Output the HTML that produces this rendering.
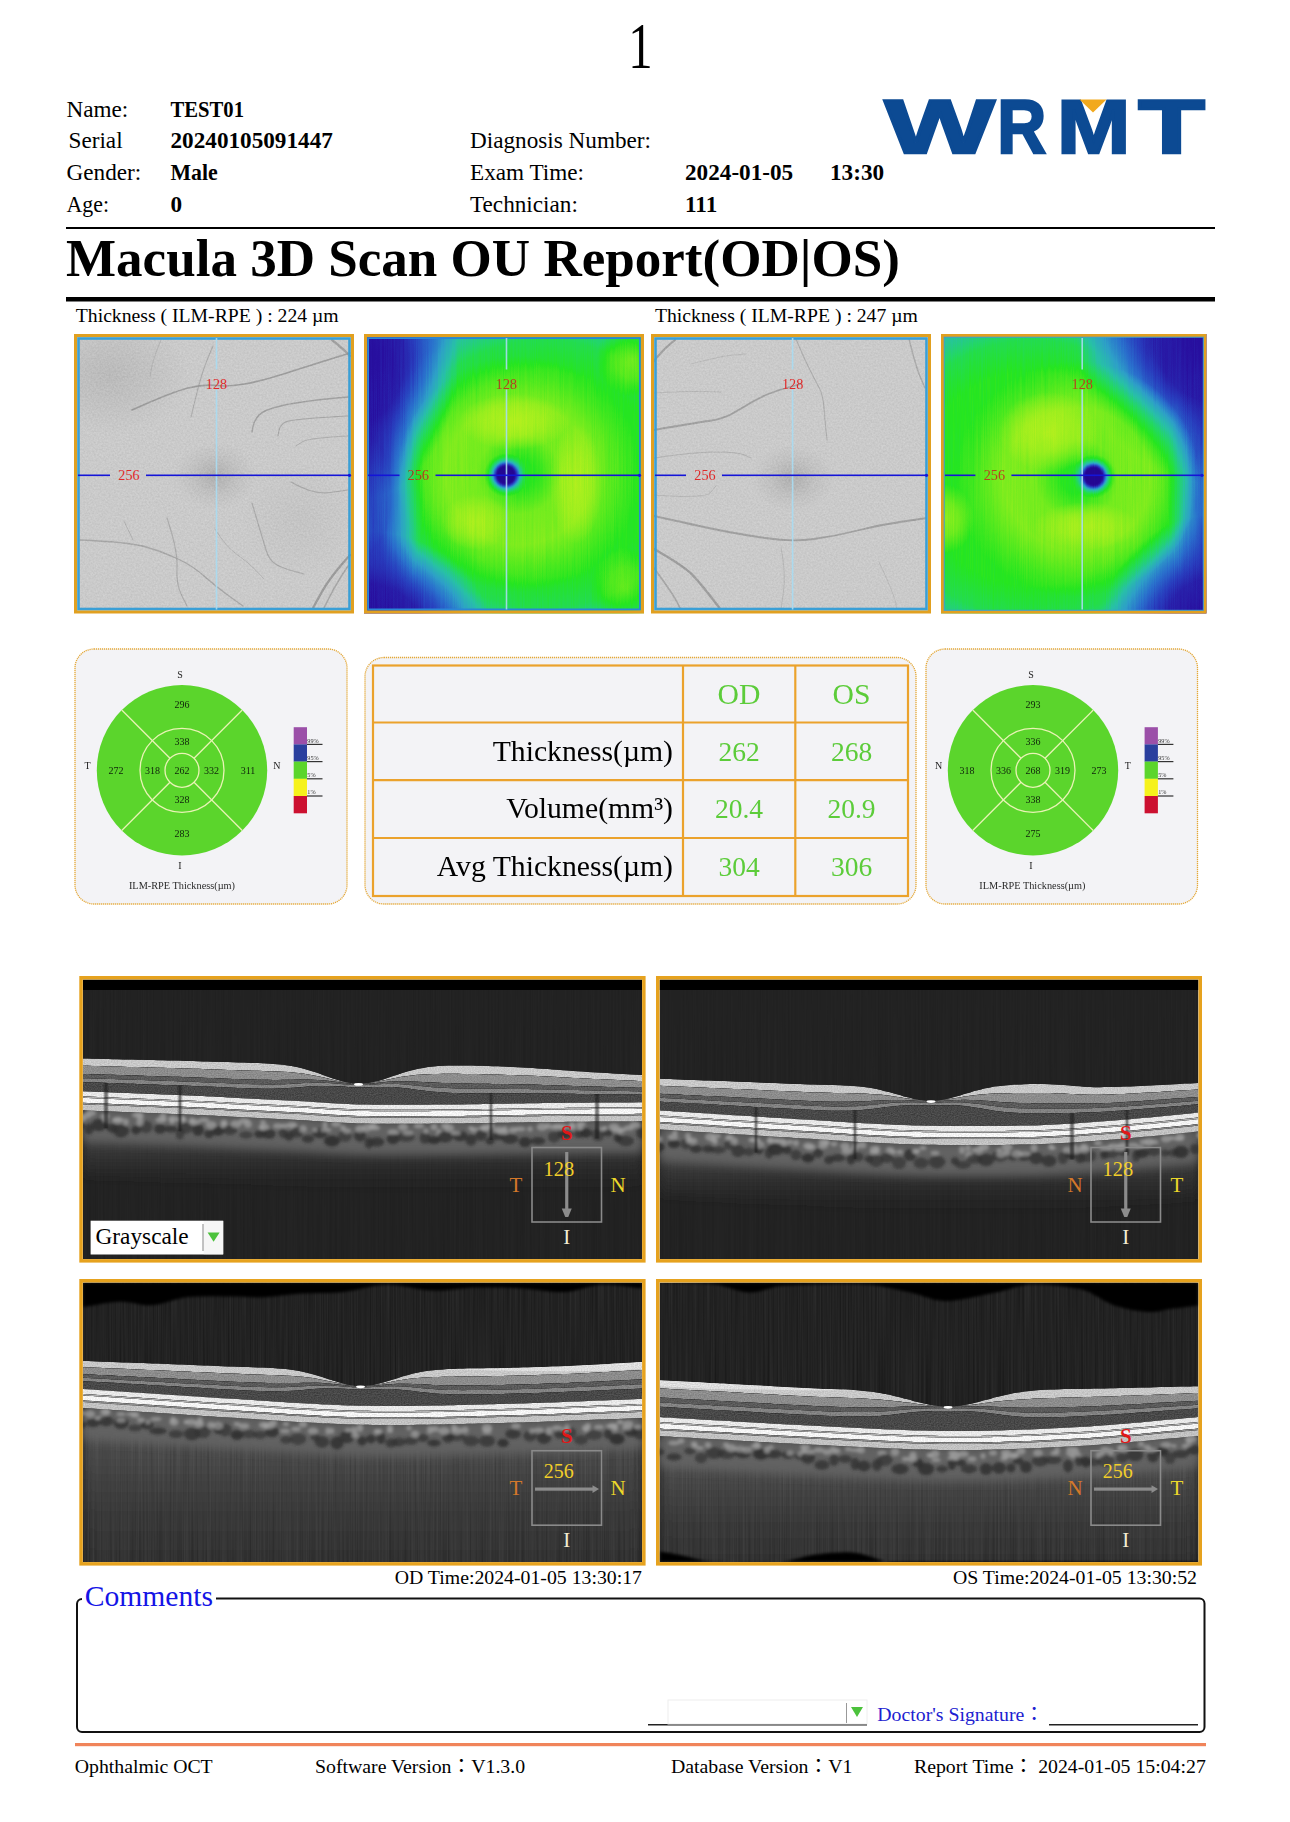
<!DOCTYPE html><html><head><meta charset="utf-8"><title>Macula 3D Scan OU Report</title><style>html,body{margin:0;padding:0;background:#fff;}body{width:1290px;height:1822px;overflow:hidden;}svg{display:block;}</style></head><body><svg width="1290" height="1822" viewBox="0 0 1290 1822" font-family="'Liberation Serif','Noto Sans CJK TC',serif">
<rect width="1290" height="1822" fill="#fff"/>
<text x="640.5" y="68.3" font-size="65" text-anchor="middle" font-weight="normal" fill="#000" transform="translate(640.5 0) scale(0.75 1) translate(-640.5 0)">1</text>
<text x="66.5" y="117.1" font-size="23.2" text-anchor="start" font-weight="normal" fill="#000" >Name:</text>
<text x="68.5" y="148.4" font-size="23.2" text-anchor="start" font-weight="normal" fill="#000" >Serial</text>
<text x="66.5" y="179.8" font-size="23.2" text-anchor="start" font-weight="normal" fill="#000" >Gender:</text>
<text x="66.5" y="211.5" font-size="23.2" text-anchor="start" font-weight="normal" fill="#000" textLength="42.5" lengthAdjust="spacingAndGlyphs">Age:</text>
<text x="170.5" y="117.1" font-size="23.2" text-anchor="start" font-weight="bold" fill="#000" textLength="73.5" lengthAdjust="spacingAndGlyphs">TEST01</text>
<text x="170.5" y="148.4" font-size="23.2" text-anchor="start" font-weight="bold" fill="#000" >20240105091447</text>
<text x="170.5" y="179.8" font-size="23.2" text-anchor="start" font-weight="bold" fill="#000" textLength="47.3" lengthAdjust="spacingAndGlyphs">Male</text>
<text x="170.5" y="211.5" font-size="23.2" text-anchor="start" font-weight="bold" fill="#000" >0</text>
<text x="470" y="148.4" font-size="23.2" text-anchor="start" font-weight="normal" fill="#000" >Diagnosis Number:</text>
<text x="470" y="179.8" font-size="23.2" text-anchor="start" font-weight="normal" fill="#000" >Exam Time:</text>
<text x="470" y="211.5" font-size="23.2" text-anchor="start" font-weight="normal" fill="#000" >Technician:</text>
<text x="685" y="179.8" font-size="23.2" text-anchor="start" font-weight="bold" fill="#000" >2024-01-05</text>
<text x="830" y="179.8" font-size="23.2" text-anchor="start" font-weight="bold" fill="#000" >13:30</text>
<text x="685" y="211.5" font-size="23.2" text-anchor="start" font-weight="bold" fill="#000" >111</text>
<g>
<text x="884.6" y="153.0" font-size="75.3" font-family="'Liberation Sans',sans-serif" font-weight="bold" fill="#0c4a93" stroke="#0c4a93" stroke-width="2.4" stroke-linejoin="miter" textLength="110.2" lengthAdjust="spacingAndGlyphs">W</text>
<text x="997.2" y="153.0" font-size="75.3" font-family="'Liberation Sans',sans-serif" font-weight="bold" fill="#0c4a93" stroke="#0c4a93" stroke-width="2.4" stroke-linejoin="miter" textLength="49.0" lengthAdjust="spacingAndGlyphs">R</text>
<text x="1056.9" y="153.0" font-size="75.3" font-family="'Liberation Sans',sans-serif" font-weight="bold" fill="#0c4a93" stroke="#0c4a93" stroke-width="2.4" stroke-linejoin="miter" textLength="73.4" lengthAdjust="spacingAndGlyphs">M</text>
<text x="1138.3" y="153.0" font-size="75.3" font-family="'Liberation Sans',sans-serif" font-weight="bold" fill="#0c4a93" stroke="#0c4a93" stroke-width="2.4" stroke-linejoin="miter" textLength="66.60000000000001" lengthAdjust="spacingAndGlyphs">T</text>
<polygon points="1079.5,99.6 1106.5,99.6 1093,112.5" fill="#f2a91d"/>
</g>
<rect x="66" y="227" width="1149" height="2" fill="#000"/>
<text x="66" y="275.5" font-size="53.05" text-anchor="start" font-weight="bold" fill="#000" >Macula 3D Scan OU Report(OD|OS)</text>
<rect x="66" y="297" width="1149" height="4.5" fill="#000"/>
<text x="75.8" y="321.5" font-size="19.7" text-anchor="start" font-weight="normal" fill="#000" >Thickness ( ILM-RPE ) : 224 µm</text>
<text x="655" y="321.5" font-size="19.7" text-anchor="start" font-weight="normal" fill="#000" >Thickness ( ILM-RPE ) : 247 µm</text>
<defs>
<filter id="cmap" x="0" y="0" width="1" height="1" color-interpolation-filters="sRGB"><feTurbulence type="fractalNoise" baseFrequency="0.9 0.012" numOctaves="2" seed="3" result="n"/><feColorMatrix in="n" type="matrix" values="0 0 0 0 0  0 0 0 0 0  0 0 0 0 0  0.33 0.33 0.33 0 0" result="ng"/><feColorMatrix in="n" type="matrix" values="1 0 0 0 0  1 0 0 0 0  1 0 0 0 0  0 0 0 0 1" result="nr"/><feComposite in="SourceGraphic" in2="nr" operator="arithmetic" k1="0" k2="1" k3="0.06" k4="-0.03" result="s"/><feComponentTransfer in="s"><feFuncR type="table" tableValues="0.141 0.157 0.157 0.165 0.180 0.157 0.137 0.149 0.439 0.698 0.839"/><feFuncG type="table" tableValues="0.024 0.063 0.243 0.439 0.627 0.753 0.847 0.902 0.925 0.941 0.941"/><feFuncB type="table" tableValues="0.573 0.627 0.745 0.804 0.784 0.659 0.392 0.125 0.118 0.118 0.165"/><feFuncA type="identity"/></feComponentTransfer></filter>
<filter id="fnoise" x="0" y="0" width="1" height="1" color-interpolation-filters="sRGB"><feTurbulence type="fractalNoise" baseFrequency="0.55" numOctaves="2" seed="7" result="n"/><feColorMatrix in="n" type="matrix" values="1 0 0 0 0  1 0 0 0 0  1 0 0 0 0  0 0 0 0 1" result="nr"/><feComposite in="SourceGraphic" in2="nr" operator="arithmetic" k1="0" k2="1" k3="0.10" k4="-0.05"/></filter>
<filter id="blur1" x="-20%" y="-20%" width="140%" height="140%"><feGaussianBlur stdDeviation="0.6"/></filter>
<radialGradient id="odBase" cx="0.5" cy="0.5" r="0.5"><stop offset="0" stop-color="rgb(184,184,184)"/><stop offset="0.5" stop-color="rgb(178,178,178)"/><stop offset="0.68" stop-color="rgb(158,158,158)"/><stop offset="0.8" stop-color="rgb(115,115,115)"/><stop offset="0.9" stop-color="rgb(64,64,64)"/><stop offset="1" stop-color="rgb(31,31,31)"/></radialGradient>
<radialGradient id="odBase2" cx="0.5" cy="0.5" r="0.5"><stop offset="0" stop-color="rgb(178,178,178)" stop-opacity="1"/><stop offset="0.6" stop-color="rgb(178,178,178)" stop-opacity="1"/><stop offset="0.78" stop-color="rgb(161,161,161)" stop-opacity="1"/><stop offset="0.9" stop-color="rgb(140,140,140)" stop-opacity="0.7"/><stop offset="1" stop-color="rgb(117,117,117)" stop-opacity="0"/></radialGradient>
<radialGradient id="dk" cx="0.5" cy="0.5" r="0.5"><stop offset="0" stop-color="rgb(20,20,20)" stop-opacity="1"/><stop offset="0.45" stop-color="rgb(20,20,20)" stop-opacity="0.85"/><stop offset="0.75" stop-color="rgb(20,20,20)" stop-opacity="0.4"/><stop offset="1" stop-color="rgb(20,20,20)" stop-opacity="0"/></radialGradient>
<radialGradient id="ring" cx="0.5" cy="0.5" r="0.5"><stop offset="0" stop-color="rgb(224,224,224)" stop-opacity="0"/><stop offset="0.12" stop-color="rgb(224,224,224)" stop-opacity="0"/><stop offset="0.34" stop-color="rgb(224,224,224)" stop-opacity="0.6"/><stop offset="0.6" stop-color="rgb(224,224,224)" stop-opacity="0.7"/><stop offset="0.84" stop-color="rgb(224,224,224)" stop-opacity="0.25"/><stop offset="1" stop-color="rgb(224,224,224)" stop-opacity="0"/></radialGradient>
<radialGradient id="fov" cx="0.5" cy="0.5" r="0.5"><stop offset="0" stop-color="#000" stop-opacity="1"/><stop offset="0.36" stop-color="#000" stop-opacity="1"/><stop offset="0.5" stop-color="#000" stop-opacity="0.7"/><stop offset="0.65" stop-color="#000" stop-opacity="0.3"/><stop offset="0.82" stop-color="#000" stop-opacity="0.08"/><stop offset="1" stop-color="#000" stop-opacity="0"/></radialGradient>
<radialGradient id="fdark" cx="0.5" cy="0.5" r="0.5"><stop offset="0" stop-color="#000" stop-opacity="0.16"/><stop offset="0.4" stop-color="#000" stop-opacity="0.1"/><stop offset="1" stop-color="#000" stop-opacity="0"/></radialGradient>
<clipPath id="cb0"><rect x="74" y="334" width="280" height="279.5"/></clipPath>
<clipPath id="cb1"><rect x="364" y="334" width="280" height="279.5"/></clipPath>
<clipPath id="cb2"><rect x="651" y="334" width="280" height="279.5"/></clipPath>
<clipPath id="cb3"><rect x="941" y="334" width="265.5" height="279.5"/></clipPath>
<radialGradient id="blob" cx="0.5" cy="0.5" r="0.5"><stop offset="0" stop-color="rgb(235,235,235)" stop-opacity="0.9"/><stop offset="0.5" stop-color="rgb(235,235,235)" stop-opacity="0.6"/><stop offset="1" stop-color="rgb(235,235,235)" stop-opacity="0"/></radialGradient>
</defs>
<g clip-path="url(#cb0)"><g filter="url(#fnoise)">
<rect x="78" y="338" width="272" height="271.5" fill="#cacaca"/>
<ellipse cx="110" cy="375" rx="80" ry="60" fill="url(#fdark)" opacity="0.5"/>
<ellipse cx="300" cy="520" rx="60" ry="60" fill="url(#fdark)" opacity="0.2"/>
<ellipse cx="215" cy="475.5" rx="42" ry="34" fill="url(#fdark)" opacity="0.6"/>
<ellipse cx="215" cy="475.5" rx="22" ry="20" fill="url(#fdark)" opacity="0.25"/>
<path d="M132.0,410.0 Q172.0,392.0 188.0,388.0 Q204.0,384.0 217.0,385.5 Q230.0,387.0 247.5,383.5 Q265.0,380.0 283.5,374.0 Q302.0,368.0 326.0,360.5 L350.0,353.0" fill="none" stroke="#8e8e8e" stroke-width="1.65" stroke-opacity="0.75" stroke-linecap="round"/>
<path d="M213.0,346.0 Q205.0,364.0 201.5,376.0 Q198.0,388.0 194.5,402.5 L191.0,417.0" fill="none" stroke="#8e8e8e" stroke-width="1.05" stroke-opacity="0.55" stroke-linecap="round"/>
<path d="M161.0,340.0 Q153.0,359.0 151.5,368.0 L150.0,377.0" fill="none" stroke="#8e8e8e" stroke-width="0.90" stroke-opacity="0.4" stroke-linecap="round"/>
<path d="M348.0,397.0 Q302.0,401.0 282.5,405.5 Q263.0,410.0 258.5,415.5 Q254.0,421.0 253.0,426.5 L252.0,432.0" fill="none" stroke="#8e8e8e" stroke-width="1.35" stroke-opacity="0.7" stroke-linecap="round"/>
<path d="M348.0,416.0 Q291.0,419.0 285.5,422.0 Q280.0,425.0 279.0,430.5 L278.0,436.0" fill="none" stroke="#8e8e8e" stroke-width="1.12" stroke-opacity="0.6" stroke-linecap="round"/>
<path d="M348.0,436.0 Q308.0,438.0 302.0,442.0 L296.0,446.0" fill="none" stroke="#8e8e8e" stroke-width="0.98" stroke-opacity="0.5" stroke-linecap="round"/>
<path d="M291.0,482.0 Q313.0,495.0 330.5,492.5 L348.0,490.0" fill="none" stroke="#8e8e8e" stroke-width="1.12" stroke-opacity="0.55" stroke-linecap="round"/>
<path d="M350.0,555.0 Q330.0,577.0 321.5,592.5 L313.0,608.0" fill="none" stroke="#8e8e8e" stroke-width="2.25" stroke-opacity="0.8" stroke-linecap="round"/>
<path d="M348.0,566.0 Q336.0,584.0 330.0,596.0 L324.0,608.0" fill="none" stroke="#8e8e8e" stroke-width="1.50" stroke-opacity="0.6" stroke-linecap="round"/>
<path d="M332.0,340.0 Q342.0,348.0 346.0,352.0 L350.0,356.0" fill="none" stroke="#8e8e8e" stroke-width="2.25" stroke-opacity="0.7" stroke-linecap="round"/>
<path d="M80.0,540.0 Q128.0,542.0 144.5,546.5 Q161.0,551.0 177.0,558.5 Q193.0,566.0 204.0,576.0 Q215.0,586.0 229.0,596.0 L243.0,606.0" fill="none" stroke="#8e8e8e" stroke-width="1.35" stroke-opacity="0.6" stroke-linecap="round"/>
<path d="M124.0,521.0 L133.0,540.0" fill="none" stroke="#8e8e8e" stroke-width="0.90" stroke-opacity="0.5" stroke-linecap="round"/>
<path d="M167.0,518.0 Q178.0,551.0 177.0,567.5 Q176.0,584.0 181.5,595.0 L187.0,606.0" fill="none" stroke="#8e8e8e" stroke-width="1.12" stroke-opacity="0.55" stroke-linecap="round"/>
<path d="M252.0,503.0 Q263.0,540.0 266.0,550.0 Q269.0,560.0 275.5,564.0 Q282.0,568.0 293.0,571.0 L304.0,574.0" fill="none" stroke="#8e8e8e" stroke-width="1.12" stroke-opacity="0.55" stroke-linecap="round"/>
<path d="M215.0,529.0 Q226.0,547.0 237.0,554.5 Q248.0,562.0 256.0,570.5 L264.0,579.0" fill="none" stroke="#8e8e8e" stroke-width="0.90" stroke-opacity="0.45" stroke-linecap="round"/>
</g></g>
<rect x="75.6" y="335.6" width="276.8" height="276.3" fill="none" stroke="#e1a020" stroke-width="3.2"/>
<rect x="78.5" y="338.5" width="271.0" height="270.5" fill="none" stroke="#3a9fd6" stroke-width="2.6"/>
<rect x="215.7" y="338" width="1.6" height="31.5" fill="#a8dcf2" opacity="0.9"/>
<rect x="215.7" y="389.5" width="1.6" height="220.0" fill="#a8dcf2" opacity="0.9"/>
<rect x="78" y="474.5" width="32" height="1.6" fill="#1414d8"/>
<rect x="146" y="474.5" width="204" height="1.6" fill="#1414d8"/>
<circle cx="349.5" cy="475.3" r="1.6" fill="#1414d8"/>
<text x="216.5" y="388.5" font-size="14.2" text-anchor="middle" font-weight="normal" fill="#e02828" >128</text>
<text x="129" y="480.3" font-size="14.2" text-anchor="middle" font-weight="normal" fill="#e02828" >256</text>
<g clip-path="url(#cb1)"><g filter="url(#cmap)">
<rect x="367" y="337" width="274" height="273.5" fill="rgb(117,117,117)"/>
<ellipse cx="544" cy="474" rx="188" ry="172" fill="url(#odBase2)"/>
<ellipse cx="359" cy="359" rx="100" ry="140" fill="url(#dk)"/>
<ellipse cx="364" cy="626" rx="125" ry="95" fill="url(#dk)"/>
<ellipse cx="364" cy="494" rx="60" ry="130" fill="url(#dk)" opacity="0.7"/>
<ellipse cx="519" cy="474" rx="122" ry="118" fill="url(#ring)"/>
<ellipse cx="514" cy="422" rx="55" ry="28" fill="url(#blob)" opacity="0.9"/>
<ellipse cx="576" cy="484" rx="26" ry="60" fill="url(#blob)" opacity="0.85"/>
<ellipse cx="476" cy="522" rx="34" ry="28" fill="url(#blob)" opacity="0.75"/>
<ellipse cx="632" cy="359" rx="36" ry="38" fill="url(#blob)" opacity="0.7"/>
<ellipse cx="626" cy="589" rx="36" ry="42" fill="url(#blob)" opacity="0.6"/>
<circle cx="506" cy="475" r="22" fill="url(#fov)"/>
</g></g>
<rect x="365.6" y="335.6" width="276.8" height="276.3" fill="none" stroke="#e1a020" stroke-width="3.2"/>
<rect x="368.09999999999997" y="338.09999999999997" width="271.8" height="271.3" fill="none" stroke="#2a86d6" stroke-width="1.8"/>
<rect x="505.7" y="338" width="1.6" height="31.5" fill="#a8dcf2" opacity="0.9"/>
<rect x="505.7" y="389.5" width="1.6" height="220.0" fill="#a8dcf2" opacity="0.9"/>
<rect x="368" y="474.5" width="31.5" height="1.6" fill="#1414d8"/>
<rect x="435.5" y="474.5" width="204.5" height="1.6" fill="#1414d8"/>
<circle cx="639.5" cy="475.3" r="1.6" fill="#1414d8"/>
<text x="506.5" y="388.5" font-size="14.2" text-anchor="middle" font-weight="normal" fill="#b84020" >128</text>
<text x="418.5" y="480.3" font-size="14.2" text-anchor="middle" font-weight="normal" fill="#b84020" >256</text>
<g clip-path="url(#cb2)"><g filter="url(#fnoise)">
<rect x="655" y="338" width="272" height="271.5" fill="#cacaca"/>
<ellipse cx="160" cy="380" rx="60" ry="50" fill="url(#fdark)" opacity="0.4"/>
<ellipse cx="792.5" cy="478" rx="42" ry="34" fill="url(#fdark)" opacity="0.6"/>
<ellipse cx="792.5" cy="478" rx="22" ry="20" fill="url(#fdark)" opacity="0.25"/>
<path d="M653.0,362.0 Q663.0,350.0 669.0,345.0 L675.0,340.0" fill="none" stroke="#8e8e8e" stroke-width="2.25" stroke-opacity="0.7" stroke-linecap="round"/>
<path d="M654.0,430.0 Q694.0,423.0 708.5,421.0 Q723.0,419.0 732.5,413.5 Q742.0,408.0 753.0,401.5 Q764.0,395.0 775.0,391.5 Q786.0,388.0 793.5,386.0 L801.0,384.0" fill="none" stroke="#8e8e8e" stroke-width="1.80" stroke-opacity="0.7" stroke-linecap="round"/>
<path d="M654.0,393.0 Q691.0,391.0 706.0,391.5 L721.0,392.0" fill="none" stroke="#8e8e8e" stroke-width="0.98" stroke-opacity="0.35" stroke-linecap="round"/>
<path d="M691.0,364.0 Q721.0,356.0 733.5,355.0 L746.0,354.0" fill="none" stroke="#8e8e8e" stroke-width="0.90" stroke-opacity="0.3" stroke-linecap="round"/>
<path d="M796.0,339.0 Q803.0,356.0 809.5,369.0 Q816.0,382.0 819.5,388.5 Q823.0,395.0 824.0,408.0 Q825.0,421.0 826.0,430.5 L827.0,440.0" fill="none" stroke="#8e8e8e" stroke-width="1.05" stroke-opacity="0.5" stroke-linecap="round"/>
<path d="M909.0,339.0 Q916.0,367.0 920.5,377.5 L925.0,388.0" fill="none" stroke="#8e8e8e" stroke-width="1.35" stroke-opacity="0.55" stroke-linecap="round"/>
<path d="M654.0,458.0 Q694.0,452.0 716.0,452.0 Q738.0,452.0 744.5,455.0 L751.0,458.0" fill="none" stroke="#8e8e8e" stroke-width="0.98" stroke-opacity="0.45" stroke-linecap="round"/>
<path d="M654.0,495.0 Q705.0,499.0 710.5,492.5 L716.0,486.0" fill="none" stroke="#8e8e8e" stroke-width="0.90" stroke-opacity="0.4" stroke-linecap="round"/>
<path d="M654.0,516.0 Q694.0,525.0 716.0,529.5 Q738.0,534.0 765.0,538.0 Q792.0,542.0 814.0,539.0 Q836.0,536.0 857.5,530.5 Q879.0,525.0 903.0,521.5 L927.0,518.0" fill="none" stroke="#8e8e8e" stroke-width="1.80" stroke-opacity="0.7" stroke-linecap="round"/>
<path d="M654.0,549.0 Q684.0,566.0 692.5,575.0 Q701.0,584.0 711.0,597.0 L721.0,610.0" fill="none" stroke="#8e8e8e" stroke-width="2.40" stroke-opacity="0.75" stroke-linecap="round"/>
<path d="M654.0,568.0 Q673.0,594.0 677.0,602.0 L681.0,610.0" fill="none" stroke="#8e8e8e" stroke-width="1.65" stroke-opacity="0.6" stroke-linecap="round"/>
<path d="M781.0,547.0 Q786.0,573.0 783.5,591.5 L781.0,610.0" fill="none" stroke="#8e8e8e" stroke-width="0.90" stroke-opacity="0.4" stroke-linecap="round"/>
<path d="M879.0,562.0 Q894.0,594.0 895.5,602.0 L897.0,610.0" fill="none" stroke="#8e8e8e" stroke-width="0.90" stroke-opacity="0.35" stroke-linecap="round"/>
</g></g>
<rect x="652.6" y="335.6" width="276.8" height="276.3" fill="none" stroke="#e1a020" stroke-width="3.2"/>
<rect x="655.5" y="338.5" width="271.0" height="270.5" fill="none" stroke="#3a9fd6" stroke-width="2.6"/>
<rect x="791.8000000000001" y="338" width="1.6" height="31.5" fill="#a8dcf2" opacity="0.9"/>
<rect x="791.8000000000001" y="389.5" width="1.6" height="220.0" fill="#a8dcf2" opacity="0.9"/>
<rect x="655" y="474.5" width="31" height="1.6" fill="#1414d8"/>
<rect x="722" y="474.5" width="205" height="1.6" fill="#1414d8"/>
<circle cx="926.5" cy="475.3" r="1.6" fill="#1414d8"/>
<text x="792.6" y="388.5" font-size="14.2" text-anchor="middle" font-weight="normal" fill="#e02828" >128</text>
<text x="705" y="480.3" font-size="14.2" text-anchor="middle" font-weight="normal" fill="#e02828" >256</text>
<g clip-path="url(#cb3)"><g filter="url(#cmap)">
<rect x="944" y="337" width="259.5" height="273.5" fill="rgb(117,117,117)"/>
<ellipse cx="1033" cy="479" rx="190" ry="178" fill="url(#odBase2)"/>
<ellipse cx="1216" cy="334" rx="140" ry="150" fill="url(#dk)"/>
<ellipse cx="1216" cy="629" rx="115" ry="115" fill="url(#dk)"/>
<ellipse cx="1216" cy="484" rx="50" ry="120" fill="url(#dk)" opacity="0.6"/>
<ellipse cx="1077" cy="479" rx="122" ry="118" fill="url(#ring)"/>
<ellipse cx="1049" cy="432" rx="50" ry="40" fill="url(#blob)" opacity="0.85"/>
<ellipse cx="1086" cy="526" rx="52" ry="24" fill="url(#blob)" opacity="0.8"/>
<ellipse cx="944" cy="519" rx="30" ry="35" fill="url(#blob)" opacity="0.75"/>
<circle cx="1093.6" cy="476.3" r="22" fill="url(#fov)"/>
</g></g>
<rect x="942.6" y="335.6" width="262.3" height="276.3" fill="none" stroke="#e1a020" stroke-width="3.2"/>
<rect x="944.2" y="337.2" width="259.1" height="273.1" fill="none" stroke="#3a9fd6" stroke-width="1"/>
<rect x="1081.4" y="338" width="1.6" height="31.5" fill="#a8dcf2" opacity="0.9"/>
<rect x="1081.4" y="389.5" width="1.6" height="220.0" fill="#a8dcf2" opacity="0.9"/>
<rect x="945" y="474.5" width="30.399999999999977" height="1.6" fill="#1414d8"/>
<rect x="1011.4" y="474.5" width="191.10000000000002" height="1.6" fill="#1414d8"/>
<circle cx="1202.0" cy="475.3" r="1.6" fill="#1414d8"/>
<text x="1082.2" y="388.5" font-size="14.2" text-anchor="middle" font-weight="normal" fill="#b84020" >128</text>
<text x="994.4" y="480.3" font-size="14.2" text-anchor="middle" font-weight="normal" fill="#b84020" >256</text>
<rect x="75" y="649" width="272" height="255" rx="19" fill="#f3f3f6" stroke="#e4a838" stroke-width="1.3" stroke-dasharray="1.2 0.8"/>
<rect x="365" y="657.5" width="551" height="246.5" rx="19" fill="#f3f3f6" stroke="#e4a838" stroke-width="1.3" stroke-dasharray="1.2 0.8"/>
<rect x="926" y="649" width="271.5" height="255" rx="19" fill="#f3f3f6" stroke="#e4a838" stroke-width="1.3" stroke-dasharray="1.2 0.8"/>
<rect x="373" y="665.5" width="535" height="230.5" fill="none" stroke="#eba22c" stroke-width="2.2"/>
<line x1="373" y1="722.5" x2="908" y2="722.5" stroke="#eba22c" stroke-width="2.2"/>
<line x1="373" y1="780.2" x2="908" y2="780.2" stroke="#eba22c" stroke-width="2.2"/>
<line x1="373" y1="838" x2="908" y2="838" stroke="#eba22c" stroke-width="2.2"/>
<line x1="683" y1="665.5" x2="683" y2="896" stroke="#eba22c" stroke-width="2.2"/>
<line x1="795.3" y1="665.5" x2="795.3" y2="896" stroke="#eba22c" stroke-width="2.2"/>
<text x="739" y="704" font-size="29.7" text-anchor="middle" font-weight="normal" fill="#5ccc3a" >OD</text>
<text x="851.5" y="704" font-size="29.7" text-anchor="middle" font-weight="normal" fill="#5ccc3a" >OS</text>
<text x="673" y="760.5" font-size="29.7" text-anchor="end" font-weight="normal" fill="#000" >Thickness(µm)</text>
<text x="739" y="760.5" font-size="27.5" text-anchor="middle" font-weight="normal" fill="#5ccc3a" >262</text>
<text x="851.5" y="760.5" font-size="27.5" text-anchor="middle" font-weight="normal" fill="#5ccc3a" >268</text>
<text x="673" y="818.2" font-size="29.7" text-anchor="end" font-weight="normal" fill="#000" >Volume(mm³)</text>
<text x="739" y="818.2" font-size="27.5" text-anchor="middle" font-weight="normal" fill="#5ccc3a" >20.4</text>
<text x="851.5" y="818.2" font-size="27.5" text-anchor="middle" font-weight="normal" fill="#5ccc3a" >20.9</text>
<text x="673" y="876" font-size="29.7" text-anchor="end" font-weight="normal" fill="#000" >Avg Thickness(µm)</text>
<text x="739" y="876" font-size="27.5" text-anchor="middle" font-weight="normal" fill="#5ccc3a" >304</text>
<text x="851.5" y="876" font-size="27.5" text-anchor="middle" font-weight="normal" fill="#5ccc3a" >306</text>
<circle cx="182" cy="770.3" r="85.2" fill="#5bd52c"/>
<circle cx="182" cy="770.3" r="42" fill="none" stroke="#e9f3b5" stroke-width="1.3"/>
<circle cx="182" cy="770.3" r="17" fill="none" stroke="#e9f3b5" stroke-width="1.3"/>
<line x1="194.02" y1="782.32" x2="242.25" y2="830.55" stroke="#e9f3b5" stroke-width="1.3"/>
<line x1="169.98" y1="782.32" x2="121.75" y2="830.55" stroke="#e9f3b5" stroke-width="1.3"/>
<line x1="169.98" y1="758.28" x2="121.75" y2="710.05" stroke="#e9f3b5" stroke-width="1.3"/>
<line x1="194.02" y1="758.28" x2="242.25" y2="710.05" stroke="#e9f3b5" stroke-width="1.3"/>
<text x="182" y="708.0999999999999" font-size="10" text-anchor="middle" font-weight="normal" fill="#0f230c" >296</text>
<text x="182" y="745.1999999999999" font-size="10" text-anchor="middle" font-weight="normal" fill="#0f230c" >338</text>
<text x="116" y="773.9" font-size="10" text-anchor="middle" font-weight="normal" fill="#0f230c" >272</text>
<text x="152.4" y="773.9" font-size="10" text-anchor="middle" font-weight="normal" fill="#0f230c" >318</text>
<text x="182" y="773.9" font-size="10" text-anchor="middle" font-weight="normal" fill="#0f230c" >262</text>
<text x="211.6" y="773.9" font-size="10" text-anchor="middle" font-weight="normal" fill="#0f230c" >332</text>
<text x="248" y="773.9" font-size="10" text-anchor="middle" font-weight="normal" fill="#0f230c" >311</text>
<text x="182" y="803.3" font-size="10" text-anchor="middle" font-weight="normal" fill="#0f230c" >328</text>
<text x="182" y="836.9999999999999" font-size="10" text-anchor="middle" font-weight="normal" fill="#0f230c" >283</text>
<text x="180" y="678.3" font-size="10" text-anchor="middle" font-weight="normal" fill="#222" >S</text>
<text x="180" y="869.3" font-size="10" text-anchor="middle" font-weight="normal" fill="#222" >I</text>
<text x="87.5" y="769.3" font-size="10" text-anchor="middle" font-weight="normal" fill="#222" >T</text>
<text x="276.8" y="769.3" font-size="10" text-anchor="middle" font-weight="normal" fill="#222" >N</text>
<text x="182" y="888.8" font-size="10.3" text-anchor="middle" font-weight="normal" fill="#2a2a2a" >ILM-RPE Thickness(µm)</text>
<rect x="293.7" y="727.20" width="13.3" height="17.30" fill="#9b4fa8"/>
<rect x="293.7" y="744.40" width="13.3" height="17.30" fill="#2a3f9e"/>
<rect x="293.7" y="761.60" width="13.3" height="17.30" fill="#5bd52c"/>
<rect x="293.7" y="778.80" width="13.3" height="17.30" fill="#f6f21c"/>
<rect x="293.7" y="796.00" width="13.3" height="17.30" fill="#cc1030"/>
<rect x="307.0" y="743.80" width="15.5" height="1.2" fill="#333"/>
<text x="307.3" y="742.8000000000001" font-size="6.2" text-anchor="start" font-weight="normal" fill="#333" >99%</text>
<rect x="307.0" y="761.00" width="15.5" height="1.2" fill="#333"/>
<text x="307.3" y="760.0" font-size="6.2" text-anchor="start" font-weight="normal" fill="#333" >95%</text>
<rect x="307.0" y="778.20" width="15.5" height="1.2" fill="#333"/>
<text x="307.3" y="777.2" font-size="6.2" text-anchor="start" font-weight="normal" fill="#333" >5%</text>
<rect x="307.0" y="795.40" width="15.5" height="1.2" fill="#333"/>
<text x="307.3" y="794.4" font-size="6.2" text-anchor="start" font-weight="normal" fill="#333" >1%</text>
<circle cx="1033" cy="770.3" r="85.2" fill="#5bd52c"/>
<circle cx="1033" cy="770.3" r="42" fill="none" stroke="#e9f3b5" stroke-width="1.3"/>
<circle cx="1033" cy="770.3" r="17" fill="none" stroke="#e9f3b5" stroke-width="1.3"/>
<line x1="1045.02" y1="782.32" x2="1093.25" y2="830.55" stroke="#e9f3b5" stroke-width="1.3"/>
<line x1="1020.98" y1="782.32" x2="972.75" y2="830.55" stroke="#e9f3b5" stroke-width="1.3"/>
<line x1="1020.98" y1="758.28" x2="972.75" y2="710.05" stroke="#e9f3b5" stroke-width="1.3"/>
<line x1="1045.02" y1="758.28" x2="1093.25" y2="710.05" stroke="#e9f3b5" stroke-width="1.3"/>
<text x="1033" y="708.0999999999999" font-size="10" text-anchor="middle" font-weight="normal" fill="#0f230c" >293</text>
<text x="1033" y="745.1999999999999" font-size="10" text-anchor="middle" font-weight="normal" fill="#0f230c" >336</text>
<text x="967" y="773.9" font-size="10" text-anchor="middle" font-weight="normal" fill="#0f230c" >318</text>
<text x="1003.4" y="773.9" font-size="10" text-anchor="middle" font-weight="normal" fill="#0f230c" >336</text>
<text x="1033" y="773.9" font-size="10" text-anchor="middle" font-weight="normal" fill="#0f230c" >268</text>
<text x="1062.6" y="773.9" font-size="10" text-anchor="middle" font-weight="normal" fill="#0f230c" >319</text>
<text x="1099" y="773.9" font-size="10" text-anchor="middle" font-weight="normal" fill="#0f230c" >273</text>
<text x="1033" y="803.3" font-size="10" text-anchor="middle" font-weight="normal" fill="#0f230c" >338</text>
<text x="1033" y="836.9999999999999" font-size="10" text-anchor="middle" font-weight="normal" fill="#0f230c" >275</text>
<text x="1031" y="678.3" font-size="10" text-anchor="middle" font-weight="normal" fill="#222" >S</text>
<text x="1031" y="869.3" font-size="10" text-anchor="middle" font-weight="normal" fill="#222" >I</text>
<text x="938.5" y="769.3" font-size="10" text-anchor="middle" font-weight="normal" fill="#222" >N</text>
<text x="1127.8" y="769.3" font-size="10" text-anchor="middle" font-weight="normal" fill="#222" >T</text>
<text x="1032.4" y="888.8" font-size="10.3" text-anchor="middle" font-weight="normal" fill="#2a2a2a" >ILM-RPE Thickness(µm)</text>
<rect x="1144.6" y="727.20" width="13.3" height="17.30" fill="#9b4fa8"/>
<rect x="1144.6" y="744.40" width="13.3" height="17.30" fill="#2a3f9e"/>
<rect x="1144.6" y="761.60" width="13.3" height="17.30" fill="#5bd52c"/>
<rect x="1144.6" y="778.80" width="13.3" height="17.30" fill="#f6f21c"/>
<rect x="1144.6" y="796.00" width="13.3" height="17.30" fill="#cc1030"/>
<rect x="1157.8999999999999" y="743.80" width="15.5" height="1.2" fill="#333"/>
<text x="1158.1999999999998" y="742.8000000000001" font-size="6.2" text-anchor="start" font-weight="normal" fill="#333" >99%</text>
<rect x="1157.8999999999999" y="761.00" width="15.5" height="1.2" fill="#333"/>
<text x="1158.1999999999998" y="760.0" font-size="6.2" text-anchor="start" font-weight="normal" fill="#333" >95%</text>
<rect x="1157.8999999999999" y="778.20" width="15.5" height="1.2" fill="#333"/>
<text x="1158.1999999999998" y="777.2" font-size="6.2" text-anchor="start" font-weight="normal" fill="#333" >5%</text>
<rect x="1157.8999999999999" y="795.40" width="15.5" height="1.2" fill="#333"/>
<text x="1158.1999999999998" y="794.4" font-size="6.2" text-anchor="start" font-weight="normal" fill="#333" >1%</text>
<defs>
<filter id="ob" x="-5%" y="-5%" width="110%" height="110%"><feGaussianBlur stdDeviation="0.6"/></filter>
<filter id="ob15" x="-5%" y="-20%" width="110%" height="140%"><feGaussianBlur stdDeviation="1.4"/></filter>
<filter id="ob2" x="-5%" y="-20%" width="110%" height="140%"><feGaussianBlur stdDeviation="2.4"/></filter>
<filter id="ob4" x="-5%" y="-30%" width="110%" height="160%"><feGaussianBlur stdDeviation="5"/></filter>
<filter id="vstreak" x="0" y="0" width="1" height="1" color-interpolation-filters="sRGB"><feTurbulence type="fractalNoise" baseFrequency="0.6 0.006" numOctaves="2" seed="11" result="n"/><feColorMatrix in="n" type="matrix" values="1 0 0 0 0  1 0 0 0 0  1 0 0 0 0  0 0 0 0 1" result="nr"/><feComposite in="SourceGraphic" in2="nr" operator="arithmetic" k1="0" k2="1" k3="0.10" k4="-0.05"/></filter>
<filter id="vstreak2" x="0" y="0" width="1" height="1" color-interpolation-filters="sRGB"><feTurbulence type="fractalNoise" baseFrequency="0.6 0.006" numOctaves="2" seed="5" result="n"/><feColorMatrix in="n" type="matrix" values="1 0 0 0 0  1 0 0 0 0  1 0 0 0 0  0 0 0 0 1" result="nr"/><feComposite in="SourceGraphic" in2="nr" operator="arithmetic" k1="0" k2="1" k3="0.03" k4="-0.015"/></filter>
<filter id="speck" x="-2%" y="-5%" width="104%" height="110%" color-interpolation-filters="sRGB"><feGaussianBlur in="SourceGraphic" stdDeviation="0.6" result="b"/><feTurbulence type="fractalNoise" baseFrequency="0.7 0.9" numOctaves="1" seed="2" result="n"/><feColorMatrix in="n" type="matrix" values="1 0 0 0 0  1 0 0 0 0  1 0 0 0 0  0 0 0 0 1" result="nr"/><feComposite in="b" in2="nr" operator="arithmetic" k1="0" k2="1" k3="0.22" k4="-0.11" result="c"/><feComposite in="c" in2="b" operator="in"/></filter>
<clipPath id="co0"><rect x="82.8" y="979.5" width="559.3000000000001" height="279.5999999999999"/></clipPath>
<clipPath id="co1"><rect x="659.5" y="979.5" width="539" height="279.5999999999999"/></clipPath>
<clipPath id="co2"><rect x="82.8" y="1282.5" width="559.3000000000001" height="279.5999999999999"/></clipPath>
<clipPath id="co3"><rect x="659.5" y="1282.5" width="539" height="279.5999999999999"/></clipPath>
<linearGradient id="chfade" x1="0" y1="0" x2="0" y2="1"><stop offset="0" stop-color="#5c5c5c"/><stop offset="0.3" stop-color="#484848"/><stop offset="1" stop-color="#2a2a2a" stop-opacity="0"/></linearGradient>
<linearGradient id="chfade2" x1="0" y1="0" x2="0" y2="1"><stop offset="0" stop-color="#666"/><stop offset="0.25" stop-color="#4a4a4a"/><stop offset="0.6" stop-color="#3a3a3a"/><stop offset="1" stop-color="#303030"/></linearGradient>
</defs>
<g clip-path="url(#co0)">
<g filter="url(#vstreak2)">
<rect x="82.8" y="979.5" width="559.3000000000001" height="279.5999999999999" fill="#222"/>
<polygon points="83,1111.3 88,1111.5 93,1111.7 98,1111.9 103,1112.1 108,1112.3 113,1112.5 118,1112.7 123,1112.9 128,1113.1 133,1113.3 138,1113.5 143,1113.7 148,1113.9 153,1114.1 158,1114.3 163,1114.5 168,1114.7 173,1114.9 178,1115.1 183,1115.3 188,1115.5 193,1115.7 198,1115.9 203,1116.1 208,1116.4 213,1116.6 218,1116.9 223,1117.1 228,1117.4 233,1117.7 238,1117.9 243,1118.2 248,1118.5 253,1118.7 258,1119.0 263,1119.2 268,1119.5 273,1119.7 278,1120.0 283,1120.2 288,1120.5 293,1120.7 298,1120.9 303,1121.2 308,1121.6 313,1121.9 318,1122.3 323,1122.6 328,1122.9 333,1123.2 338,1123.5 343,1123.8 348,1124.0 353,1124.3 358,1124.4 363,1124.6 368,1124.6 373,1124.7 378,1124.7 383,1124.8 388,1124.8 393,1124.8 398,1124.8 403,1124.8 408,1124.8 413,1124.8 418,1124.8 423,1124.7 428,1124.7 433,1124.6 438,1124.6 443,1124.6 448,1124.5 453,1124.5 458,1124.4 463,1124.4 468,1124.3 473,1124.2 478,1124.2 483,1124.1 488,1124.0 493,1123.9 498,1123.8 503,1123.7 508,1123.7 513,1123.6 518,1123.5 523,1123.4 528,1123.3 533,1123.2 538,1123.2 543,1123.1 548,1123.0 553,1123.0 558,1122.9 563,1122.9 568,1122.8 573,1122.8 578,1122.7 583,1122.7 588,1122.7 593,1122.6 598,1122.6 603,1122.6 608,1122.5 613,1122.5 618,1122.5 623,1122.4 628,1122.4 633,1122.4 638,1122.3 642,1122.3 642,1187.3 638,1187.3 633,1187.4 628,1187.4 623,1187.4 618,1187.5 613,1187.5 608,1187.5 603,1187.6 598,1187.6 593,1187.6 588,1187.7 583,1187.7 578,1187.7 573,1187.8 568,1187.8 563,1187.9 558,1187.9 553,1188.0 548,1188.0 543,1188.1 538,1188.2 533,1188.2 528,1188.3 523,1188.4 518,1188.5 513,1188.6 508,1188.7 503,1188.7 498,1188.8 493,1188.9 488,1189.0 483,1189.1 478,1189.2 473,1189.2 468,1189.3 463,1189.4 458,1189.4 453,1189.5 448,1189.5 443,1189.6 438,1189.6 433,1189.6 428,1189.7 423,1189.7 418,1189.8 413,1189.8 408,1189.8 403,1189.8 398,1189.8 393,1189.8 388,1189.8 383,1189.8 378,1189.7 373,1189.7 368,1189.6 363,1189.6 358,1189.4 353,1189.3 348,1189.0 343,1188.8 338,1188.5 333,1188.2 328,1187.9 323,1187.6 318,1187.3 313,1186.9 308,1186.6 303,1186.2 298,1185.9 293,1185.7 288,1185.5 283,1185.2 278,1185.0 273,1184.7 268,1184.5 263,1184.2 258,1184.0 253,1183.7 248,1183.5 243,1183.2 238,1182.9 233,1182.7 228,1182.4 223,1182.1 218,1181.9 213,1181.6 208,1181.4 203,1181.1 198,1180.9 193,1180.7 188,1180.5 183,1180.3 178,1180.1 173,1179.9 168,1179.7 163,1179.5 158,1179.3 153,1179.1 148,1178.9 143,1178.7 138,1178.5 133,1178.3 128,1178.1 123,1177.9 118,1177.7 113,1177.5 108,1177.3 103,1177.1 98,1176.9 93,1176.7 88,1176.5 83,1176.3" fill="url(#chfade)" filter="url(#ob4)"/>
</g>
<g filter="url(#ob4)">
<polygon points="83,1107.3 88,1107.5 93,1107.7 98,1107.9 103,1108.1 108,1108.3 113,1108.5 118,1108.7 123,1108.9 128,1109.1 133,1109.3 138,1109.5 143,1109.7 148,1109.9 153,1110.1 158,1110.3 163,1110.5 168,1110.7 173,1110.9 178,1111.1 183,1111.3 188,1111.5 193,1111.7 198,1111.9 203,1112.1 208,1112.4 213,1112.6 218,1112.9 223,1113.1 228,1113.4 233,1113.7 238,1113.9 243,1114.2 248,1114.5 253,1114.7 258,1115.0 263,1115.2 268,1115.5 273,1115.7 278,1116.0 283,1116.2 288,1116.5 293,1116.7 298,1116.9 303,1117.2 308,1117.6 313,1117.9 318,1118.3 323,1118.6 328,1118.9 333,1119.2 338,1119.5 343,1119.8 348,1120.0 353,1120.3 358,1120.4 363,1120.6 368,1120.6 373,1120.7 378,1120.7 383,1120.8 388,1120.8 393,1120.8 398,1120.8 403,1120.8 408,1120.8 413,1120.8 418,1120.8 423,1120.7 428,1120.7 433,1120.6 438,1120.6 443,1120.6 448,1120.5 453,1120.5 458,1120.4 463,1120.4 468,1120.3 473,1120.2 478,1120.2 483,1120.1 488,1120.0 493,1119.9 498,1119.8 503,1119.7 508,1119.7 513,1119.6 518,1119.5 523,1119.4 528,1119.3 533,1119.2 538,1119.2 543,1119.1 548,1119.0 553,1119.0 558,1118.9 563,1118.9 568,1118.8 573,1118.8 578,1118.7 583,1118.7 588,1118.7 593,1118.6 598,1118.6 603,1118.6 608,1118.5 613,1118.5 618,1118.5 623,1118.4 628,1118.4 633,1118.4 638,1118.3 642,1118.3 642,1152.3 638,1152.3 633,1152.4 628,1152.4 623,1152.4 618,1152.5 613,1152.5 608,1152.5 603,1152.6 598,1152.6 593,1152.6 588,1152.7 583,1152.7 578,1152.7 573,1152.8 568,1152.8 563,1152.9 558,1152.9 553,1153.0 548,1153.0 543,1153.1 538,1153.2 533,1153.2 528,1153.3 523,1153.4 518,1153.5 513,1153.6 508,1153.7 503,1153.7 498,1153.8 493,1153.9 488,1154.0 483,1154.1 478,1154.2 473,1154.2 468,1154.3 463,1154.4 458,1154.4 453,1154.5 448,1154.5 443,1154.6 438,1154.6 433,1154.6 428,1154.7 423,1154.7 418,1154.8 413,1154.8 408,1154.8 403,1154.8 398,1154.8 393,1154.8 388,1154.8 383,1154.8 378,1154.7 373,1154.7 368,1154.6 363,1154.6 358,1154.4 353,1154.3 348,1154.0 343,1153.8 338,1153.5 333,1153.2 328,1152.9 323,1152.6 318,1152.3 313,1151.9 308,1151.6 303,1151.2 298,1150.9 293,1150.7 288,1150.5 283,1150.2 278,1150.0 273,1149.7 268,1149.5 263,1149.2 258,1149.0 253,1148.7 248,1148.5 243,1148.2 238,1147.9 233,1147.7 228,1147.4 223,1147.1 218,1146.9 213,1146.6 208,1146.4 203,1146.1 198,1145.9 193,1145.7 188,1145.5 183,1145.3 178,1145.1 173,1144.9 168,1144.7 163,1144.5 158,1144.3 153,1144.1 148,1143.9 143,1143.7 138,1143.5 133,1143.3 128,1143.1 123,1142.9 118,1142.7 113,1142.5 108,1142.3 103,1142.1 98,1141.9 93,1141.7 88,1141.5 83,1141.3" fill="#626262" />
</g>
<g filter="url(#ob15)">
<ellipse cx="79" cy="1125" rx="5.2" ry="5.1" fill="#2e2e2e" opacity="0.78"/>
<ellipse cx="73" cy="1112" rx="5.4" ry="2.5" fill="#a0a0a0" opacity="0.7"/>
<ellipse cx="86" cy="1116" rx="5.4" ry="3.0" fill="#a0a0a0" opacity="0.7"/>
<ellipse cx="89" cy="1129" rx="4.8" ry="5.4" fill="#2e2e2e" opacity="0.76"/>
<ellipse cx="91" cy="1113" rx="5.2" ry="3.2" fill="#a0a0a0" opacity="0.7"/>
<ellipse cx="82" cy="1119" rx="4.2" ry="3.4" fill="#a0a0a0" opacity="0.7"/>
<ellipse cx="99" cy="1125" rx="7.6" ry="6.3" fill="#2e2e2e" opacity="0.84"/>
<ellipse cx="105" cy="1120" rx="2.8" ry="2.3" fill="#a0a0a0" opacity="0.7"/>
<ellipse cx="105" cy="1116" rx="4.7" ry="2.6" fill="#a0a0a0" opacity="0.7"/>
<ellipse cx="112" cy="1128" rx="5.9" ry="4.6" fill="#2e2e2e" opacity="0.78"/>
<ellipse cx="118" cy="1120" rx="6.0" ry="3.3" fill="#a0a0a0" opacity="0.7"/>
<ellipse cx="121" cy="1131" rx="8.3" ry="6.4" fill="#2e2e2e" opacity="0.77"/>
<ellipse cx="117" cy="1120" rx="4.5" ry="2.6" fill="#a0a0a0" opacity="0.7"/>
<ellipse cx="126" cy="1122" rx="2.8" ry="3.6" fill="#a0a0a0" opacity="0.7"/>
<ellipse cx="136" cy="1130" rx="4.8" ry="4.4" fill="#2e2e2e" opacity="0.86"/>
<ellipse cx="137" cy="1115" rx="5.0" ry="2.7" fill="#a0a0a0" opacity="0.7"/>
<ellipse cx="146" cy="1127" rx="6.5" ry="6.5" fill="#2e2e2e" opacity="0.62"/>
<ellipse cx="140" cy="1116" rx="3.9" ry="3.2" fill="#a0a0a0" opacity="0.7"/>
<ellipse cx="140" cy="1122" rx="3.6" ry="3.9" fill="#a0a0a0" opacity="0.7"/>
<ellipse cx="160" cy="1129" rx="5.9" ry="4.9" fill="#2e2e2e" opacity="0.79"/>
<ellipse cx="161" cy="1120" rx="5.8" ry="3.0" fill="#a0a0a0" opacity="0.7"/>
<ellipse cx="163" cy="1117" rx="3.6" ry="4.0" fill="#a0a0a0" opacity="0.7"/>
<ellipse cx="171" cy="1129" rx="6.7" ry="3.5" fill="#2e2e2e" opacity="0.77"/>
<ellipse cx="172" cy="1121" rx="2.7" ry="3.3" fill="#a0a0a0" opacity="0.7"/>
<ellipse cx="173" cy="1119" rx="5.0" ry="3.5" fill="#a0a0a0" opacity="0.7"/>
<ellipse cx="180" cy="1134" rx="4.3" ry="5.5" fill="#2e2e2e" opacity="0.68"/>
<ellipse cx="182" cy="1119" rx="3.8" ry="2.6" fill="#a0a0a0" opacity="0.7"/>
<ellipse cx="182" cy="1119" rx="3.8" ry="3.5" fill="#a0a0a0" opacity="0.7"/>
<ellipse cx="186" cy="1128" rx="6.8" ry="5.7" fill="#2e2e2e" opacity="0.67"/>
<ellipse cx="182" cy="1120" rx="4.9" ry="2.2" fill="#a0a0a0" opacity="0.7"/>
<ellipse cx="198" cy="1130" rx="5.7" ry="6.0" fill="#2e2e2e" opacity="0.86"/>
<ellipse cx="195" cy="1122" rx="5.6" ry="2.9" fill="#a0a0a0" opacity="0.7"/>
<ellipse cx="192" cy="1121" rx="3.2" ry="3.6" fill="#a0a0a0" opacity="0.7"/>
<ellipse cx="209" cy="1134" rx="4.9" ry="4.3" fill="#2e2e2e" opacity="0.79"/>
<ellipse cx="204" cy="1120" rx="5.3" ry="2.5" fill="#a0a0a0" opacity="0.7"/>
<ellipse cx="218" cy="1131" rx="6.1" ry="4.8" fill="#2e2e2e" opacity="0.88"/>
<ellipse cx="211" cy="1125" rx="5.6" ry="4.0" fill="#a0a0a0" opacity="0.7"/>
<ellipse cx="224" cy="1125" rx="3.3" ry="3.5" fill="#a0a0a0" opacity="0.7"/>
<ellipse cx="230" cy="1130" rx="7.3" ry="5.1" fill="#2e2e2e" opacity="0.70"/>
<ellipse cx="224" cy="1123" rx="3.5" ry="3.6" fill="#a0a0a0" opacity="0.7"/>
<ellipse cx="236" cy="1124" rx="5.7" ry="3.8" fill="#a0a0a0" opacity="0.7"/>
<ellipse cx="246" cy="1135" rx="6.9" ry="3.5" fill="#2e2e2e" opacity="0.65"/>
<ellipse cx="248" cy="1124" rx="3.9" ry="3.9" fill="#a0a0a0" opacity="0.7"/>
<ellipse cx="244" cy="1121" rx="5.5" ry="3.0" fill="#a0a0a0" opacity="0.7"/>
<ellipse cx="260" cy="1134" rx="5.8" ry="4.1" fill="#2e2e2e" opacity="0.85"/>
<ellipse cx="264" cy="1127" rx="5.3" ry="3.6" fill="#a0a0a0" opacity="0.7"/>
<ellipse cx="262" cy="1127" rx="2.7" ry="2.5" fill="#a0a0a0" opacity="0.7"/>
<ellipse cx="269" cy="1134" rx="6.6" ry="4.8" fill="#2e2e2e" opacity="0.83"/>
<ellipse cx="263" cy="1122" rx="2.9" ry="2.1" fill="#a0a0a0" opacity="0.7"/>
<ellipse cx="283" cy="1133" rx="4.4" ry="5.0" fill="#2e2e2e" opacity="0.69"/>
<ellipse cx="285" cy="1126" rx="3.8" ry="2.4" fill="#a0a0a0" opacity="0.7"/>
<ellipse cx="278" cy="1126" rx="5.0" ry="2.8" fill="#a0a0a0" opacity="0.7"/>
<ellipse cx="289" cy="1136" rx="4.9" ry="4.6" fill="#2e2e2e" opacity="0.83"/>
<ellipse cx="294" cy="1127" rx="4.0" ry="2.7" fill="#a0a0a0" opacity="0.7"/>
<ellipse cx="292" cy="1125" rx="4.9" ry="2.9" fill="#a0a0a0" opacity="0.7"/>
<ellipse cx="297" cy="1132" rx="6.7" ry="5.6" fill="#2e2e2e" opacity="0.73"/>
<ellipse cx="303" cy="1129" rx="3.8" ry="3.8" fill="#a0a0a0" opacity="0.7"/>
<ellipse cx="308" cy="1139" rx="6.3" ry="3.9" fill="#2e2e2e" opacity="0.80"/>
<ellipse cx="320" cy="1133" rx="7.7" ry="5.2" fill="#2e2e2e" opacity="0.78"/>
<ellipse cx="315" cy="1130" rx="2.7" ry="2.2" fill="#a0a0a0" opacity="0.7"/>
<ellipse cx="325" cy="1125" rx="2.6" ry="3.7" fill="#a0a0a0" opacity="0.7"/>
<ellipse cx="332" cy="1141" rx="8.2" ry="5.5" fill="#2e2e2e" opacity="0.89"/>
<ellipse cx="336" cy="1124" rx="5.2" ry="3.0" fill="#a0a0a0" opacity="0.7"/>
<ellipse cx="326" cy="1130" rx="5.8" ry="2.1" fill="#a0a0a0" opacity="0.7"/>
<ellipse cx="345" cy="1136" rx="6.8" ry="6.0" fill="#2e2e2e" opacity="0.65"/>
<ellipse cx="347" cy="1131" rx="3.9" ry="2.7" fill="#a0a0a0" opacity="0.7"/>
<ellipse cx="343" cy="1128" rx="2.8" ry="3.0" fill="#a0a0a0" opacity="0.7"/>
<ellipse cx="360" cy="1136" rx="6.1" ry="5.7" fill="#2e2e2e" opacity="0.81"/>
<ellipse cx="360" cy="1129" rx="4.8" ry="3.8" fill="#a0a0a0" opacity="0.7"/>
<ellipse cx="369" cy="1143" rx="4.5" ry="5.7" fill="#2e2e2e" opacity="0.76"/>
<ellipse cx="372" cy="1127" rx="3.4" ry="2.4" fill="#a0a0a0" opacity="0.7"/>
<ellipse cx="367" cy="1128" rx="4.9" ry="3.9" fill="#a0a0a0" opacity="0.7"/>
<ellipse cx="377" cy="1142" rx="7.5" ry="4.7" fill="#2e2e2e" opacity="0.78"/>
<ellipse cx="373" cy="1126" rx="4.2" ry="2.8" fill="#a0a0a0" opacity="0.7"/>
<ellipse cx="375" cy="1128" rx="5.2" ry="2.3" fill="#a0a0a0" opacity="0.7"/>
<ellipse cx="393" cy="1139" rx="6.4" ry="5.3" fill="#2e2e2e" opacity="0.85"/>
<ellipse cx="393" cy="1132" rx="5.5" ry="2.8" fill="#a0a0a0" opacity="0.7"/>
<ellipse cx="406" cy="1137" rx="8.8" ry="4.9" fill="#2e2e2e" opacity="0.67"/>
<ellipse cx="408" cy="1133" rx="5.5" ry="2.5" fill="#a0a0a0" opacity="0.7"/>
<ellipse cx="403" cy="1127" rx="5.0" ry="3.7" fill="#a0a0a0" opacity="0.7"/>
<ellipse cx="425" cy="1138" rx="5.3" ry="6.1" fill="#2e2e2e" opacity="0.73"/>
<ellipse cx="419" cy="1126" rx="5.4" ry="2.6" fill="#a0a0a0" opacity="0.7"/>
<ellipse cx="426" cy="1131" rx="2.5" ry="2.7" fill="#a0a0a0" opacity="0.7"/>
<ellipse cx="434" cy="1140" rx="6.4" ry="4.1" fill="#2e2e2e" opacity="0.89"/>
<ellipse cx="434" cy="1127" rx="3.5" ry="3.3" fill="#a0a0a0" opacity="0.7"/>
<ellipse cx="439" cy="1133" rx="2.8" ry="3.9" fill="#a0a0a0" opacity="0.7"/>
<ellipse cx="445" cy="1137" rx="7.9" ry="5.8" fill="#2e2e2e" opacity="0.80"/>
<ellipse cx="449" cy="1128" rx="5.1" ry="3.9" fill="#a0a0a0" opacity="0.7"/>
<ellipse cx="445" cy="1126" rx="4.2" ry="2.7" fill="#a0a0a0" opacity="0.7"/>
<ellipse cx="460" cy="1136" rx="7.4" ry="5.2" fill="#2e2e2e" opacity="0.79"/>
<ellipse cx="456" cy="1133" rx="4.8" ry="2.2" fill="#a0a0a0" opacity="0.7"/>
<ellipse cx="471" cy="1140" rx="5.7" ry="5.7" fill="#2e2e2e" opacity="0.77"/>
<ellipse cx="471" cy="1128" rx="3.1" ry="2.1" fill="#a0a0a0" opacity="0.7"/>
<ellipse cx="475" cy="1130" rx="5.1" ry="2.7" fill="#a0a0a0" opacity="0.7"/>
<ellipse cx="481" cy="1135" rx="5.9" ry="6.1" fill="#2e2e2e" opacity="0.75"/>
<ellipse cx="484" cy="1128" rx="3.7" ry="2.8" fill="#a0a0a0" opacity="0.7"/>
<ellipse cx="484" cy="1128" rx="5.5" ry="2.2" fill="#a0a0a0" opacity="0.7"/>
<ellipse cx="490" cy="1141" rx="4.5" ry="3.8" fill="#2e2e2e" opacity="0.82"/>
<ellipse cx="486" cy="1128" rx="5.1" ry="3.6" fill="#a0a0a0" opacity="0.7"/>
<ellipse cx="491" cy="1126" rx="3.9" ry="2.4" fill="#a0a0a0" opacity="0.7"/>
<ellipse cx="498" cy="1136" rx="6.8" ry="4.1" fill="#2e2e2e" opacity="0.83"/>
<ellipse cx="503" cy="1132" rx="5.8" ry="2.8" fill="#a0a0a0" opacity="0.7"/>
<ellipse cx="499" cy="1130" rx="5.9" ry="3.4" fill="#a0a0a0" opacity="0.7"/>
<ellipse cx="510" cy="1139" rx="8.3" ry="5.0" fill="#2e2e2e" opacity="0.82"/>
<ellipse cx="513" cy="1130" rx="4.2" ry="3.0" fill="#a0a0a0" opacity="0.7"/>
<ellipse cx="505" cy="1129" rx="2.6" ry="3.0" fill="#a0a0a0" opacity="0.7"/>
<ellipse cx="525" cy="1142" rx="6.2" ry="5.2" fill="#2e2e2e" opacity="0.87"/>
<ellipse cx="530" cy="1129" rx="2.7" ry="2.7" fill="#a0a0a0" opacity="0.7"/>
<ellipse cx="520" cy="1129" rx="5.8" ry="2.6" fill="#a0a0a0" opacity="0.7"/>
<ellipse cx="538" cy="1141" rx="7.5" ry="3.9" fill="#2e2e2e" opacity="0.78"/>
<ellipse cx="542" cy="1127" rx="5.3" ry="3.9" fill="#a0a0a0" opacity="0.7"/>
<ellipse cx="554" cy="1137" rx="6.2" ry="5.8" fill="#2e2e2e" opacity="0.63"/>
<ellipse cx="548" cy="1126" rx="3.1" ry="3.0" fill="#a0a0a0" opacity="0.7"/>
<ellipse cx="555" cy="1127" rx="4.8" ry="2.6" fill="#a0a0a0" opacity="0.7"/>
<ellipse cx="565" cy="1134" rx="7.8" ry="4.7" fill="#2e2e2e" opacity="0.87"/>
<ellipse cx="563" cy="1127" rx="4.4" ry="3.2" fill="#a0a0a0" opacity="0.7"/>
<ellipse cx="558" cy="1126" rx="5.2" ry="2.3" fill="#a0a0a0" opacity="0.7"/>
<ellipse cx="579" cy="1134" rx="5.0" ry="4.1" fill="#2e2e2e" opacity="0.72"/>
<ellipse cx="572" cy="1125" rx="3.1" ry="3.0" fill="#a0a0a0" opacity="0.7"/>
<ellipse cx="572" cy="1127" rx="3.9" ry="3.4" fill="#a0a0a0" opacity="0.7"/>
<ellipse cx="586" cy="1133" rx="6.0" ry="4.7" fill="#2e2e2e" opacity="0.89"/>
<ellipse cx="580" cy="1127" rx="3.1" ry="3.2" fill="#a0a0a0" opacity="0.7"/>
<ellipse cx="581" cy="1124" rx="5.0" ry="2.6" fill="#a0a0a0" opacity="0.7"/>
<ellipse cx="598" cy="1135" rx="6.3" ry="6.3" fill="#2e2e2e" opacity="0.67"/>
<ellipse cx="603" cy="1129" rx="3.7" ry="2.2" fill="#a0a0a0" opacity="0.7"/>
<ellipse cx="605" cy="1128" rx="2.5" ry="2.1" fill="#a0a0a0" opacity="0.7"/>
<ellipse cx="608" cy="1133" rx="4.9" ry="3.6" fill="#2e2e2e" opacity="0.80"/>
<ellipse cx="614" cy="1127" rx="5.3" ry="3.8" fill="#a0a0a0" opacity="0.7"/>
<ellipse cx="618" cy="1138" rx="4.2" ry="4.4" fill="#2e2e2e" opacity="0.88"/>
<ellipse cx="615" cy="1130" rx="2.9" ry="2.8" fill="#a0a0a0" opacity="0.7"/>
<ellipse cx="620" cy="1131" rx="3.1" ry="3.5" fill="#a0a0a0" opacity="0.7"/>
<ellipse cx="626" cy="1141" rx="8.2" ry="5.2" fill="#2e2e2e" opacity="0.71"/>
<ellipse cx="622" cy="1130" rx="4.2" ry="2.5" fill="#a0a0a0" opacity="0.7"/>
<ellipse cx="629" cy="1128" rx="5.0" ry="2.8" fill="#a0a0a0" opacity="0.7"/>
<ellipse cx="641" cy="1133" rx="4.8" ry="5.6" fill="#2e2e2e" opacity="0.74"/>
<ellipse cx="635" cy="1125" rx="5.5" ry="3.3" fill="#a0a0a0" opacity="0.7"/>
</g>
<g filter="url(#speck)">
<polygon points="83,1058.5 88,1058.6 93,1058.7 98,1058.8 103,1058.9 108,1059.0 113,1059.2 118,1059.3 123,1059.4 128,1059.5 133,1059.6 138,1059.7 143,1059.8 148,1060.0 153,1060.1 158,1060.2 163,1060.3 168,1060.4 173,1060.5 178,1060.6 183,1060.8 188,1060.9 193,1061.1 198,1061.2 203,1061.4 208,1061.5 213,1061.7 218,1061.8 223,1062.0 228,1062.1 233,1062.3 238,1062.4 243,1062.6 248,1062.7 253,1062.9 258,1063.1 263,1063.3 268,1063.5 273,1063.9 278,1064.3 283,1064.8 288,1065.5 293,1066.3 298,1067.3 303,1068.5 308,1069.9 313,1071.5 318,1073.1 323,1074.9 328,1076.7 333,1078.5 338,1080.1 343,1081.5 348,1082.5 353,1083.3 358,1083.6 363,1083.5 368,1083.0 373,1082.1 378,1080.9 383,1079.4 388,1077.8 393,1076.1 398,1074.4 403,1072.8 408,1071.3 413,1070.0 418,1068.8 423,1067.9 428,1067.1 433,1066.5 438,1066.1 443,1065.8 448,1065.5 453,1065.4 458,1065.4 463,1065.4 468,1065.5 473,1065.6 478,1065.7 483,1065.8 488,1066.0 493,1066.2 498,1066.3 503,1066.5 508,1066.7 513,1067.0 518,1067.2 523,1067.5 528,1067.7 533,1068.1 538,1068.4 543,1068.7 548,1069.1 553,1069.5 558,1069.8 563,1070.2 568,1070.5 573,1070.9 578,1071.2 583,1071.5 588,1071.9 593,1072.2 598,1072.5 603,1072.8 608,1073.1 613,1073.4 618,1073.7 623,1073.9 628,1074.2 633,1074.5 638,1074.8 642,1075.0 642,1081.0 638,1080.9 633,1080.6 628,1080.4 623,1080.2 618,1080.0 613,1079.8 608,1079.6 603,1079.3 598,1079.1 593,1078.9 588,1078.6 583,1078.4 578,1078.1 573,1077.9 568,1077.6 563,1077.4 558,1077.1 553,1076.8 548,1076.6 543,1076.3 538,1076.0 533,1075.8 528,1075.6 523,1075.4 518,1075.2 513,1075.0 508,1074.9 503,1074.7 498,1074.6 493,1074.5 488,1074.3 483,1074.2 478,1074.1 473,1074.1 468,1074.0 463,1073.9 458,1073.8 453,1073.8 448,1073.8 443,1073.8 438,1073.9 433,1074.0 428,1074.2 423,1074.4 418,1074.8 413,1075.3 408,1075.9 403,1076.6 398,1077.5 393,1078.5 388,1079.5 383,1080.6 378,1081.6 373,1082.5 368,1083.1 363,1083.5 358,1083.6 353,1083.3 348,1082.8 343,1081.9 338,1080.9 333,1079.7 328,1078.5 323,1077.3 318,1076.2 313,1075.2 308,1074.4 303,1073.6 298,1073.0 293,1072.5 288,1072.1 283,1071.8 278,1071.6 273,1071.3 268,1071.2 263,1071.0 258,1070.8 253,1070.7 248,1070.5 243,1070.4 238,1070.2 233,1070.0 228,1069.9 223,1069.7 218,1069.5 213,1069.4 208,1069.2 203,1069.0 198,1068.8 193,1068.7 188,1068.5 183,1068.4 178,1068.2 173,1068.1 168,1067.9 163,1067.8 158,1067.7 153,1067.5 148,1067.4 143,1067.3 138,1067.1 133,1067.0 128,1066.9 123,1066.7 118,1066.6 113,1066.5 108,1066.3 103,1066.2 98,1066.1 93,1066.0 88,1065.8 83,1065.7" fill="#c8c8c8" />
<polygon points="83,1065.7 88,1065.8 93,1066.0 98,1066.1 103,1066.2 108,1066.3 113,1066.5 118,1066.6 123,1066.7 128,1066.9 133,1067.0 138,1067.1 143,1067.3 148,1067.4 153,1067.5 158,1067.7 163,1067.8 168,1067.9 173,1068.1 178,1068.2 183,1068.4 188,1068.5 193,1068.7 198,1068.8 203,1069.0 208,1069.2 213,1069.4 218,1069.5 223,1069.7 228,1069.9 233,1070.0 238,1070.2 243,1070.4 248,1070.5 253,1070.7 258,1070.8 263,1071.0 268,1071.2 273,1071.3 278,1071.6 283,1071.8 288,1072.1 293,1072.5 298,1073.0 303,1073.6 308,1074.4 313,1075.2 318,1076.2 323,1077.3 328,1078.5 333,1079.7 338,1080.9 343,1081.9 348,1082.8 353,1083.3 358,1083.6 363,1083.5 368,1083.1 373,1082.5 378,1081.6 383,1080.6 388,1079.5 393,1078.5 398,1077.5 403,1076.6 408,1075.9 413,1075.3 418,1074.8 423,1074.4 428,1074.2 433,1074.0 438,1073.9 443,1073.8 448,1073.8 453,1073.8 458,1073.8 463,1073.9 468,1074.0 473,1074.1 478,1074.1 483,1074.2 488,1074.3 493,1074.5 498,1074.6 503,1074.7 508,1074.9 513,1075.0 518,1075.2 523,1075.4 528,1075.6 533,1075.8 538,1076.0 543,1076.3 548,1076.6 553,1076.8 558,1077.1 563,1077.4 568,1077.6 573,1077.9 578,1078.1 583,1078.4 588,1078.6 593,1078.9 598,1079.1 603,1079.3 608,1079.6 613,1079.8 618,1080.0 623,1080.2 628,1080.4 633,1080.6 638,1080.9 642,1081.0 642,1087.8 638,1087.7 633,1087.6 628,1087.5 623,1087.3 618,1087.2 613,1087.1 608,1086.9 603,1086.8 598,1086.6 593,1086.5 588,1086.3 583,1086.2 578,1086.0 573,1085.9 568,1085.7 563,1085.5 558,1085.4 553,1085.2 548,1085.0 543,1084.9 538,1084.7 533,1084.6 528,1084.5 523,1084.3 518,1084.2 513,1084.2 508,1084.1 503,1084.0 498,1083.9 493,1083.9 488,1083.8 483,1083.8 478,1083.7 473,1083.7 468,1083.6 463,1083.5 458,1083.4 453,1083.3 448,1083.1 443,1083.0 438,1082.8 433,1082.5 428,1082.3 423,1082.0 418,1081.7 413,1081.4 408,1081.3 403,1081.2 398,1081.2 393,1081.4 388,1081.8 383,1082.2 378,1082.7 373,1083.2 368,1083.6 363,1083.9 358,1083.9 353,1083.7 348,1083.3 343,1082.7 338,1082.1 333,1081.4 328,1080.8 323,1080.3 318,1080.0 313,1079.7 308,1079.6 303,1079.6 298,1079.6 293,1079.7 288,1079.8 283,1079.8 278,1079.9 273,1079.9 268,1079.8 263,1079.8 258,1079.7 253,1079.6 248,1079.4 243,1079.2 238,1079.1 233,1078.9 228,1078.7 223,1078.5 218,1078.3 213,1078.1 208,1077.9 203,1077.7 198,1077.5 193,1077.3 188,1077.2 183,1077.0 178,1076.8 173,1076.7 168,1076.5 163,1076.4 158,1076.2 153,1076.0 148,1075.9 143,1075.7 138,1075.6 133,1075.4 128,1075.3 123,1075.1 118,1075.0 113,1074.8 108,1074.7 103,1074.5 98,1074.3 93,1074.2 88,1074.0 83,1073.9" fill="#8c8c8c" />
<polygon points="83,1073.9 88,1074.0 93,1074.2 98,1074.3 103,1074.5 108,1074.7 113,1074.8 118,1075.0 123,1075.1 128,1075.3 133,1075.4 138,1075.6 143,1075.7 148,1075.9 153,1076.0 158,1076.2 163,1076.4 168,1076.5 173,1076.7 178,1076.8 183,1077.0 188,1077.2 193,1077.3 198,1077.5 203,1077.7 208,1077.9 213,1078.1 218,1078.3 223,1078.5 228,1078.7 233,1078.9 238,1079.1 243,1079.2 248,1079.4 253,1079.6 258,1079.7 263,1079.8 268,1079.8 273,1079.9 278,1079.9 283,1079.8 288,1079.8 293,1079.7 298,1079.6 303,1079.6 308,1079.6 313,1079.7 318,1080.0 323,1080.3 328,1080.8 333,1081.4 338,1082.1 343,1082.7 348,1083.3 353,1083.7 358,1083.9 363,1083.9 368,1083.6 373,1083.2 378,1082.7 383,1082.2 388,1081.8 393,1081.4 398,1081.2 403,1081.2 408,1081.3 413,1081.4 418,1081.7 423,1082.0 428,1082.3 433,1082.5 438,1082.8 443,1083.0 448,1083.1 453,1083.3 458,1083.4 463,1083.5 468,1083.6 473,1083.7 478,1083.7 483,1083.8 488,1083.8 493,1083.9 498,1083.9 503,1084.0 508,1084.1 513,1084.2 518,1084.2 523,1084.3 528,1084.5 533,1084.6 538,1084.7 543,1084.9 548,1085.0 553,1085.2 558,1085.4 563,1085.5 568,1085.7 573,1085.9 578,1086.0 583,1086.2 588,1086.3 593,1086.5 598,1086.6 603,1086.8 608,1086.9 613,1087.1 618,1087.2 623,1087.3 628,1087.5 633,1087.6 638,1087.7 642,1087.8 642,1091.4 638,1091.3 633,1091.2 628,1091.1 623,1091.0 618,1090.9 613,1090.8 608,1090.7 603,1090.6 598,1090.5 593,1090.4 588,1090.3 583,1090.2 578,1090.1 573,1090.0 568,1089.9 563,1089.8 558,1089.7 553,1089.6 548,1089.5 543,1089.3 538,1089.2 533,1089.2 528,1089.1 523,1089.0 518,1089.0 513,1088.9 508,1088.9 503,1088.8 498,1088.8 493,1088.8 488,1088.8 483,1088.7 478,1088.7 473,1088.7 468,1088.6 463,1088.5 458,1088.4 453,1088.3 448,1088.1 443,1087.8 438,1087.5 433,1087.2 428,1086.7 423,1086.3 418,1085.7 413,1085.2 408,1084.7 403,1084.3 398,1084.0 393,1083.9 388,1083.9 383,1084.1 378,1084.3 373,1084.7 368,1084.9 363,1085.1 358,1085.1 353,1084.9 348,1084.6 343,1084.2 338,1083.7 333,1083.3 328,1082.9 323,1082.7 318,1082.7 313,1082.8 308,1082.9 303,1083.1 298,1083.4 293,1083.7 288,1084.0 283,1084.2 278,1084.3 273,1084.4 268,1084.4 263,1084.4 258,1084.3 253,1084.2 248,1084.0 243,1083.9 238,1083.7 233,1083.5 228,1083.3 223,1083.1 218,1082.9 213,1082.6 208,1082.4 203,1082.2 198,1082.0 193,1081.8 188,1081.7 183,1081.5 178,1081.3 173,1081.1 168,1081.0 163,1080.8 158,1080.6 153,1080.5 148,1080.3 143,1080.1 138,1080.0 133,1079.8 128,1079.6 123,1079.5 118,1079.3 113,1079.1 108,1079.0 103,1078.8 98,1078.6 93,1078.5 88,1078.3 83,1078.2" fill="#5a5a5a" />
<polygon points="83,1078.2 88,1078.3 93,1078.5 98,1078.6 103,1078.8 108,1079.0 113,1079.1 118,1079.3 123,1079.5 128,1079.6 133,1079.8 138,1080.0 143,1080.1 148,1080.3 153,1080.5 158,1080.6 163,1080.8 168,1081.0 173,1081.1 178,1081.3 183,1081.5 188,1081.7 193,1081.8 198,1082.0 203,1082.2 208,1082.4 213,1082.6 218,1082.9 223,1083.1 228,1083.3 233,1083.5 238,1083.7 243,1083.9 248,1084.0 253,1084.2 258,1084.3 263,1084.4 268,1084.4 273,1084.4 278,1084.3 283,1084.2 288,1084.0 293,1083.7 298,1083.4 303,1083.1 308,1082.9 313,1082.8 318,1082.7 323,1082.7 328,1082.9 333,1083.3 338,1083.7 343,1084.2 348,1084.6 353,1084.9 358,1085.1 363,1085.1 368,1084.9 373,1084.7 378,1084.3 383,1084.1 388,1083.9 393,1083.9 398,1084.0 403,1084.3 408,1084.7 413,1085.2 418,1085.7 423,1086.3 428,1086.7 433,1087.2 438,1087.5 443,1087.8 448,1088.1 453,1088.3 458,1088.4 463,1088.5 468,1088.6 473,1088.7 478,1088.7 483,1088.7 488,1088.8 493,1088.8 498,1088.8 503,1088.8 508,1088.9 513,1088.9 518,1089.0 523,1089.0 528,1089.1 533,1089.2 538,1089.2 543,1089.3 548,1089.5 553,1089.6 558,1089.7 563,1089.8 568,1089.9 573,1090.0 578,1090.1 583,1090.2 588,1090.3 593,1090.4 598,1090.5 603,1090.6 608,1090.7 613,1090.8 618,1090.9 623,1091.0 628,1091.1 633,1091.2 638,1091.3 642,1091.4 642,1094.7 638,1094.6 633,1094.6 628,1094.5 623,1094.5 618,1094.4 613,1094.3 608,1094.3 603,1094.2 598,1094.2 593,1094.1 588,1094.0 583,1094.0 578,1093.9 573,1093.8 568,1093.8 563,1093.7 558,1093.6 553,1093.6 548,1093.5 543,1093.5 538,1093.4 533,1093.4 528,1093.3 523,1093.3 518,1093.3 513,1093.3 508,1093.3 503,1093.3 498,1093.3 493,1093.3 488,1093.3 483,1093.3 478,1093.3 473,1093.3 468,1093.3 463,1093.2 458,1093.1 453,1092.9 448,1092.7 443,1092.5 438,1092.1 433,1091.7 428,1091.2 423,1090.6 418,1089.9 413,1089.2 408,1088.6 403,1088.0 398,1087.4 393,1087.1 388,1086.9 383,1086.9 378,1087.0 373,1087.1 368,1087.3 363,1087.4 358,1087.3 353,1087.2 348,1086.9 343,1086.6 338,1086.3 333,1086.0 328,1085.9 323,1085.9 318,1086.0 313,1086.2 308,1086.6 303,1087.0 298,1087.4 293,1087.8 288,1088.1 283,1088.4 278,1088.6 273,1088.7 268,1088.7 263,1088.7 258,1088.6 253,1088.5 248,1088.3 243,1088.1 238,1087.9 233,1087.7 228,1087.5 223,1087.3 218,1087.1 213,1086.8 208,1086.6 203,1086.4 198,1086.2 193,1086.0 188,1085.8 183,1085.6 178,1085.4 173,1085.3 168,1085.1 163,1084.9 158,1084.7 153,1084.5 148,1084.4 143,1084.2 138,1084.0 133,1083.8 128,1083.7 123,1083.5 118,1083.3 113,1083.1 108,1083.0 103,1082.8 98,1082.6 93,1082.4 88,1082.3 83,1082.1" fill="#828282" />
<polygon points="83,1082.1 88,1082.3 93,1082.4 98,1082.6 103,1082.8 108,1083.0 113,1083.1 118,1083.3 123,1083.5 128,1083.7 133,1083.8 138,1084.0 143,1084.2 148,1084.4 153,1084.5 158,1084.7 163,1084.9 168,1085.1 173,1085.3 178,1085.4 183,1085.6 188,1085.8 193,1086.0 198,1086.2 203,1086.4 208,1086.6 213,1086.8 218,1087.1 223,1087.3 228,1087.5 233,1087.7 238,1087.9 243,1088.1 248,1088.3 253,1088.5 258,1088.6 263,1088.7 268,1088.7 273,1088.7 278,1088.6 283,1088.4 288,1088.1 293,1087.8 298,1087.4 303,1087.0 308,1086.6 313,1086.2 318,1086.0 323,1085.9 328,1085.9 333,1086.0 338,1086.3 343,1086.6 348,1086.9 353,1087.2 358,1087.3 363,1087.4 368,1087.3 373,1087.1 378,1087.0 383,1086.9 388,1086.9 393,1087.1 398,1087.4 403,1088.0 408,1088.6 413,1089.2 418,1089.9 423,1090.6 428,1091.2 433,1091.7 438,1092.1 443,1092.5 448,1092.7 453,1092.9 458,1093.1 463,1093.2 468,1093.3 473,1093.3 478,1093.3 483,1093.3 488,1093.3 493,1093.3 498,1093.3 503,1093.3 508,1093.3 513,1093.3 518,1093.3 523,1093.3 528,1093.3 533,1093.4 538,1093.4 543,1093.5 548,1093.5 553,1093.6 558,1093.6 563,1093.7 568,1093.8 573,1093.8 578,1093.9 583,1094.0 588,1094.0 593,1094.1 598,1094.2 603,1094.2 608,1094.3 613,1094.3 618,1094.4 623,1094.5 628,1094.5 633,1094.6 638,1094.6 642,1094.7 642,1102.3 638,1102.3 633,1102.4 628,1102.4 623,1102.4 618,1102.5 613,1102.5 608,1102.5 603,1102.6 598,1102.6 593,1102.6 588,1102.7 583,1102.7 578,1102.7 573,1102.8 568,1102.8 563,1102.9 558,1102.9 553,1103.0 548,1103.0 543,1103.1 538,1103.2 533,1103.2 528,1103.3 523,1103.4 518,1103.5 513,1103.6 508,1103.7 503,1103.7 498,1103.8 493,1103.9 488,1104.0 483,1104.1 478,1104.2 473,1104.2 468,1104.3 463,1104.4 458,1104.4 453,1104.5 448,1104.5 443,1104.6 438,1104.6 433,1104.6 428,1104.7 423,1104.7 418,1104.8 413,1104.8 408,1104.8 403,1104.8 398,1104.8 393,1104.8 388,1104.8 383,1104.8 378,1104.7 373,1104.7 368,1104.6 363,1104.6 358,1104.4 353,1104.3 348,1104.0 343,1103.8 338,1103.5 333,1103.2 328,1102.9 323,1102.6 318,1102.3 313,1101.9 308,1101.6 303,1101.2 298,1100.9 293,1100.7 288,1100.5 283,1100.2 278,1100.0 273,1099.7 268,1099.5 263,1099.2 258,1099.0 253,1098.7 248,1098.5 243,1098.2 238,1097.9 233,1097.7 228,1097.4 223,1097.1 218,1096.9 213,1096.6 208,1096.4 203,1096.1 198,1095.9 193,1095.7 188,1095.5 183,1095.3 178,1095.1 173,1094.9 168,1094.7 163,1094.5 158,1094.3 153,1094.1 148,1093.9 143,1093.7 138,1093.5 133,1093.3 128,1093.1 123,1092.9 118,1092.7 113,1092.5 108,1092.3 103,1092.1 98,1091.9 93,1091.7 88,1091.5 83,1091.3" fill="#484848" />
<polygon points="83,1091.3 88,1091.5 93,1091.7 98,1091.9 103,1092.1 108,1092.3 113,1092.5 118,1092.7 123,1092.9 128,1093.1 133,1093.3 138,1093.5 143,1093.7 148,1093.9 153,1094.1 158,1094.3 163,1094.5 168,1094.7 173,1094.9 178,1095.1 183,1095.3 188,1095.5 193,1095.7 198,1095.9 203,1096.1 208,1096.4 213,1096.6 218,1096.9 223,1097.1 228,1097.4 233,1097.7 238,1097.9 243,1098.2 248,1098.5 253,1098.7 258,1099.0 263,1099.2 268,1099.5 273,1099.7 278,1100.0 283,1100.2 288,1100.5 293,1100.7 298,1100.9 303,1101.2 308,1101.6 313,1101.9 318,1102.3 323,1102.6 328,1102.9 333,1103.2 338,1103.5 343,1103.8 348,1104.0 353,1104.3 358,1104.4 363,1104.6 368,1104.6 373,1104.7 378,1104.7 383,1104.8 388,1104.8 393,1104.8 398,1104.8 403,1104.8 408,1104.8 413,1104.8 418,1104.8 423,1104.7 428,1104.7 433,1104.6 438,1104.6 443,1104.6 448,1104.5 453,1104.5 458,1104.4 463,1104.4 468,1104.3 473,1104.2 478,1104.2 483,1104.1 488,1104.0 493,1103.9 498,1103.8 503,1103.7 508,1103.7 513,1103.6 518,1103.5 523,1103.4 528,1103.3 533,1103.2 538,1103.2 543,1103.1 548,1103.0 553,1103.0 558,1102.9 563,1102.9 568,1102.8 573,1102.8 578,1102.7 583,1102.7 588,1102.7 593,1102.6 598,1102.6 603,1102.6 608,1102.5 613,1102.5 618,1102.5 623,1102.4 628,1102.4 633,1102.4 638,1102.3 642,1102.3 642,1107.3 638,1107.3 633,1107.4 628,1107.4 623,1107.4 618,1107.5 613,1107.5 608,1107.5 603,1107.6 598,1107.6 593,1107.6 588,1107.7 583,1107.7 578,1107.7 573,1107.8 568,1107.8 563,1107.9 558,1107.9 553,1108.0 548,1108.0 543,1108.1 538,1108.2 533,1108.2 528,1108.3 523,1108.4 518,1108.5 513,1108.6 508,1108.7 503,1108.7 498,1108.8 493,1108.9 488,1109.0 483,1109.1 478,1109.2 473,1109.2 468,1109.3 463,1109.4 458,1109.4 453,1109.5 448,1109.5 443,1109.6 438,1109.6 433,1109.6 428,1109.7 423,1109.7 418,1109.8 413,1109.8 408,1109.8 403,1109.8 398,1109.8 393,1109.8 388,1109.8 383,1109.8 378,1109.7 373,1109.7 368,1109.6 363,1109.6 358,1109.4 353,1109.3 348,1109.0 343,1108.8 338,1108.5 333,1108.2 328,1107.9 323,1107.6 318,1107.3 313,1106.9 308,1106.6 303,1106.2 298,1105.9 293,1105.7 288,1105.5 283,1105.2 278,1105.0 273,1104.7 268,1104.5 263,1104.2 258,1104.0 253,1103.7 248,1103.5 243,1103.2 238,1102.9 233,1102.7 228,1102.4 223,1102.1 218,1101.9 213,1101.6 208,1101.4 203,1101.1 198,1100.9 193,1100.7 188,1100.5 183,1100.3 178,1100.1 173,1099.9 168,1099.7 163,1099.5 158,1099.3 153,1099.1 148,1098.9 143,1098.7 138,1098.5 133,1098.3 128,1098.1 123,1097.9 118,1097.7 113,1097.5 108,1097.3 103,1097.1 98,1096.9 93,1096.7 88,1096.5 83,1096.3" fill="#e8e8e8" />
<polygon points="83,1096.3 88,1096.5 93,1096.7 98,1096.9 103,1097.1 108,1097.3 113,1097.5 118,1097.7 123,1097.9 128,1098.1 133,1098.3 138,1098.5 143,1098.7 148,1098.9 153,1099.1 158,1099.3 163,1099.5 168,1099.7 173,1099.9 178,1100.1 183,1100.3 188,1100.5 193,1100.7 198,1100.9 203,1101.1 208,1101.4 213,1101.6 218,1101.9 223,1102.1 228,1102.4 233,1102.7 238,1102.9 243,1103.2 248,1103.5 253,1103.7 258,1104.0 263,1104.2 268,1104.5 273,1104.7 278,1105.0 283,1105.2 288,1105.5 293,1105.7 298,1105.9 303,1106.2 308,1106.6 313,1106.9 318,1107.3 323,1107.6 328,1107.9 333,1108.2 338,1108.5 343,1108.8 348,1109.0 353,1109.3 358,1109.4 363,1109.6 368,1109.6 373,1109.7 378,1109.7 383,1109.8 388,1109.8 393,1109.8 398,1109.8 403,1109.8 408,1109.8 413,1109.8 418,1109.8 423,1109.7 428,1109.7 433,1109.6 438,1109.6 443,1109.6 448,1109.5 453,1109.5 458,1109.4 463,1109.4 468,1109.3 473,1109.2 478,1109.2 483,1109.1 488,1109.0 493,1108.9 498,1108.8 503,1108.7 508,1108.7 513,1108.6 518,1108.5 523,1108.4 528,1108.3 533,1108.2 538,1108.2 543,1108.1 548,1108.0 553,1108.0 558,1107.9 563,1107.9 568,1107.8 573,1107.8 578,1107.7 583,1107.7 588,1107.7 593,1107.6 598,1107.6 603,1107.6 608,1107.5 613,1107.5 618,1107.5 623,1107.4 628,1107.4 633,1107.4 638,1107.3 642,1107.3 642,1108.8 638,1108.8 633,1108.9 628,1108.9 623,1108.9 618,1109.0 613,1109.0 608,1109.0 603,1109.1 598,1109.1 593,1109.1 588,1109.2 583,1109.2 578,1109.2 573,1109.3 568,1109.3 563,1109.4 558,1109.4 553,1109.5 548,1109.5 543,1109.6 538,1109.7 533,1109.7 528,1109.8 523,1109.9 518,1110.0 513,1110.1 508,1110.2 503,1110.2 498,1110.3 493,1110.4 488,1110.5 483,1110.6 478,1110.7 473,1110.7 468,1110.8 463,1110.9 458,1110.9 453,1111.0 448,1111.0 443,1111.1 438,1111.1 433,1111.1 428,1111.2 423,1111.2 418,1111.3 413,1111.3 408,1111.3 403,1111.3 398,1111.3 393,1111.3 388,1111.3 383,1111.3 378,1111.2 373,1111.2 368,1111.1 363,1111.1 358,1110.9 353,1110.8 348,1110.5 343,1110.3 338,1110.0 333,1109.7 328,1109.4 323,1109.1 318,1108.8 313,1108.4 308,1108.1 303,1107.7 298,1107.4 293,1107.2 288,1107.0 283,1106.7 278,1106.5 273,1106.2 268,1106.0 263,1105.7 258,1105.5 253,1105.2 248,1105.0 243,1104.7 238,1104.4 233,1104.2 228,1103.9 223,1103.6 218,1103.4 213,1103.1 208,1102.9 203,1102.6 198,1102.4 193,1102.2 188,1102.0 183,1101.8 178,1101.6 173,1101.4 168,1101.2 163,1101.0 158,1100.8 153,1100.6 148,1100.4 143,1100.2 138,1100.0 133,1099.8 128,1099.6 123,1099.4 118,1099.2 113,1099.0 108,1098.8 103,1098.6 98,1098.4 93,1098.2 88,1098.0 83,1097.8" fill="#b0b0b0" />
<polygon points="83,1097.8 88,1098.0 93,1098.2 98,1098.4 103,1098.6 108,1098.8 113,1099.0 118,1099.2 123,1099.4 128,1099.6 133,1099.8 138,1100.0 143,1100.2 148,1100.4 153,1100.6 158,1100.8 163,1101.0 168,1101.2 173,1101.4 178,1101.6 183,1101.8 188,1102.0 193,1102.2 198,1102.4 203,1102.6 208,1102.9 213,1103.1 218,1103.4 223,1103.6 228,1103.9 233,1104.2 238,1104.4 243,1104.7 248,1105.0 253,1105.2 258,1105.5 263,1105.7 268,1106.0 273,1106.2 278,1106.5 283,1106.7 288,1107.0 293,1107.2 298,1107.4 303,1107.7 308,1108.1 313,1108.4 318,1108.8 323,1109.1 328,1109.4 333,1109.7 338,1110.0 343,1110.3 348,1110.5 353,1110.8 358,1110.9 363,1111.1 368,1111.1 373,1111.2 378,1111.2 383,1111.3 388,1111.3 393,1111.3 398,1111.3 403,1111.3 408,1111.3 413,1111.3 418,1111.3 423,1111.2 428,1111.2 433,1111.1 438,1111.1 443,1111.1 448,1111.0 453,1111.0 458,1110.9 463,1110.9 468,1110.8 473,1110.7 478,1110.7 483,1110.6 488,1110.5 493,1110.4 498,1110.3 503,1110.2 508,1110.2 513,1110.1 518,1110.0 523,1109.9 528,1109.8 533,1109.7 538,1109.7 543,1109.6 548,1109.5 553,1109.5 558,1109.4 563,1109.4 568,1109.3 573,1109.3 578,1109.2 583,1109.2 588,1109.2 593,1109.1 598,1109.1 603,1109.1 608,1109.0 613,1109.0 618,1109.0 623,1108.9 628,1108.9 633,1108.9 638,1108.8 642,1108.8 642,1113.8 638,1113.8 633,1113.9 628,1113.9 623,1113.9 618,1114.0 613,1114.0 608,1114.0 603,1114.1 598,1114.1 593,1114.1 588,1114.2 583,1114.2 578,1114.2 573,1114.3 568,1114.3 563,1114.4 558,1114.4 553,1114.5 548,1114.5 543,1114.6 538,1114.7 533,1114.7 528,1114.8 523,1114.9 518,1115.0 513,1115.1 508,1115.2 503,1115.2 498,1115.3 493,1115.4 488,1115.5 483,1115.6 478,1115.7 473,1115.7 468,1115.8 463,1115.9 458,1115.9 453,1116.0 448,1116.0 443,1116.1 438,1116.1 433,1116.1 428,1116.2 423,1116.2 418,1116.3 413,1116.3 408,1116.3 403,1116.3 398,1116.3 393,1116.3 388,1116.3 383,1116.3 378,1116.2 373,1116.2 368,1116.1 363,1116.1 358,1115.9 353,1115.8 348,1115.5 343,1115.3 338,1115.0 333,1114.7 328,1114.4 323,1114.1 318,1113.8 313,1113.4 308,1113.1 303,1112.7 298,1112.4 293,1112.2 288,1112.0 283,1111.7 278,1111.5 273,1111.2 268,1111.0 263,1110.7 258,1110.5 253,1110.2 248,1110.0 243,1109.7 238,1109.4 233,1109.2 228,1108.9 223,1108.6 218,1108.4 213,1108.1 208,1107.9 203,1107.6 198,1107.4 193,1107.2 188,1107.0 183,1106.8 178,1106.6 173,1106.4 168,1106.2 163,1106.0 158,1105.8 153,1105.6 148,1105.4 143,1105.2 138,1105.0 133,1104.8 128,1104.6 123,1104.4 118,1104.2 113,1104.0 108,1103.8 103,1103.6 98,1103.4 93,1103.2 88,1103.0 83,1102.8" fill="#f4f4f4" />
<polygon points="83,1102.8 88,1103.0 93,1103.2 98,1103.4 103,1103.6 108,1103.8 113,1104.0 118,1104.2 123,1104.4 128,1104.6 133,1104.8 138,1105.0 143,1105.2 148,1105.4 153,1105.6 158,1105.8 163,1106.0 168,1106.2 173,1106.4 178,1106.6 183,1106.8 188,1107.0 193,1107.2 198,1107.4 203,1107.6 208,1107.9 213,1108.1 218,1108.4 223,1108.6 228,1108.9 233,1109.2 238,1109.4 243,1109.7 248,1110.0 253,1110.2 258,1110.5 263,1110.7 268,1111.0 273,1111.2 278,1111.5 283,1111.7 288,1112.0 293,1112.2 298,1112.4 303,1112.7 308,1113.1 313,1113.4 318,1113.8 323,1114.1 328,1114.4 333,1114.7 338,1115.0 343,1115.3 348,1115.5 353,1115.8 358,1115.9 363,1116.1 368,1116.1 373,1116.2 378,1116.2 383,1116.3 388,1116.3 393,1116.3 398,1116.3 403,1116.3 408,1116.3 413,1116.3 418,1116.3 423,1116.2 428,1116.2 433,1116.1 438,1116.1 443,1116.1 448,1116.0 453,1116.0 458,1115.9 463,1115.9 468,1115.8 473,1115.7 478,1115.7 483,1115.6 488,1115.5 493,1115.4 498,1115.3 503,1115.2 508,1115.2 513,1115.1 518,1115.0 523,1114.9 528,1114.8 533,1114.7 538,1114.7 543,1114.6 548,1114.5 553,1114.5 558,1114.4 563,1114.4 568,1114.3 573,1114.3 578,1114.2 583,1114.2 588,1114.2 593,1114.1 598,1114.1 603,1114.1 608,1114.0 613,1114.0 618,1114.0 623,1113.9 628,1113.9 633,1113.9 638,1113.8 642,1113.8 642,1115.3 638,1115.3 633,1115.4 628,1115.4 623,1115.4 618,1115.5 613,1115.5 608,1115.5 603,1115.6 598,1115.6 593,1115.6 588,1115.7 583,1115.7 578,1115.7 573,1115.8 568,1115.8 563,1115.9 558,1115.9 553,1116.0 548,1116.0 543,1116.1 538,1116.2 533,1116.2 528,1116.3 523,1116.4 518,1116.5 513,1116.6 508,1116.7 503,1116.7 498,1116.8 493,1116.9 488,1117.0 483,1117.1 478,1117.2 473,1117.2 468,1117.3 463,1117.4 458,1117.4 453,1117.5 448,1117.5 443,1117.6 438,1117.6 433,1117.6 428,1117.7 423,1117.7 418,1117.8 413,1117.8 408,1117.8 403,1117.8 398,1117.8 393,1117.8 388,1117.8 383,1117.8 378,1117.7 373,1117.7 368,1117.6 363,1117.6 358,1117.4 353,1117.3 348,1117.0 343,1116.8 338,1116.5 333,1116.2 328,1115.9 323,1115.6 318,1115.3 313,1114.9 308,1114.6 303,1114.2 298,1113.9 293,1113.7 288,1113.5 283,1113.2 278,1113.0 273,1112.7 268,1112.5 263,1112.2 258,1112.0 253,1111.7 248,1111.5 243,1111.2 238,1110.9 233,1110.7 228,1110.4 223,1110.1 218,1109.9 213,1109.6 208,1109.4 203,1109.1 198,1108.9 193,1108.7 188,1108.5 183,1108.3 178,1108.1 173,1107.9 168,1107.7 163,1107.5 158,1107.3 153,1107.1 148,1106.9 143,1106.7 138,1106.5 133,1106.3 128,1106.1 123,1105.9 118,1105.7 113,1105.5 108,1105.3 103,1105.1 98,1104.9 93,1104.7 88,1104.5 83,1104.3" fill="#8a8a8a" />
<polygon points="83,1104.3 88,1104.5 93,1104.7 98,1104.9 103,1105.1 108,1105.3 113,1105.5 118,1105.7 123,1105.9 128,1106.1 133,1106.3 138,1106.5 143,1106.7 148,1106.9 153,1107.1 158,1107.3 163,1107.5 168,1107.7 173,1107.9 178,1108.1 183,1108.3 188,1108.5 193,1108.7 198,1108.9 203,1109.1 208,1109.4 213,1109.6 218,1109.9 223,1110.1 228,1110.4 233,1110.7 238,1110.9 243,1111.2 248,1111.5 253,1111.7 258,1112.0 263,1112.2 268,1112.5 273,1112.7 278,1113.0 283,1113.2 288,1113.5 293,1113.7 298,1113.9 303,1114.2 308,1114.6 313,1114.9 318,1115.3 323,1115.6 328,1115.9 333,1116.2 338,1116.5 343,1116.8 348,1117.0 353,1117.3 358,1117.4 363,1117.6 368,1117.6 373,1117.7 378,1117.7 383,1117.8 388,1117.8 393,1117.8 398,1117.8 403,1117.8 408,1117.8 413,1117.8 418,1117.8 423,1117.7 428,1117.7 433,1117.6 438,1117.6 443,1117.6 448,1117.5 453,1117.5 458,1117.4 463,1117.4 468,1117.3 473,1117.2 478,1117.2 483,1117.1 488,1117.0 493,1116.9 498,1116.8 503,1116.7 508,1116.7 513,1116.6 518,1116.5 523,1116.4 528,1116.3 533,1116.2 538,1116.2 543,1116.1 548,1116.0 553,1116.0 558,1115.9 563,1115.9 568,1115.8 573,1115.8 578,1115.7 583,1115.7 588,1115.7 593,1115.6 598,1115.6 603,1115.6 608,1115.5 613,1115.5 618,1115.5 623,1115.4 628,1115.4 633,1115.4 638,1115.3 642,1115.3 642,1121.3 638,1121.3 633,1121.4 628,1121.4 623,1121.4 618,1121.5 613,1121.5 608,1121.5 603,1121.6 598,1121.6 593,1121.6 588,1121.7 583,1121.7 578,1121.7 573,1121.8 568,1121.8 563,1121.9 558,1121.9 553,1122.0 548,1122.0 543,1122.1 538,1122.2 533,1122.2 528,1122.3 523,1122.4 518,1122.5 513,1122.6 508,1122.7 503,1122.7 498,1122.8 493,1122.9 488,1123.0 483,1123.1 478,1123.2 473,1123.2 468,1123.3 463,1123.4 458,1123.4 453,1123.5 448,1123.5 443,1123.6 438,1123.6 433,1123.6 428,1123.7 423,1123.7 418,1123.8 413,1123.8 408,1123.8 403,1123.8 398,1123.8 393,1123.8 388,1123.8 383,1123.8 378,1123.7 373,1123.7 368,1123.6 363,1123.6 358,1123.4 353,1123.3 348,1123.0 343,1122.8 338,1122.5 333,1122.2 328,1121.9 323,1121.6 318,1121.3 313,1120.9 308,1120.6 303,1120.2 298,1119.9 293,1119.7 288,1119.5 283,1119.2 278,1119.0 273,1118.7 268,1118.5 263,1118.2 258,1118.0 253,1117.7 248,1117.5 243,1117.2 238,1116.9 233,1116.7 228,1116.4 223,1116.1 218,1115.9 213,1115.6 208,1115.4 203,1115.1 198,1114.9 193,1114.7 188,1114.5 183,1114.3 178,1114.1 173,1113.9 168,1113.7 163,1113.5 158,1113.3 153,1113.1 148,1112.9 143,1112.7 138,1112.5 133,1112.3 128,1112.1 123,1111.9 118,1111.7 113,1111.5 108,1111.3 103,1111.1 98,1110.9 93,1110.7 88,1110.5 83,1110.3" fill="#c2c2c2" />
</g>
<ellipse cx="358.5" cy="1084.4058285345009" rx="4.5" ry="1.4" fill="#fff" filter="url(#ob)"/>
<rect x="103.0" y="1082.9" width="6" height="45.3" fill="#1a1a1a" opacity="0.15"/>
<rect x="104.0" y="1082.9" width="4" height="45.3" fill="#1a1a1a" opacity="0.25"/>
<rect x="104.8" y="1082.9" width="2.5" height="45.3" fill="#1a1a1a" opacity="0.3"/>
<rect x="177.2" y="1085.5" width="5.5" height="45.7" fill="#1a1a1a" opacity="0.15"/>
<rect x="178.2" y="1085.5" width="3.5" height="45.7" fill="#1a1a1a" opacity="0.25"/>
<rect x="179.0" y="1085.5" width="2.0" height="45.7" fill="#1a1a1a" opacity="0.3"/>
<rect x="488.5" y="1093.3" width="5" height="46.6" fill="#1a1a1a" opacity="0.15"/>
<rect x="489.5" y="1093.3" width="3" height="46.6" fill="#1a1a1a" opacity="0.25"/>
<rect x="490.2" y="1093.3" width="1.5" height="46.6" fill="#1a1a1a" opacity="0.3"/>
<rect x="594.0" y="1094.1" width="6" height="44.4" fill="#1a1a1a" opacity="0.15"/>
<rect x="595.0" y="1094.1" width="4" height="44.4" fill="#1a1a1a" opacity="0.25"/>
<rect x="595.8" y="1094.1" width="2.5" height="44.4" fill="#1a1a1a" opacity="0.3"/>
<rect x="82.8" y="979.5" width="559.3000000000001" height="10.5" fill="#000"/>
</g>
<rect x="81.05" y="977.75" width="562.8000000000001" height="283.0999999999999" fill="none" stroke="#e6a21e" stroke-width="3.5"/>
<g clip-path="url(#co1)">
<g filter="url(#vstreak2)">
<rect x="659.5" y="979.5" width="539.0" height="279.5999999999999" fill="#222"/>
<polygon points="660,1130.5 664,1130.8 670,1131.1 674,1131.4 680,1131.7 684,1132.0 690,1132.3 694,1132.7 700,1133.0 704,1133.3 710,1133.6 714,1133.9 720,1134.2 724,1134.5 730,1134.9 734,1135.2 740,1135.5 744,1135.8 750,1136.1 754,1136.4 760,1136.7 764,1137.0 770,1137.4 774,1137.7 780,1138.0 784,1138.3 790,1138.6 794,1138.9 800,1139.2 804,1139.5 810,1139.8 814,1140.1 820,1140.5 824,1140.8 830,1141.1 834,1141.4 840,1141.8 844,1142.1 850,1142.4 854,1142.7 860,1143.0 864,1143.3 870,1143.6 874,1143.8 880,1144.1 884,1144.3 890,1144.6 894,1144.8 900,1145.0 904,1145.1 910,1145.3 914,1145.4 920,1145.5 924,1145.7 930,1145.8 934,1145.8 940,1145.9 944,1146.0 950,1146.0 954,1146.1 960,1146.1 964,1146.1 970,1146.1 974,1146.1 980,1146.1 984,1146.0 990,1146.0 994,1146.0 1000,1145.9 1004,1145.9 1010,1145.8 1014,1145.7 1020,1145.6 1024,1145.5 1030,1145.5 1034,1145.4 1040,1145.2 1044,1145.0 1050,1144.8 1054,1144.6 1060,1144.3 1064,1144.0 1070,1143.7 1074,1143.4 1080,1143.0 1084,1142.7 1090,1142.3 1094,1142.0 1100,1141.6 1104,1141.2 1110,1140.8 1114,1140.4 1120,1140.0 1124,1139.6 1130,1139.2 1134,1138.8 1140,1138.3 1144,1137.8 1150,1137.4 1154,1136.9 1160,1136.4 1164,1135.9 1170,1135.4 1174,1134.9 1180,1134.4 1184,1133.9 1190,1133.4 1194,1132.9 1198,1132.6 1198,1197.6 1194,1197.9 1190,1198.4 1184,1198.9 1180,1199.4 1174,1199.9 1170,1200.4 1164,1200.9 1160,1201.4 1154,1201.9 1150,1202.4 1144,1202.8 1140,1203.3 1134,1203.8 1130,1204.2 1124,1204.6 1120,1205.0 1114,1205.4 1110,1205.8 1104,1206.2 1100,1206.6 1094,1207.0 1090,1207.3 1084,1207.7 1080,1208.0 1074,1208.4 1070,1208.7 1064,1209.0 1060,1209.3 1054,1209.6 1050,1209.8 1044,1210.0 1040,1210.2 1034,1210.4 1030,1210.5 1024,1210.5 1020,1210.6 1014,1210.7 1010,1210.8 1004,1210.9 1000,1210.9 994,1211.0 990,1211.0 984,1211.0 980,1211.1 974,1211.1 970,1211.1 964,1211.1 960,1211.1 954,1211.1 950,1211.0 944,1211.0 940,1210.9 934,1210.8 930,1210.8 924,1210.7 920,1210.5 914,1210.4 910,1210.3 904,1210.1 900,1210.0 894,1209.8 890,1209.6 884,1209.3 880,1209.1 874,1208.8 870,1208.6 864,1208.3 860,1208.0 854,1207.7 850,1207.4 844,1207.1 840,1206.8 834,1206.4 830,1206.1 824,1205.8 820,1205.5 814,1205.1 810,1204.8 804,1204.5 800,1204.2 794,1203.9 790,1203.6 784,1203.3 780,1203.0 774,1202.7 770,1202.4 764,1202.0 760,1201.7 754,1201.4 750,1201.1 744,1200.8 740,1200.5 734,1200.2 730,1199.9 724,1199.5 720,1199.2 714,1198.9 710,1198.6 704,1198.3 700,1198.0 694,1197.7 690,1197.3 684,1197.0 680,1196.7 674,1196.4 670,1196.1 664,1195.8 660,1195.5" fill="url(#chfade)" filter="url(#ob4)"/>
</g>
<g filter="url(#ob4)">
<polygon points="660,1126.5 664,1126.8 670,1127.1 674,1127.4 680,1127.7 684,1128.0 690,1128.3 694,1128.7 700,1129.0 704,1129.3 710,1129.6 714,1129.9 720,1130.2 724,1130.5 730,1130.9 734,1131.2 740,1131.5 744,1131.8 750,1132.1 754,1132.4 760,1132.7 764,1133.0 770,1133.4 774,1133.7 780,1134.0 784,1134.3 790,1134.6 794,1134.9 800,1135.2 804,1135.5 810,1135.8 814,1136.1 820,1136.5 824,1136.8 830,1137.1 834,1137.4 840,1137.8 844,1138.1 850,1138.4 854,1138.7 860,1139.0 864,1139.3 870,1139.6 874,1139.8 880,1140.1 884,1140.3 890,1140.6 894,1140.8 900,1141.0 904,1141.1 910,1141.3 914,1141.4 920,1141.5 924,1141.7 930,1141.8 934,1141.8 940,1141.9 944,1142.0 950,1142.0 954,1142.1 960,1142.1 964,1142.1 970,1142.1 974,1142.1 980,1142.1 984,1142.0 990,1142.0 994,1142.0 1000,1141.9 1004,1141.9 1010,1141.8 1014,1141.7 1020,1141.6 1024,1141.5 1030,1141.5 1034,1141.4 1040,1141.2 1044,1141.0 1050,1140.8 1054,1140.6 1060,1140.3 1064,1140.0 1070,1139.7 1074,1139.4 1080,1139.0 1084,1138.7 1090,1138.3 1094,1138.0 1100,1137.6 1104,1137.2 1110,1136.8 1114,1136.4 1120,1136.0 1124,1135.6 1130,1135.2 1134,1134.8 1140,1134.3 1144,1133.8 1150,1133.4 1154,1132.9 1160,1132.4 1164,1131.9 1170,1131.4 1174,1130.9 1180,1130.4 1184,1129.9 1190,1129.4 1194,1128.9 1198,1128.6 1198,1162.6 1194,1162.9 1190,1163.4 1184,1163.9 1180,1164.4 1174,1164.9 1170,1165.4 1164,1165.9 1160,1166.4 1154,1166.9 1150,1167.4 1144,1167.8 1140,1168.3 1134,1168.8 1130,1169.2 1124,1169.6 1120,1170.0 1114,1170.4 1110,1170.8 1104,1171.2 1100,1171.6 1094,1172.0 1090,1172.3 1084,1172.7 1080,1173.0 1074,1173.4 1070,1173.7 1064,1174.0 1060,1174.3 1054,1174.6 1050,1174.8 1044,1175.0 1040,1175.2 1034,1175.4 1030,1175.5 1024,1175.5 1020,1175.6 1014,1175.7 1010,1175.8 1004,1175.9 1000,1175.9 994,1176.0 990,1176.0 984,1176.0 980,1176.1 974,1176.1 970,1176.1 964,1176.1 960,1176.1 954,1176.1 950,1176.0 944,1176.0 940,1175.9 934,1175.8 930,1175.8 924,1175.7 920,1175.5 914,1175.4 910,1175.3 904,1175.1 900,1175.0 894,1174.8 890,1174.6 884,1174.3 880,1174.1 874,1173.8 870,1173.6 864,1173.3 860,1173.0 854,1172.7 850,1172.4 844,1172.1 840,1171.8 834,1171.4 830,1171.1 824,1170.8 820,1170.5 814,1170.1 810,1169.8 804,1169.5 800,1169.2 794,1168.9 790,1168.6 784,1168.3 780,1168.0 774,1167.7 770,1167.4 764,1167.0 760,1166.7 754,1166.4 750,1166.1 744,1165.8 740,1165.5 734,1165.2 730,1164.9 724,1164.5 720,1164.2 714,1163.9 710,1163.6 704,1163.3 700,1163.0 694,1162.7 690,1162.3 684,1162.0 680,1161.7 674,1161.4 670,1161.1 664,1160.8 660,1160.5" fill="#626262" />
</g>
<g filter="url(#ob15)">
<ellipse cx="656" cy="1147" rx="8.5" ry="5.6" fill="#2e2e2e" opacity="0.87"/>
<ellipse cx="657" cy="1139" rx="5.6" ry="3.1" fill="#a0a0a0" opacity="0.7"/>
<ellipse cx="654" cy="1139" rx="2.9" ry="2.6" fill="#a0a0a0" opacity="0.7"/>
<ellipse cx="674" cy="1144" rx="6.2" ry="4.1" fill="#2e2e2e" opacity="0.87"/>
<ellipse cx="673" cy="1137" rx="5.3" ry="3.0" fill="#a0a0a0" opacity="0.7"/>
<ellipse cx="675" cy="1133" rx="2.8" ry="2.4" fill="#a0a0a0" opacity="0.7"/>
<ellipse cx="686" cy="1144" rx="5.4" ry="5.6" fill="#2e2e2e" opacity="0.64"/>
<ellipse cx="689" cy="1140" rx="3.3" ry="2.5" fill="#a0a0a0" opacity="0.7"/>
<ellipse cx="688" cy="1136" rx="3.0" ry="3.3" fill="#a0a0a0" opacity="0.7"/>
<ellipse cx="696" cy="1149" rx="6.2" ry="4.0" fill="#2e2e2e" opacity="0.77"/>
<ellipse cx="692" cy="1141" rx="5.5" ry="3.4" fill="#a0a0a0" opacity="0.7"/>
<ellipse cx="708" cy="1149" rx="5.7" ry="3.8" fill="#2e2e2e" opacity="0.76"/>
<ellipse cx="715" cy="1141" rx="2.9" ry="3.8" fill="#a0a0a0" opacity="0.7"/>
<ellipse cx="710" cy="1137" rx="5.1" ry="3.9" fill="#a0a0a0" opacity="0.7"/>
<ellipse cx="718" cy="1150" rx="7.8" ry="3.7" fill="#2e2e2e" opacity="0.64"/>
<ellipse cx="716" cy="1136" rx="5.1" ry="2.2" fill="#a0a0a0" opacity="0.7"/>
<ellipse cx="713" cy="1140" rx="3.6" ry="2.1" fill="#a0a0a0" opacity="0.7"/>
<ellipse cx="729" cy="1145" rx="5.1" ry="5.0" fill="#2e2e2e" opacity="0.61"/>
<ellipse cx="730" cy="1137" rx="3.6" ry="2.3" fill="#a0a0a0" opacity="0.7"/>
<ellipse cx="728" cy="1138" rx="3.2" ry="2.5" fill="#a0a0a0" opacity="0.7"/>
<ellipse cx="738" cy="1151" rx="6.8" ry="6.2" fill="#2e2e2e" opacity="0.73"/>
<ellipse cx="734" cy="1141" rx="3.9" ry="3.7" fill="#a0a0a0" opacity="0.7"/>
<ellipse cx="749" cy="1152" rx="5.8" ry="4.4" fill="#2e2e2e" opacity="0.63"/>
<ellipse cx="754" cy="1140" rx="5.9" ry="2.8" fill="#a0a0a0" opacity="0.7"/>
<ellipse cx="759" cy="1149" rx="4.5" ry="5.2" fill="#2e2e2e" opacity="0.88"/>
<ellipse cx="760" cy="1145" rx="4.4" ry="3.9" fill="#a0a0a0" opacity="0.7"/>
<ellipse cx="755" cy="1140" rx="5.5" ry="2.2" fill="#a0a0a0" opacity="0.7"/>
<ellipse cx="769" cy="1153" rx="4.2" ry="5.7" fill="#2e2e2e" opacity="0.72"/>
<ellipse cx="770" cy="1141" rx="3.5" ry="2.1" fill="#a0a0a0" opacity="0.7"/>
<ellipse cx="774" cy="1141" rx="5.5" ry="2.8" fill="#a0a0a0" opacity="0.7"/>
<ellipse cx="776" cy="1149" rx="8.0" ry="6.3" fill="#2e2e2e" opacity="0.86"/>
<ellipse cx="780" cy="1141" rx="6.0" ry="2.7" fill="#a0a0a0" opacity="0.7"/>
<ellipse cx="770" cy="1140" rx="2.8" ry="3.6" fill="#a0a0a0" opacity="0.7"/>
<ellipse cx="787" cy="1150" rx="4.6" ry="4.2" fill="#2e2e2e" opacity="0.83"/>
<ellipse cx="790" cy="1142" rx="3.0" ry="2.5" fill="#a0a0a0" opacity="0.7"/>
<ellipse cx="784" cy="1143" rx="3.9" ry="3.1" fill="#a0a0a0" opacity="0.7"/>
<ellipse cx="796" cy="1155" rx="5.5" ry="5.3" fill="#2e2e2e" opacity="0.69"/>
<ellipse cx="796" cy="1143" rx="2.9" ry="3.3" fill="#a0a0a0" opacity="0.7"/>
<ellipse cx="808" cy="1158" rx="6.4" ry="4.6" fill="#2e2e2e" opacity="0.90"/>
<ellipse cx="808" cy="1146" rx="5.0" ry="3.4" fill="#a0a0a0" opacity="0.7"/>
<ellipse cx="811" cy="1147" rx="4.8" ry="3.1" fill="#a0a0a0" opacity="0.7"/>
<ellipse cx="818" cy="1153" rx="5.1" ry="5.0" fill="#2e2e2e" opacity="0.74"/>
<ellipse cx="824" cy="1142" rx="5.6" ry="3.1" fill="#a0a0a0" opacity="0.7"/>
<ellipse cx="829" cy="1160" rx="4.9" ry="4.3" fill="#2e2e2e" opacity="0.80"/>
<ellipse cx="826" cy="1143" rx="3.6" ry="2.2" fill="#a0a0a0" opacity="0.7"/>
<ellipse cx="823" cy="1146" rx="5.0" ry="3.0" fill="#a0a0a0" opacity="0.7"/>
<ellipse cx="838" cy="1158" rx="7.3" ry="3.9" fill="#2e2e2e" opacity="0.75"/>
<ellipse cx="845" cy="1146" rx="4.9" ry="3.6" fill="#a0a0a0" opacity="0.7"/>
<ellipse cx="834" cy="1144" rx="3.5" ry="2.4" fill="#a0a0a0" opacity="0.7"/>
<ellipse cx="851" cy="1159" rx="4.3" ry="5.8" fill="#2e2e2e" opacity="0.79"/>
<ellipse cx="847" cy="1151" rx="5.6" ry="3.5" fill="#a0a0a0" opacity="0.7"/>
<ellipse cx="858" cy="1157" rx="5.4" ry="4.8" fill="#2e2e2e" opacity="0.71"/>
<ellipse cx="862" cy="1145" rx="4.5" ry="3.6" fill="#a0a0a0" opacity="0.7"/>
<ellipse cx="855" cy="1147" rx="3.5" ry="3.8" fill="#a0a0a0" opacity="0.7"/>
<ellipse cx="869" cy="1159" rx="4.6" ry="3.7" fill="#2e2e2e" opacity="0.75"/>
<ellipse cx="874" cy="1152" rx="4.5" ry="2.2" fill="#a0a0a0" opacity="0.7"/>
<ellipse cx="874" cy="1150" rx="4.1" ry="3.9" fill="#a0a0a0" opacity="0.7"/>
<ellipse cx="876" cy="1161" rx="7.4" ry="6.0" fill="#2e2e2e" opacity="0.63"/>
<ellipse cx="877" cy="1150" rx="3.1" ry="3.9" fill="#a0a0a0" opacity="0.7"/>
<ellipse cx="887" cy="1158" rx="6.8" ry="5.1" fill="#2e2e2e" opacity="0.70"/>
<ellipse cx="890" cy="1150" rx="4.1" ry="3.0" fill="#a0a0a0" opacity="0.7"/>
<ellipse cx="893" cy="1152" rx="3.4" ry="2.6" fill="#a0a0a0" opacity="0.7"/>
<ellipse cx="899" cy="1163" rx="7.2" ry="6.2" fill="#2e2e2e" opacity="0.62"/>
<ellipse cx="900" cy="1152" rx="3.1" ry="2.5" fill="#a0a0a0" opacity="0.7"/>
<ellipse cx="910" cy="1155" rx="6.2" ry="6.0" fill="#2e2e2e" opacity="0.83"/>
<ellipse cx="916" cy="1151" rx="4.1" ry="2.6" fill="#a0a0a0" opacity="0.7"/>
<ellipse cx="921" cy="1163" rx="7.5" ry="5.5" fill="#2e2e2e" opacity="0.69"/>
<ellipse cx="916" cy="1152" rx="2.9" ry="2.1" fill="#a0a0a0" opacity="0.7"/>
<ellipse cx="923" cy="1148" rx="3.5" ry="2.2" fill="#a0a0a0" opacity="0.7"/>
<ellipse cx="937" cy="1162" rx="8.5" ry="6.5" fill="#2e2e2e" opacity="0.71"/>
<ellipse cx="935" cy="1153" rx="4.4" ry="2.3" fill="#a0a0a0" opacity="0.7"/>
<ellipse cx="955" cy="1161" rx="4.1" ry="3.8" fill="#2e2e2e" opacity="0.74"/>
<ellipse cx="962" cy="1150" rx="3.0" ry="4.0" fill="#a0a0a0" opacity="0.7"/>
<ellipse cx="963" cy="1165" rx="8.0" ry="4.0" fill="#2e2e2e" opacity="0.69"/>
<ellipse cx="968" cy="1148" rx="2.6" ry="3.2" fill="#a0a0a0" opacity="0.7"/>
<ellipse cx="969" cy="1155" rx="3.8" ry="3.5" fill="#a0a0a0" opacity="0.7"/>
<ellipse cx="974" cy="1159" rx="7.6" ry="4.8" fill="#2e2e2e" opacity="0.69"/>
<ellipse cx="974" cy="1150" rx="2.6" ry="2.1" fill="#a0a0a0" opacity="0.7"/>
<ellipse cx="979" cy="1150" rx="4.1" ry="3.8" fill="#a0a0a0" opacity="0.7"/>
<ellipse cx="986" cy="1160" rx="8.1" ry="6.2" fill="#2e2e2e" opacity="0.81"/>
<ellipse cx="984" cy="1147" rx="5.1" ry="3.9" fill="#a0a0a0" opacity="0.7"/>
<ellipse cx="1000" cy="1156" rx="8.1" ry="5.5" fill="#2e2e2e" opacity="0.69"/>
<ellipse cx="999" cy="1150" rx="2.6" ry="2.0" fill="#a0a0a0" opacity="0.7"/>
<ellipse cx="1001" cy="1154" rx="4.7" ry="3.8" fill="#a0a0a0" opacity="0.7"/>
<ellipse cx="1013" cy="1156" rx="5.2" ry="4.6" fill="#2e2e2e" opacity="0.76"/>
<ellipse cx="1007" cy="1153" rx="3.4" ry="2.9" fill="#a0a0a0" opacity="0.7"/>
<ellipse cx="1007" cy="1147" rx="5.5" ry="3.8" fill="#a0a0a0" opacity="0.7"/>
<ellipse cx="1024" cy="1157" rx="6.3" ry="4.0" fill="#2e2e2e" opacity="0.76"/>
<ellipse cx="1025" cy="1154" rx="5.8" ry="2.5" fill="#a0a0a0" opacity="0.7"/>
<ellipse cx="1017" cy="1154" rx="5.9" ry="3.7" fill="#a0a0a0" opacity="0.7"/>
<ellipse cx="1036" cy="1158" rx="7.0" ry="6.3" fill="#2e2e2e" opacity="0.75"/>
<ellipse cx="1034" cy="1148" rx="3.5" ry="3.7" fill="#a0a0a0" opacity="0.7"/>
<ellipse cx="1049" cy="1161" rx="7.6" ry="6.0" fill="#2e2e2e" opacity="0.76"/>
<ellipse cx="1053" cy="1148" rx="3.1" ry="2.1" fill="#a0a0a0" opacity="0.7"/>
<ellipse cx="1051" cy="1147" rx="2.9" ry="2.9" fill="#a0a0a0" opacity="0.7"/>
<ellipse cx="1063" cy="1158" rx="5.1" ry="6.2" fill="#2e2e2e" opacity="0.67"/>
<ellipse cx="1071" cy="1154" rx="5.7" ry="4.8" fill="#2e2e2e" opacity="0.87"/>
<ellipse cx="1067" cy="1150" rx="4.1" ry="3.3" fill="#a0a0a0" opacity="0.7"/>
<ellipse cx="1074" cy="1152" rx="5.9" ry="2.1" fill="#a0a0a0" opacity="0.7"/>
<ellipse cx="1080" cy="1158" rx="5.1" ry="5.2" fill="#2e2e2e" opacity="0.74"/>
<ellipse cx="1075" cy="1148" rx="3.3" ry="3.3" fill="#a0a0a0" opacity="0.7"/>
<ellipse cx="1088" cy="1156" rx="8.5" ry="6.3" fill="#2e2e2e" opacity="0.61"/>
<ellipse cx="1084" cy="1149" rx="5.9" ry="3.9" fill="#a0a0a0" opacity="0.7"/>
<ellipse cx="1084" cy="1147" rx="3.4" ry="3.3" fill="#a0a0a0" opacity="0.7"/>
<ellipse cx="1104" cy="1155" rx="4.1" ry="4.2" fill="#2e2e2e" opacity="0.73"/>
<ellipse cx="1098" cy="1143" rx="3.9" ry="2.4" fill="#a0a0a0" opacity="0.7"/>
<ellipse cx="1110" cy="1148" rx="2.7" ry="3.5" fill="#a0a0a0" opacity="0.7"/>
<ellipse cx="1110" cy="1154" rx="8.7" ry="4.1" fill="#2e2e2e" opacity="0.61"/>
<ellipse cx="1105" cy="1148" rx="5.8" ry="2.2" fill="#a0a0a0" opacity="0.7"/>
<ellipse cx="1114" cy="1146" rx="5.4" ry="2.6" fill="#a0a0a0" opacity="0.7"/>
<ellipse cx="1123" cy="1151" rx="6.2" ry="4.7" fill="#2e2e2e" opacity="0.79"/>
<ellipse cx="1123" cy="1146" rx="5.1" ry="3.7" fill="#a0a0a0" opacity="0.7"/>
<ellipse cx="1120" cy="1148" rx="5.6" ry="3.7" fill="#a0a0a0" opacity="0.7"/>
<ellipse cx="1136" cy="1156" rx="4.0" ry="6.1" fill="#2e2e2e" opacity="0.70"/>
<ellipse cx="1140" cy="1147" rx="4.0" ry="2.1" fill="#a0a0a0" opacity="0.7"/>
<ellipse cx="1133" cy="1145" rx="5.2" ry="2.2" fill="#a0a0a0" opacity="0.7"/>
<ellipse cx="1142" cy="1153" rx="7.2" ry="4.9" fill="#2e2e2e" opacity="0.88"/>
<ellipse cx="1144" cy="1142" rx="4.4" ry="2.4" fill="#a0a0a0" opacity="0.7"/>
<ellipse cx="1154" cy="1151" rx="6.4" ry="5.4" fill="#2e2e2e" opacity="0.64"/>
<ellipse cx="1149" cy="1142" rx="4.9" ry="3.8" fill="#a0a0a0" opacity="0.7"/>
<ellipse cx="1154" cy="1142" rx="4.5" ry="2.5" fill="#a0a0a0" opacity="0.7"/>
<ellipse cx="1165" cy="1153" rx="4.3" ry="3.8" fill="#2e2e2e" opacity="0.64"/>
<ellipse cx="1172" cy="1138" rx="2.9" ry="2.3" fill="#a0a0a0" opacity="0.7"/>
<ellipse cx="1166" cy="1139" rx="5.2" ry="3.6" fill="#a0a0a0" opacity="0.7"/>
<ellipse cx="1173" cy="1153" rx="4.9" ry="3.9" fill="#2e2e2e" opacity="0.66"/>
<ellipse cx="1179" cy="1139" rx="5.0" ry="2.1" fill="#a0a0a0" opacity="0.7"/>
<ellipse cx="1181" cy="1152" rx="7.8" ry="6.2" fill="#2e2e2e" opacity="0.88"/>
<ellipse cx="1180" cy="1137" rx="4.7" ry="3.6" fill="#a0a0a0" opacity="0.7"/>
<ellipse cx="1195" cy="1149" rx="5.0" ry="5.3" fill="#2e2e2e" opacity="0.73"/>
<ellipse cx="1199" cy="1135" rx="2.7" ry="3.4" fill="#a0a0a0" opacity="0.7"/>
<ellipse cx="1202" cy="1136" rx="3.7" ry="3.7" fill="#a0a0a0" opacity="0.7"/>
</g>
<g filter="url(#speck)">
<polygon points="660,1078.8 664,1079.0 670,1079.1 674,1079.3 680,1079.5 684,1079.7 690,1079.9 694,1080.0 700,1080.2 704,1080.4 710,1080.6 714,1080.8 720,1080.9 724,1081.1 730,1081.3 734,1081.5 740,1081.7 744,1081.9 750,1082.0 754,1082.2 760,1082.5 764,1082.7 770,1082.9 774,1083.1 780,1083.3 784,1083.5 790,1083.7 794,1083.9 800,1084.1 804,1084.2 810,1084.4 814,1084.5 820,1084.7 824,1084.8 830,1084.9 834,1085.0 840,1085.2 844,1085.4 850,1085.7 854,1086.0 860,1086.5 864,1087.0 870,1087.8 874,1088.6 880,1089.7 884,1090.9 890,1092.2 894,1093.6 900,1095.1 904,1096.5 910,1097.8 914,1099.0 920,1099.9 924,1100.5 930,1100.8 934,1100.7 940,1100.2 944,1099.4 950,1098.3 954,1097.0 960,1095.6 964,1094.1 970,1092.5 974,1091.1 980,1089.7 984,1088.5 990,1087.5 994,1086.6 1000,1085.9 1004,1085.4 1010,1084.9 1014,1084.6 1020,1084.4 1024,1084.2 1030,1084.1 1034,1084.0 1040,1084.0 1044,1084.1 1050,1084.2 1054,1084.5 1060,1084.8 1064,1085.1 1070,1085.4 1074,1085.9 1080,1086.3 1084,1086.7 1090,1087.0 1094,1087.2 1100,1087.2 1104,1087.1 1110,1087.1 1114,1086.9 1120,1086.8 1124,1086.6 1130,1086.4 1134,1086.2 1140,1086.0 1144,1085.7 1150,1085.5 1154,1085.2 1160,1085.0 1164,1084.7 1170,1084.4 1174,1084.2 1180,1083.9 1184,1083.6 1190,1083.4 1194,1083.2 1198,1083.0 1198,1089.5 1194,1089.7 1190,1090.0 1184,1090.3 1180,1090.6 1174,1090.9 1170,1091.2 1164,1091.6 1160,1091.9 1154,1092.2 1150,1092.5 1144,1092.8 1140,1093.1 1134,1093.4 1130,1093.6 1124,1093.9 1120,1094.1 1114,1094.3 1110,1094.5 1104,1094.6 1100,1094.8 1094,1094.8 1090,1094.8 1084,1094.6 1080,1094.4 1074,1094.1 1070,1093.9 1064,1093.6 1060,1093.5 1054,1093.3 1050,1093.1 1044,1093.0 1040,1093.0 1034,1093.0 1030,1093.0 1024,1093.0 1020,1093.1 1014,1093.1 1010,1093.2 1004,1093.2 1000,1093.4 994,1093.6 990,1093.8 984,1094.2 980,1094.6 974,1095.2 970,1095.8 964,1096.6 960,1097.4 954,1098.3 950,1099.1 944,1099.8 940,1100.4 934,1100.7 930,1100.8 924,1100.6 920,1100.2 914,1099.6 910,1098.8 904,1098.0 900,1097.2 894,1096.4 890,1095.7 884,1095.1 880,1094.6 874,1094.2 870,1093.9 864,1093.6 860,1093.5 854,1093.3 850,1093.2 844,1093.1 840,1093.0 834,1092.9 830,1092.7 824,1092.6 820,1092.5 814,1092.3 810,1092.2 804,1092.0 800,1091.8 794,1091.6 790,1091.4 784,1091.1 780,1090.9 774,1090.7 770,1090.5 764,1090.2 760,1090.0 754,1089.8 750,1089.5 744,1089.3 740,1089.1 734,1088.9 730,1088.7 724,1088.5 720,1088.3 714,1088.1 710,1087.9 704,1087.6 700,1087.4 694,1087.2 690,1087.0 684,1086.8 680,1086.6 674,1086.4 670,1086.2 664,1086.0 660,1085.8" fill="#c8c8c8" />
<polygon points="660,1085.8 664,1086.0 670,1086.2 674,1086.4 680,1086.6 684,1086.8 690,1087.0 694,1087.2 700,1087.4 704,1087.6 710,1087.9 714,1088.1 720,1088.3 724,1088.5 730,1088.7 734,1088.9 740,1089.1 744,1089.3 750,1089.5 754,1089.8 760,1090.0 764,1090.2 770,1090.5 774,1090.7 780,1090.9 784,1091.1 790,1091.4 794,1091.6 800,1091.8 804,1092.0 810,1092.2 814,1092.3 820,1092.5 824,1092.6 830,1092.7 834,1092.9 840,1093.0 844,1093.1 850,1093.2 854,1093.3 860,1093.5 864,1093.6 870,1093.9 874,1094.2 880,1094.6 884,1095.1 890,1095.7 894,1096.4 900,1097.2 904,1098.0 910,1098.8 914,1099.6 920,1100.2 924,1100.6 930,1100.8 934,1100.7 940,1100.4 944,1099.8 950,1099.1 954,1098.3 960,1097.4 964,1096.6 970,1095.8 974,1095.2 980,1094.6 984,1094.2 990,1093.8 994,1093.6 1000,1093.4 1004,1093.2 1010,1093.2 1014,1093.1 1020,1093.1 1024,1093.0 1030,1093.0 1034,1093.0 1040,1093.0 1044,1093.0 1050,1093.1 1054,1093.3 1060,1093.5 1064,1093.6 1070,1093.9 1074,1094.1 1080,1094.4 1084,1094.6 1090,1094.8 1094,1094.8 1100,1094.8 1104,1094.6 1110,1094.5 1114,1094.3 1120,1094.1 1124,1093.9 1130,1093.6 1134,1093.4 1140,1093.1 1144,1092.8 1150,1092.5 1154,1092.2 1160,1091.9 1164,1091.6 1170,1091.2 1174,1090.9 1180,1090.6 1184,1090.3 1190,1090.0 1194,1089.7 1198,1089.5 1198,1096.9 1194,1097.2 1190,1097.5 1184,1097.9 1180,1098.2 1174,1098.6 1170,1099.0 1164,1099.4 1160,1099.7 1154,1100.1 1150,1100.5 1144,1100.8 1140,1101.2 1134,1101.5 1130,1101.8 1124,1102.1 1120,1102.4 1114,1102.7 1110,1102.9 1104,1103.1 1100,1103.4 1094,1103.5 1090,1103.6 1084,1103.6 1080,1103.6 1074,1103.5 1070,1103.4 1064,1103.4 1060,1103.3 1054,1103.3 1050,1103.2 1044,1103.2 1040,1103.2 1034,1103.2 1030,1103.1 1024,1103.1 1020,1102.9 1014,1102.8 1010,1102.6 1004,1102.3 1000,1101.9 994,1101.5 990,1101.1 984,1100.7 980,1100.3 974,1100.0 970,1099.9 964,1099.8 960,1099.9 954,1100.1 950,1100.4 944,1100.7 940,1100.9 934,1101.1 930,1101.2 924,1101.1 920,1100.9 914,1100.6 910,1100.3 904,1100.1 900,1099.9 894,1099.9 890,1100.0 884,1100.2 880,1100.4 874,1100.7 870,1101.0 864,1101.3 860,1101.5 854,1101.6 850,1101.8 844,1101.8 840,1101.8 834,1101.7 830,1101.7 824,1101.5 820,1101.4 814,1101.2 810,1101.0 804,1100.8 800,1100.5 794,1100.3 790,1100.1 784,1099.8 780,1099.6 774,1099.3 770,1099.1 764,1098.8 760,1098.6 754,1098.3 750,1098.1 744,1097.8 740,1097.6 734,1097.3 730,1097.1 724,1096.8 720,1096.6 714,1096.3 710,1096.1 704,1095.9 700,1095.6 694,1095.4 690,1095.1 684,1094.9 680,1094.6 674,1094.4 670,1094.2 664,1093.9 660,1093.7" fill="#8c8c8c" />
<polygon points="660,1093.7 664,1093.9 670,1094.2 674,1094.4 680,1094.6 684,1094.9 690,1095.1 694,1095.4 700,1095.6 704,1095.9 710,1096.1 714,1096.3 720,1096.6 724,1096.8 730,1097.1 734,1097.3 740,1097.6 744,1097.8 750,1098.1 754,1098.3 760,1098.6 764,1098.8 770,1099.1 774,1099.3 780,1099.6 784,1099.8 790,1100.1 794,1100.3 800,1100.5 804,1100.8 810,1101.0 814,1101.2 820,1101.4 824,1101.5 830,1101.7 834,1101.7 840,1101.8 844,1101.8 850,1101.8 854,1101.6 860,1101.5 864,1101.3 870,1101.0 874,1100.7 880,1100.4 884,1100.2 890,1100.0 894,1099.9 900,1099.9 904,1100.1 910,1100.3 914,1100.6 920,1100.9 924,1101.1 930,1101.2 934,1101.1 940,1100.9 944,1100.7 950,1100.4 954,1100.1 960,1099.9 964,1099.8 970,1099.9 974,1100.0 980,1100.3 984,1100.7 990,1101.1 994,1101.5 1000,1101.9 1004,1102.3 1010,1102.6 1014,1102.8 1020,1102.9 1024,1103.1 1030,1103.1 1034,1103.2 1040,1103.2 1044,1103.2 1050,1103.2 1054,1103.3 1060,1103.3 1064,1103.4 1070,1103.4 1074,1103.5 1080,1103.6 1084,1103.6 1090,1103.6 1094,1103.5 1100,1103.4 1104,1103.1 1110,1102.9 1114,1102.7 1120,1102.4 1124,1102.1 1130,1101.8 1134,1101.5 1140,1101.2 1144,1100.8 1150,1100.5 1154,1100.1 1160,1099.7 1164,1099.4 1170,1099.0 1174,1098.6 1180,1098.2 1184,1097.9 1190,1097.5 1194,1097.2 1198,1096.9 1198,1100.8 1194,1101.0 1190,1101.4 1184,1101.8 1180,1102.2 1174,1102.6 1170,1103.0 1164,1103.4 1160,1103.8 1154,1104.2 1150,1104.6 1144,1105.0 1140,1105.4 1134,1105.7 1130,1106.1 1124,1106.4 1120,1106.7 1114,1107.0 1110,1107.3 1104,1107.6 1100,1107.8 1094,1108.0 1090,1108.2 1084,1108.3 1080,1108.3 1074,1108.4 1070,1108.4 1064,1108.4 1060,1108.5 1054,1108.5 1050,1108.5 1044,1108.5 1040,1108.5 1034,1108.5 1030,1108.5 1024,1108.3 1020,1108.2 1014,1107.9 1010,1107.6 1004,1107.2 1000,1106.7 994,1106.1 990,1105.4 984,1104.7 980,1104.0 974,1103.4 970,1102.9 964,1102.5 960,1102.2 954,1102.2 950,1102.2 944,1102.3 940,1102.5 934,1102.6 930,1102.6 924,1102.6 920,1102.4 914,1102.3 910,1102.2 904,1102.3 900,1102.4 894,1102.6 890,1103.0 884,1103.5 880,1104.0 874,1104.6 870,1105.1 864,1105.5 860,1105.9 854,1106.2 850,1106.3 844,1106.4 840,1106.5 834,1106.4 830,1106.3 824,1106.2 820,1106.0 814,1105.8 810,1105.6 804,1105.4 800,1105.1 794,1104.9 790,1104.6 784,1104.3 780,1104.1 774,1103.8 770,1103.6 764,1103.3 760,1103.0 754,1102.8 750,1102.5 744,1102.2 740,1102.0 734,1101.7 730,1101.4 724,1101.2 720,1100.9 714,1100.7 710,1100.4 704,1100.1 700,1099.9 694,1099.6 690,1099.4 684,1099.1 680,1098.8 674,1098.6 670,1098.3 664,1098.1 660,1097.8" fill="#5a5a5a" />
<polygon points="660,1097.8 664,1098.1 670,1098.3 674,1098.6 680,1098.8 684,1099.1 690,1099.4 694,1099.6 700,1099.9 704,1100.1 710,1100.4 714,1100.7 720,1100.9 724,1101.2 730,1101.4 734,1101.7 740,1102.0 744,1102.2 750,1102.5 754,1102.8 760,1103.0 764,1103.3 770,1103.6 774,1103.8 780,1104.1 784,1104.3 790,1104.6 794,1104.9 800,1105.1 804,1105.4 810,1105.6 814,1105.8 820,1106.0 824,1106.2 830,1106.3 834,1106.4 840,1106.5 844,1106.4 850,1106.3 854,1106.2 860,1105.9 864,1105.5 870,1105.1 874,1104.6 880,1104.0 884,1103.5 890,1103.0 894,1102.6 900,1102.4 904,1102.3 910,1102.2 914,1102.3 920,1102.4 924,1102.6 930,1102.6 934,1102.6 940,1102.5 944,1102.3 950,1102.2 954,1102.2 960,1102.2 964,1102.5 970,1102.9 974,1103.4 980,1104.0 984,1104.7 990,1105.4 994,1106.1 1000,1106.7 1004,1107.2 1010,1107.6 1014,1107.9 1020,1108.2 1024,1108.3 1030,1108.5 1034,1108.5 1040,1108.5 1044,1108.5 1050,1108.5 1054,1108.5 1060,1108.5 1064,1108.4 1070,1108.4 1074,1108.4 1080,1108.3 1084,1108.3 1090,1108.2 1094,1108.0 1100,1107.8 1104,1107.6 1110,1107.3 1114,1107.0 1120,1106.7 1124,1106.4 1130,1106.1 1134,1105.7 1140,1105.4 1144,1105.0 1150,1104.6 1154,1104.2 1160,1103.8 1164,1103.4 1170,1103.0 1174,1102.6 1180,1102.2 1184,1101.8 1190,1101.4 1194,1101.0 1198,1100.8 1198,1104.3 1194,1104.6 1190,1105.0 1184,1105.4 1180,1105.9 1174,1106.3 1170,1106.7 1164,1107.2 1160,1107.6 1154,1108.0 1150,1108.4 1144,1108.8 1140,1109.3 1134,1109.6 1130,1110.0 1124,1110.4 1120,1110.7 1114,1111.0 1110,1111.4 1104,1111.7 1100,1112.0 1094,1112.2 1090,1112.4 1084,1112.6 1080,1112.8 1074,1112.9 1070,1113.0 1064,1113.1 1060,1113.2 1054,1113.3 1050,1113.4 1044,1113.4 1040,1113.5 1034,1113.5 1030,1113.4 1024,1113.3 1020,1113.1 1014,1112.8 1010,1112.5 1004,1112.0 1000,1111.4 994,1110.7 990,1109.9 984,1109.1 980,1108.2 974,1107.4 970,1106.7 964,1106.1 960,1105.6 954,1105.4 950,1105.2 944,1105.2 940,1105.3 934,1105.3 930,1105.3 924,1105.3 920,1105.2 914,1105.2 910,1105.3 904,1105.4 900,1105.7 894,1106.2 890,1106.7 884,1107.3 880,1108.0 874,1108.7 870,1109.3 864,1109.8 860,1110.2 854,1110.5 850,1110.7 844,1110.8 840,1110.8 834,1110.8 830,1110.7 824,1110.5 820,1110.3 814,1110.1 810,1109.8 804,1109.6 800,1109.3 794,1109.1 790,1108.8 784,1108.5 780,1108.3 774,1108.0 770,1107.7 764,1107.4 760,1107.1 754,1106.9 750,1106.6 744,1106.3 740,1106.0 734,1105.7 730,1105.5 724,1105.2 720,1104.9 714,1104.6 710,1104.4 704,1104.1 700,1103.8 694,1103.5 690,1103.3 684,1103.0 680,1102.7 674,1102.4 670,1102.1 664,1101.9 660,1101.6" fill="#828282" />
<polygon points="660,1101.6 664,1101.9 670,1102.1 674,1102.4 680,1102.7 684,1103.0 690,1103.3 694,1103.5 700,1103.8 704,1104.1 710,1104.4 714,1104.6 720,1104.9 724,1105.2 730,1105.5 734,1105.7 740,1106.0 744,1106.3 750,1106.6 754,1106.9 760,1107.1 764,1107.4 770,1107.7 774,1108.0 780,1108.3 784,1108.5 790,1108.8 794,1109.1 800,1109.3 804,1109.6 810,1109.8 814,1110.1 820,1110.3 824,1110.5 830,1110.7 834,1110.8 840,1110.8 844,1110.8 850,1110.7 854,1110.5 860,1110.2 864,1109.8 870,1109.3 874,1108.7 880,1108.0 884,1107.3 890,1106.7 894,1106.2 900,1105.7 904,1105.4 910,1105.3 914,1105.2 920,1105.2 924,1105.3 930,1105.3 934,1105.3 940,1105.3 944,1105.2 950,1105.2 954,1105.4 960,1105.6 964,1106.1 970,1106.7 974,1107.4 980,1108.2 984,1109.1 990,1109.9 994,1110.7 1000,1111.4 1004,1112.0 1010,1112.5 1014,1112.8 1020,1113.1 1024,1113.3 1030,1113.4 1034,1113.5 1040,1113.5 1044,1113.4 1050,1113.4 1054,1113.3 1060,1113.2 1064,1113.1 1070,1113.0 1074,1112.9 1080,1112.8 1084,1112.6 1090,1112.4 1094,1112.2 1100,1112.0 1104,1111.7 1110,1111.4 1114,1111.0 1120,1110.7 1124,1110.4 1130,1110.0 1134,1109.6 1140,1109.3 1144,1108.8 1150,1108.4 1154,1108.0 1160,1107.6 1164,1107.2 1170,1106.7 1174,1106.3 1180,1105.9 1184,1105.4 1190,1105.0 1194,1104.6 1198,1104.3 1198,1112.6 1194,1112.9 1190,1113.4 1184,1113.9 1180,1114.4 1174,1114.9 1170,1115.4 1164,1115.9 1160,1116.4 1154,1116.9 1150,1117.4 1144,1117.8 1140,1118.3 1134,1118.8 1130,1119.2 1124,1119.6 1120,1120.0 1114,1120.4 1110,1120.8 1104,1121.2 1100,1121.6 1094,1122.0 1090,1122.3 1084,1122.7 1080,1123.0 1074,1123.4 1070,1123.7 1064,1124.0 1060,1124.3 1054,1124.6 1050,1124.8 1044,1125.0 1040,1125.2 1034,1125.4 1030,1125.5 1024,1125.5 1020,1125.6 1014,1125.7 1010,1125.8 1004,1125.9 1000,1125.9 994,1126.0 990,1126.0 984,1126.0 980,1126.1 974,1126.1 970,1126.1 964,1126.1 960,1126.1 954,1126.1 950,1126.0 944,1126.0 940,1125.9 934,1125.8 930,1125.8 924,1125.7 920,1125.5 914,1125.4 910,1125.3 904,1125.1 900,1125.0 894,1124.8 890,1124.6 884,1124.3 880,1124.1 874,1123.8 870,1123.6 864,1123.3 860,1123.0 854,1122.7 850,1122.4 844,1122.1 840,1121.8 834,1121.4 830,1121.1 824,1120.8 820,1120.5 814,1120.1 810,1119.8 804,1119.5 800,1119.2 794,1118.9 790,1118.6 784,1118.3 780,1118.0 774,1117.7 770,1117.4 764,1117.0 760,1116.7 754,1116.4 750,1116.1 744,1115.8 740,1115.5 734,1115.2 730,1114.9 724,1114.5 720,1114.2 714,1113.9 710,1113.6 704,1113.3 700,1113.0 694,1112.7 690,1112.3 684,1112.0 680,1111.7 674,1111.4 670,1111.1 664,1110.8 660,1110.5" fill="#484848" />
<polygon points="660,1110.5 664,1110.8 670,1111.1 674,1111.4 680,1111.7 684,1112.0 690,1112.3 694,1112.7 700,1113.0 704,1113.3 710,1113.6 714,1113.9 720,1114.2 724,1114.5 730,1114.9 734,1115.2 740,1115.5 744,1115.8 750,1116.1 754,1116.4 760,1116.7 764,1117.0 770,1117.4 774,1117.7 780,1118.0 784,1118.3 790,1118.6 794,1118.9 800,1119.2 804,1119.5 810,1119.8 814,1120.1 820,1120.5 824,1120.8 830,1121.1 834,1121.4 840,1121.8 844,1122.1 850,1122.4 854,1122.7 860,1123.0 864,1123.3 870,1123.6 874,1123.8 880,1124.1 884,1124.3 890,1124.6 894,1124.8 900,1125.0 904,1125.1 910,1125.3 914,1125.4 920,1125.5 924,1125.7 930,1125.8 934,1125.8 940,1125.9 944,1126.0 950,1126.0 954,1126.1 960,1126.1 964,1126.1 970,1126.1 974,1126.1 980,1126.1 984,1126.0 990,1126.0 994,1126.0 1000,1125.9 1004,1125.9 1010,1125.8 1014,1125.7 1020,1125.6 1024,1125.5 1030,1125.5 1034,1125.4 1040,1125.2 1044,1125.0 1050,1124.8 1054,1124.6 1060,1124.3 1064,1124.0 1070,1123.7 1074,1123.4 1080,1123.0 1084,1122.7 1090,1122.3 1094,1122.0 1100,1121.6 1104,1121.2 1110,1120.8 1114,1120.4 1120,1120.0 1124,1119.6 1130,1119.2 1134,1118.8 1140,1118.3 1144,1117.8 1150,1117.4 1154,1116.9 1160,1116.4 1164,1115.9 1170,1115.4 1174,1114.9 1180,1114.4 1184,1113.9 1190,1113.4 1194,1112.9 1198,1112.6 1198,1117.6 1194,1117.9 1190,1118.4 1184,1118.9 1180,1119.4 1174,1119.9 1170,1120.4 1164,1120.9 1160,1121.4 1154,1121.9 1150,1122.4 1144,1122.8 1140,1123.3 1134,1123.8 1130,1124.2 1124,1124.6 1120,1125.0 1114,1125.4 1110,1125.8 1104,1126.2 1100,1126.6 1094,1127.0 1090,1127.3 1084,1127.7 1080,1128.0 1074,1128.4 1070,1128.7 1064,1129.0 1060,1129.3 1054,1129.6 1050,1129.8 1044,1130.0 1040,1130.2 1034,1130.4 1030,1130.5 1024,1130.5 1020,1130.6 1014,1130.7 1010,1130.8 1004,1130.9 1000,1130.9 994,1131.0 990,1131.0 984,1131.0 980,1131.1 974,1131.1 970,1131.1 964,1131.1 960,1131.1 954,1131.1 950,1131.0 944,1131.0 940,1130.9 934,1130.8 930,1130.8 924,1130.7 920,1130.5 914,1130.4 910,1130.3 904,1130.1 900,1130.0 894,1129.8 890,1129.6 884,1129.3 880,1129.1 874,1128.8 870,1128.6 864,1128.3 860,1128.0 854,1127.7 850,1127.4 844,1127.1 840,1126.8 834,1126.4 830,1126.1 824,1125.8 820,1125.5 814,1125.1 810,1124.8 804,1124.5 800,1124.2 794,1123.9 790,1123.6 784,1123.3 780,1123.0 774,1122.7 770,1122.4 764,1122.0 760,1121.7 754,1121.4 750,1121.1 744,1120.8 740,1120.5 734,1120.2 730,1119.9 724,1119.5 720,1119.2 714,1118.9 710,1118.6 704,1118.3 700,1118.0 694,1117.7 690,1117.3 684,1117.0 680,1116.7 674,1116.4 670,1116.1 664,1115.8 660,1115.5" fill="#e8e8e8" />
<polygon points="660,1115.5 664,1115.8 670,1116.1 674,1116.4 680,1116.7 684,1117.0 690,1117.3 694,1117.7 700,1118.0 704,1118.3 710,1118.6 714,1118.9 720,1119.2 724,1119.5 730,1119.9 734,1120.2 740,1120.5 744,1120.8 750,1121.1 754,1121.4 760,1121.7 764,1122.0 770,1122.4 774,1122.7 780,1123.0 784,1123.3 790,1123.6 794,1123.9 800,1124.2 804,1124.5 810,1124.8 814,1125.1 820,1125.5 824,1125.8 830,1126.1 834,1126.4 840,1126.8 844,1127.1 850,1127.4 854,1127.7 860,1128.0 864,1128.3 870,1128.6 874,1128.8 880,1129.1 884,1129.3 890,1129.6 894,1129.8 900,1130.0 904,1130.1 910,1130.3 914,1130.4 920,1130.5 924,1130.7 930,1130.8 934,1130.8 940,1130.9 944,1131.0 950,1131.0 954,1131.1 960,1131.1 964,1131.1 970,1131.1 974,1131.1 980,1131.1 984,1131.0 990,1131.0 994,1131.0 1000,1130.9 1004,1130.9 1010,1130.8 1014,1130.7 1020,1130.6 1024,1130.5 1030,1130.5 1034,1130.4 1040,1130.2 1044,1130.0 1050,1129.8 1054,1129.6 1060,1129.3 1064,1129.0 1070,1128.7 1074,1128.4 1080,1128.0 1084,1127.7 1090,1127.3 1094,1127.0 1100,1126.6 1104,1126.2 1110,1125.8 1114,1125.4 1120,1125.0 1124,1124.6 1130,1124.2 1134,1123.8 1140,1123.3 1144,1122.8 1150,1122.4 1154,1121.9 1160,1121.4 1164,1120.9 1170,1120.4 1174,1119.9 1180,1119.4 1184,1118.9 1190,1118.4 1194,1117.9 1198,1117.6 1198,1119.1 1194,1119.4 1190,1119.9 1184,1120.4 1180,1120.9 1174,1121.4 1170,1121.9 1164,1122.4 1160,1122.9 1154,1123.4 1150,1123.9 1144,1124.3 1140,1124.8 1134,1125.3 1130,1125.7 1124,1126.1 1120,1126.5 1114,1126.9 1110,1127.3 1104,1127.7 1100,1128.1 1094,1128.5 1090,1128.8 1084,1129.2 1080,1129.5 1074,1129.9 1070,1130.2 1064,1130.5 1060,1130.8 1054,1131.1 1050,1131.3 1044,1131.5 1040,1131.7 1034,1131.9 1030,1132.0 1024,1132.0 1020,1132.1 1014,1132.2 1010,1132.3 1004,1132.4 1000,1132.4 994,1132.5 990,1132.5 984,1132.5 980,1132.6 974,1132.6 970,1132.6 964,1132.6 960,1132.6 954,1132.6 950,1132.5 944,1132.5 940,1132.4 934,1132.3 930,1132.3 924,1132.2 920,1132.0 914,1131.9 910,1131.8 904,1131.6 900,1131.5 894,1131.3 890,1131.1 884,1130.8 880,1130.6 874,1130.3 870,1130.1 864,1129.8 860,1129.5 854,1129.2 850,1128.9 844,1128.6 840,1128.3 834,1127.9 830,1127.6 824,1127.3 820,1127.0 814,1126.6 810,1126.3 804,1126.0 800,1125.7 794,1125.4 790,1125.1 784,1124.8 780,1124.5 774,1124.2 770,1123.9 764,1123.5 760,1123.2 754,1122.9 750,1122.6 744,1122.3 740,1122.0 734,1121.7 730,1121.4 724,1121.0 720,1120.7 714,1120.4 710,1120.1 704,1119.8 700,1119.5 694,1119.2 690,1118.8 684,1118.5 680,1118.2 674,1117.9 670,1117.6 664,1117.3 660,1117.0" fill="#b0b0b0" />
<polygon points="660,1117.0 664,1117.3 670,1117.6 674,1117.9 680,1118.2 684,1118.5 690,1118.8 694,1119.2 700,1119.5 704,1119.8 710,1120.1 714,1120.4 720,1120.7 724,1121.0 730,1121.4 734,1121.7 740,1122.0 744,1122.3 750,1122.6 754,1122.9 760,1123.2 764,1123.5 770,1123.9 774,1124.2 780,1124.5 784,1124.8 790,1125.1 794,1125.4 800,1125.7 804,1126.0 810,1126.3 814,1126.6 820,1127.0 824,1127.3 830,1127.6 834,1127.9 840,1128.3 844,1128.6 850,1128.9 854,1129.2 860,1129.5 864,1129.8 870,1130.1 874,1130.3 880,1130.6 884,1130.8 890,1131.1 894,1131.3 900,1131.5 904,1131.6 910,1131.8 914,1131.9 920,1132.0 924,1132.2 930,1132.3 934,1132.3 940,1132.4 944,1132.5 950,1132.5 954,1132.6 960,1132.6 964,1132.6 970,1132.6 974,1132.6 980,1132.6 984,1132.5 990,1132.5 994,1132.5 1000,1132.4 1004,1132.4 1010,1132.3 1014,1132.2 1020,1132.1 1024,1132.0 1030,1132.0 1034,1131.9 1040,1131.7 1044,1131.5 1050,1131.3 1054,1131.1 1060,1130.8 1064,1130.5 1070,1130.2 1074,1129.9 1080,1129.5 1084,1129.2 1090,1128.8 1094,1128.5 1100,1128.1 1104,1127.7 1110,1127.3 1114,1126.9 1120,1126.5 1124,1126.1 1130,1125.7 1134,1125.3 1140,1124.8 1144,1124.3 1150,1123.9 1154,1123.4 1160,1122.9 1164,1122.4 1170,1121.9 1174,1121.4 1180,1120.9 1184,1120.4 1190,1119.9 1194,1119.4 1198,1119.1 1198,1124.1 1194,1124.4 1190,1124.9 1184,1125.4 1180,1125.9 1174,1126.4 1170,1126.9 1164,1127.4 1160,1127.9 1154,1128.4 1150,1128.9 1144,1129.3 1140,1129.8 1134,1130.3 1130,1130.7 1124,1131.1 1120,1131.5 1114,1131.9 1110,1132.3 1104,1132.7 1100,1133.1 1094,1133.5 1090,1133.8 1084,1134.2 1080,1134.5 1074,1134.9 1070,1135.2 1064,1135.5 1060,1135.8 1054,1136.1 1050,1136.3 1044,1136.5 1040,1136.7 1034,1136.9 1030,1137.0 1024,1137.0 1020,1137.1 1014,1137.2 1010,1137.3 1004,1137.4 1000,1137.4 994,1137.5 990,1137.5 984,1137.5 980,1137.6 974,1137.6 970,1137.6 964,1137.6 960,1137.6 954,1137.6 950,1137.5 944,1137.5 940,1137.4 934,1137.3 930,1137.3 924,1137.2 920,1137.0 914,1136.9 910,1136.8 904,1136.6 900,1136.5 894,1136.3 890,1136.1 884,1135.8 880,1135.6 874,1135.3 870,1135.1 864,1134.8 860,1134.5 854,1134.2 850,1133.9 844,1133.6 840,1133.3 834,1132.9 830,1132.6 824,1132.3 820,1132.0 814,1131.6 810,1131.3 804,1131.0 800,1130.7 794,1130.4 790,1130.1 784,1129.8 780,1129.5 774,1129.2 770,1128.9 764,1128.5 760,1128.2 754,1127.9 750,1127.6 744,1127.3 740,1127.0 734,1126.7 730,1126.4 724,1126.0 720,1125.7 714,1125.4 710,1125.1 704,1124.8 700,1124.5 694,1124.2 690,1123.8 684,1123.5 680,1123.2 674,1122.9 670,1122.6 664,1122.3 660,1122.0" fill="#f4f4f4" />
<polygon points="660,1122.0 664,1122.3 670,1122.6 674,1122.9 680,1123.2 684,1123.5 690,1123.8 694,1124.2 700,1124.5 704,1124.8 710,1125.1 714,1125.4 720,1125.7 724,1126.0 730,1126.4 734,1126.7 740,1127.0 744,1127.3 750,1127.6 754,1127.9 760,1128.2 764,1128.5 770,1128.9 774,1129.2 780,1129.5 784,1129.8 790,1130.1 794,1130.4 800,1130.7 804,1131.0 810,1131.3 814,1131.6 820,1132.0 824,1132.3 830,1132.6 834,1132.9 840,1133.3 844,1133.6 850,1133.9 854,1134.2 860,1134.5 864,1134.8 870,1135.1 874,1135.3 880,1135.6 884,1135.8 890,1136.1 894,1136.3 900,1136.5 904,1136.6 910,1136.8 914,1136.9 920,1137.0 924,1137.2 930,1137.3 934,1137.3 940,1137.4 944,1137.5 950,1137.5 954,1137.6 960,1137.6 964,1137.6 970,1137.6 974,1137.6 980,1137.6 984,1137.5 990,1137.5 994,1137.5 1000,1137.4 1004,1137.4 1010,1137.3 1014,1137.2 1020,1137.1 1024,1137.0 1030,1137.0 1034,1136.9 1040,1136.7 1044,1136.5 1050,1136.3 1054,1136.1 1060,1135.8 1064,1135.5 1070,1135.2 1074,1134.9 1080,1134.5 1084,1134.2 1090,1133.8 1094,1133.5 1100,1133.1 1104,1132.7 1110,1132.3 1114,1131.9 1120,1131.5 1124,1131.1 1130,1130.7 1134,1130.3 1140,1129.8 1144,1129.3 1150,1128.9 1154,1128.4 1160,1127.9 1164,1127.4 1170,1126.9 1174,1126.4 1180,1125.9 1184,1125.4 1190,1124.9 1194,1124.4 1198,1124.1 1198,1125.6 1194,1125.9 1190,1126.4 1184,1126.9 1180,1127.4 1174,1127.9 1170,1128.4 1164,1128.9 1160,1129.4 1154,1129.9 1150,1130.4 1144,1130.8 1140,1131.3 1134,1131.8 1130,1132.2 1124,1132.6 1120,1133.0 1114,1133.4 1110,1133.8 1104,1134.2 1100,1134.6 1094,1135.0 1090,1135.3 1084,1135.7 1080,1136.0 1074,1136.4 1070,1136.7 1064,1137.0 1060,1137.3 1054,1137.6 1050,1137.8 1044,1138.0 1040,1138.2 1034,1138.4 1030,1138.5 1024,1138.5 1020,1138.6 1014,1138.7 1010,1138.8 1004,1138.9 1000,1138.9 994,1139.0 990,1139.0 984,1139.0 980,1139.1 974,1139.1 970,1139.1 964,1139.1 960,1139.1 954,1139.1 950,1139.0 944,1139.0 940,1138.9 934,1138.8 930,1138.8 924,1138.7 920,1138.5 914,1138.4 910,1138.3 904,1138.1 900,1138.0 894,1137.8 890,1137.6 884,1137.3 880,1137.1 874,1136.8 870,1136.6 864,1136.3 860,1136.0 854,1135.7 850,1135.4 844,1135.1 840,1134.8 834,1134.4 830,1134.1 824,1133.8 820,1133.5 814,1133.1 810,1132.8 804,1132.5 800,1132.2 794,1131.9 790,1131.6 784,1131.3 780,1131.0 774,1130.7 770,1130.4 764,1130.0 760,1129.7 754,1129.4 750,1129.1 744,1128.8 740,1128.5 734,1128.2 730,1127.9 724,1127.5 720,1127.2 714,1126.9 710,1126.6 704,1126.3 700,1126.0 694,1125.7 690,1125.3 684,1125.0 680,1124.7 674,1124.4 670,1124.1 664,1123.8 660,1123.5" fill="#8a8a8a" />
<polygon points="660,1123.5 664,1123.8 670,1124.1 674,1124.4 680,1124.7 684,1125.0 690,1125.3 694,1125.7 700,1126.0 704,1126.3 710,1126.6 714,1126.9 720,1127.2 724,1127.5 730,1127.9 734,1128.2 740,1128.5 744,1128.8 750,1129.1 754,1129.4 760,1129.7 764,1130.0 770,1130.4 774,1130.7 780,1131.0 784,1131.3 790,1131.6 794,1131.9 800,1132.2 804,1132.5 810,1132.8 814,1133.1 820,1133.5 824,1133.8 830,1134.1 834,1134.4 840,1134.8 844,1135.1 850,1135.4 854,1135.7 860,1136.0 864,1136.3 870,1136.6 874,1136.8 880,1137.1 884,1137.3 890,1137.6 894,1137.8 900,1138.0 904,1138.1 910,1138.3 914,1138.4 920,1138.5 924,1138.7 930,1138.8 934,1138.8 940,1138.9 944,1139.0 950,1139.0 954,1139.1 960,1139.1 964,1139.1 970,1139.1 974,1139.1 980,1139.1 984,1139.0 990,1139.0 994,1139.0 1000,1138.9 1004,1138.9 1010,1138.8 1014,1138.7 1020,1138.6 1024,1138.5 1030,1138.5 1034,1138.4 1040,1138.2 1044,1138.0 1050,1137.8 1054,1137.6 1060,1137.3 1064,1137.0 1070,1136.7 1074,1136.4 1080,1136.0 1084,1135.7 1090,1135.3 1094,1135.0 1100,1134.6 1104,1134.2 1110,1133.8 1114,1133.4 1120,1133.0 1124,1132.6 1130,1132.2 1134,1131.8 1140,1131.3 1144,1130.8 1150,1130.4 1154,1129.9 1160,1129.4 1164,1128.9 1170,1128.4 1174,1127.9 1180,1127.4 1184,1126.9 1190,1126.4 1194,1125.9 1198,1125.6 1198,1131.6 1194,1131.9 1190,1132.4 1184,1132.9 1180,1133.4 1174,1133.9 1170,1134.4 1164,1134.9 1160,1135.4 1154,1135.9 1150,1136.4 1144,1136.8 1140,1137.3 1134,1137.8 1130,1138.2 1124,1138.6 1120,1139.0 1114,1139.4 1110,1139.8 1104,1140.2 1100,1140.6 1094,1141.0 1090,1141.3 1084,1141.7 1080,1142.0 1074,1142.4 1070,1142.7 1064,1143.0 1060,1143.3 1054,1143.6 1050,1143.8 1044,1144.0 1040,1144.2 1034,1144.4 1030,1144.5 1024,1144.5 1020,1144.6 1014,1144.7 1010,1144.8 1004,1144.9 1000,1144.9 994,1145.0 990,1145.0 984,1145.0 980,1145.1 974,1145.1 970,1145.1 964,1145.1 960,1145.1 954,1145.1 950,1145.0 944,1145.0 940,1144.9 934,1144.8 930,1144.8 924,1144.7 920,1144.5 914,1144.4 910,1144.3 904,1144.1 900,1144.0 894,1143.8 890,1143.6 884,1143.3 880,1143.1 874,1142.8 870,1142.6 864,1142.3 860,1142.0 854,1141.7 850,1141.4 844,1141.1 840,1140.8 834,1140.4 830,1140.1 824,1139.8 820,1139.5 814,1139.1 810,1138.8 804,1138.5 800,1138.2 794,1137.9 790,1137.6 784,1137.3 780,1137.0 774,1136.7 770,1136.4 764,1136.0 760,1135.7 754,1135.4 750,1135.1 744,1134.8 740,1134.5 734,1134.2 730,1133.9 724,1133.5 720,1133.2 714,1132.9 710,1132.6 704,1132.3 700,1132.0 694,1131.7 690,1131.3 684,1131.0 680,1130.7 674,1130.4 670,1130.1 664,1129.8 660,1129.5" fill="#c2c2c2" />
</g>
<ellipse cx="931" cy="1101.6000000000004" rx="4.5" ry="1.4" fill="#fff" filter="url(#ob)"/>
<rect x="753.5" y="1106.9" width="5" height="45.6" fill="#1a1a1a" opacity="0.15"/>
<rect x="754.5" y="1106.9" width="3" height="45.6" fill="#1a1a1a" opacity="0.25"/>
<rect x="755.2" y="1106.9" width="1.5" height="45.6" fill="#1a1a1a" opacity="0.3"/>
<rect x="852.5" y="1110.5" width="5" height="48.2" fill="#1a1a1a" opacity="0.15"/>
<rect x="853.5" y="1110.5" width="3" height="48.2" fill="#1a1a1a" opacity="0.25"/>
<rect x="854.2" y="1110.5" width="1.5" height="48.2" fill="#1a1a1a" opacity="0.3"/>
<rect x="1069.0" y="1112.9" width="6" height="46.6" fill="#1a1a1a" opacity="0.15"/>
<rect x="1070.0" y="1112.9" width="4" height="46.6" fill="#1a1a1a" opacity="0.25"/>
<rect x="1070.8" y="1112.9" width="2.5" height="46.6" fill="#1a1a1a" opacity="0.3"/>
<rect x="1124.5" y="1110.2" width="5" height="45.2" fill="#1a1a1a" opacity="0.15"/>
<rect x="1125.5" y="1110.2" width="3" height="45.2" fill="#1a1a1a" opacity="0.25"/>
<rect x="1126.2" y="1110.2" width="1.5" height="45.2" fill="#1a1a1a" opacity="0.3"/>
<rect x="659.5" y="979.5" width="539.0" height="10.5" fill="#000"/>
</g>
<rect x="657.75" y="977.75" width="542.5" height="283.0999999999999" fill="none" stroke="#e6a21e" stroke-width="3.5"/>
<g clip-path="url(#co2)">
<g filter="url(#vstreak)">
<rect x="82.8" y="1282.5" width="559.3000000000001" height="279.5999999999999" fill="#222"/>
<polygon points="83,1409.0 88,1409.3 93,1409.6 98,1409.9 103,1410.3 108,1410.6 113,1410.9 118,1411.3 123,1411.6 128,1411.9 133,1412.3 138,1412.6 143,1413.0 148,1413.3 153,1413.6 158,1414.0 163,1414.3 168,1414.6 173,1415.0 178,1415.3 183,1415.6 188,1416.0 193,1416.3 198,1416.6 203,1416.9 208,1417.2 213,1417.6 218,1417.9 223,1418.2 228,1418.5 233,1418.8 238,1419.1 243,1419.4 248,1419.8 253,1420.1 258,1420.4 263,1420.8 268,1421.1 273,1421.4 278,1421.7 283,1422.1 288,1422.4 293,1422.7 298,1423.0 303,1423.3 308,1423.6 313,1423.8 318,1424.1 323,1424.4 328,1424.6 333,1424.8 338,1425.0 343,1425.2 348,1425.4 353,1425.5 358,1425.7 363,1425.8 368,1425.8 373,1425.9 378,1426.0 383,1426.0 388,1426.0 393,1426.0 398,1426.0 403,1426.0 408,1425.9 413,1425.9 418,1425.8 423,1425.8 428,1425.7 433,1425.6 438,1425.5 443,1425.4 448,1425.3 453,1425.2 458,1425.1 463,1424.9 468,1424.8 473,1424.7 478,1424.6 483,1424.4 488,1424.3 493,1424.2 498,1424.1 503,1423.9 508,1423.8 513,1423.7 518,1423.5 523,1423.4 528,1423.2 533,1423.1 538,1422.9 543,1422.7 548,1422.5 553,1422.4 558,1422.2 563,1422.0 568,1421.8 573,1421.6 578,1421.4 583,1421.2 588,1421.0 593,1420.8 598,1420.6 603,1420.4 608,1420.2 613,1420.1 618,1419.9 623,1419.7 628,1419.5 633,1419.3 638,1419.1 642,1419.0 642,1572.1 638,1572.1 633,1572.1 628,1572.1 623,1572.1 618,1572.1 613,1572.1 608,1572.1 603,1572.1 598,1572.1 593,1572.1 588,1572.1 583,1572.1 578,1572.1 573,1572.1 568,1572.1 563,1572.1 558,1572.1 553,1572.1 548,1572.1 543,1572.1 538,1572.1 533,1572.1 528,1572.1 523,1572.1 518,1572.1 513,1572.1 508,1572.1 503,1572.1 498,1572.1 493,1572.1 488,1572.1 483,1572.1 478,1572.1 473,1572.1 468,1572.1 463,1572.1 458,1572.1 453,1572.1 448,1572.1 443,1572.1 438,1572.1 433,1572.1 428,1572.1 423,1572.1 418,1572.1 413,1572.1 408,1572.1 403,1572.1 398,1572.1 393,1572.1 388,1572.1 383,1572.1 378,1572.1 373,1572.1 368,1572.1 363,1572.1 358,1572.1 353,1572.1 348,1572.1 343,1572.1 338,1572.1 333,1572.1 328,1572.1 323,1572.1 318,1572.1 313,1572.1 308,1572.1 303,1572.1 298,1572.1 293,1572.1 288,1572.1 283,1572.1 278,1572.1 273,1572.1 268,1572.1 263,1572.1 258,1572.1 253,1572.1 248,1572.1 243,1572.1 238,1572.1 233,1572.1 228,1572.1 223,1572.1 218,1572.1 213,1572.1 208,1572.1 203,1572.1 198,1572.1 193,1572.1 188,1572.1 183,1572.1 178,1572.1 173,1572.1 168,1572.1 163,1572.1 158,1572.1 153,1572.1 148,1572.1 143,1572.1 138,1572.1 133,1572.1 128,1572.1 123,1572.1 118,1572.1 113,1572.1 108,1572.1 103,1572.1 98,1572.1 93,1572.1 88,1572.1 83,1572.1" fill="url(#chfade2)" filter="url(#ob4)"/>
</g>
<g filter="url(#ob4)">
<polygon points="83,1405.0 88,1405.3 93,1405.6 98,1405.9 103,1406.3 108,1406.6 113,1406.9 118,1407.3 123,1407.6 128,1407.9 133,1408.3 138,1408.6 143,1409.0 148,1409.3 153,1409.6 158,1410.0 163,1410.3 168,1410.6 173,1411.0 178,1411.3 183,1411.6 188,1412.0 193,1412.3 198,1412.6 203,1412.9 208,1413.2 213,1413.6 218,1413.9 223,1414.2 228,1414.5 233,1414.8 238,1415.1 243,1415.4 248,1415.8 253,1416.1 258,1416.4 263,1416.8 268,1417.1 273,1417.4 278,1417.7 283,1418.1 288,1418.4 293,1418.7 298,1419.0 303,1419.3 308,1419.6 313,1419.8 318,1420.1 323,1420.4 328,1420.6 333,1420.8 338,1421.0 343,1421.2 348,1421.4 353,1421.5 358,1421.7 363,1421.8 368,1421.8 373,1421.9 378,1422.0 383,1422.0 388,1422.0 393,1422.0 398,1422.0 403,1422.0 408,1421.9 413,1421.9 418,1421.8 423,1421.8 428,1421.7 433,1421.6 438,1421.5 443,1421.4 448,1421.3 453,1421.2 458,1421.1 463,1420.9 468,1420.8 473,1420.7 478,1420.6 483,1420.4 488,1420.3 493,1420.2 498,1420.1 503,1419.9 508,1419.8 513,1419.7 518,1419.5 523,1419.4 528,1419.2 533,1419.1 538,1418.9 543,1418.7 548,1418.5 553,1418.4 558,1418.2 563,1418.0 568,1417.8 573,1417.6 578,1417.4 583,1417.2 588,1417.0 593,1416.8 598,1416.6 603,1416.4 608,1416.2 613,1416.1 618,1415.9 623,1415.7 628,1415.5 633,1415.3 638,1415.1 642,1415.0 642,1449.0 638,1449.1 633,1449.3 628,1449.5 623,1449.7 618,1449.9 613,1450.1 608,1450.2 603,1450.4 598,1450.6 593,1450.8 588,1451.0 583,1451.2 578,1451.4 573,1451.6 568,1451.8 563,1452.0 558,1452.2 553,1452.4 548,1452.5 543,1452.7 538,1452.9 533,1453.1 528,1453.2 523,1453.4 518,1453.5 513,1453.7 508,1453.8 503,1453.9 498,1454.1 493,1454.2 488,1454.3 483,1454.4 478,1454.6 473,1454.7 468,1454.8 463,1454.9 458,1455.1 453,1455.2 448,1455.3 443,1455.4 438,1455.5 433,1455.6 428,1455.7 423,1455.8 418,1455.8 413,1455.9 408,1455.9 403,1456.0 398,1456.0 393,1456.0 388,1456.0 383,1456.0 378,1456.0 373,1455.9 368,1455.8 363,1455.8 358,1455.7 353,1455.5 348,1455.4 343,1455.2 338,1455.0 333,1454.8 328,1454.6 323,1454.4 318,1454.1 313,1453.8 308,1453.6 303,1453.3 298,1453.0 293,1452.7 288,1452.4 283,1452.1 278,1451.7 273,1451.4 268,1451.1 263,1450.8 258,1450.4 253,1450.1 248,1449.8 243,1449.4 238,1449.1 233,1448.8 228,1448.5 223,1448.2 218,1447.9 213,1447.6 208,1447.2 203,1446.9 198,1446.6 193,1446.3 188,1446.0 183,1445.6 178,1445.3 173,1445.0 168,1444.6 163,1444.3 158,1444.0 153,1443.6 148,1443.3 143,1443.0 138,1442.6 133,1442.3 128,1441.9 123,1441.6 118,1441.3 113,1440.9 108,1440.6 103,1440.3 98,1439.9 93,1439.6 88,1439.3 83,1439.0" fill="#626262" />
</g>
<g filter="url(#ob15)">
<ellipse cx="79" cy="1425" rx="7.4" ry="3.8" fill="#2e2e2e" opacity="0.85"/>
<ellipse cx="81" cy="1413" rx="4.3" ry="2.2" fill="#a0a0a0" opacity="0.7"/>
<ellipse cx="93" cy="1423" rx="7.0" ry="4.3" fill="#2e2e2e" opacity="0.82"/>
<ellipse cx="100" cy="1418" rx="5.4" ry="2.2" fill="#a0a0a0" opacity="0.7"/>
<ellipse cx="90" cy="1414" rx="5.0" ry="3.7" fill="#a0a0a0" opacity="0.7"/>
<ellipse cx="106" cy="1421" rx="7.2" ry="5.2" fill="#2e2e2e" opacity="0.76"/>
<ellipse cx="105" cy="1412" rx="4.8" ry="3.8" fill="#a0a0a0" opacity="0.7"/>
<ellipse cx="107" cy="1412" rx="3.7" ry="2.3" fill="#a0a0a0" opacity="0.7"/>
<ellipse cx="121" cy="1423" rx="7.6" ry="6.2" fill="#2e2e2e" opacity="0.82"/>
<ellipse cx="121" cy="1420" rx="4.7" ry="2.6" fill="#a0a0a0" opacity="0.7"/>
<ellipse cx="121" cy="1414" rx="4.7" ry="2.1" fill="#a0a0a0" opacity="0.7"/>
<ellipse cx="135" cy="1428" rx="6.8" ry="3.5" fill="#2e2e2e" opacity="0.63"/>
<ellipse cx="132" cy="1414" rx="6.0" ry="2.1" fill="#a0a0a0" opacity="0.7"/>
<ellipse cx="135" cy="1415" rx="4.4" ry="2.9" fill="#a0a0a0" opacity="0.7"/>
<ellipse cx="147" cy="1425" rx="6.7" ry="4.4" fill="#2e2e2e" opacity="0.81"/>
<ellipse cx="148" cy="1422" rx="2.5" ry="2.6" fill="#a0a0a0" opacity="0.7"/>
<ellipse cx="141" cy="1420" rx="3.9" ry="2.6" fill="#a0a0a0" opacity="0.7"/>
<ellipse cx="158" cy="1431" rx="8.8" ry="3.6" fill="#2e2e2e" opacity="0.81"/>
<ellipse cx="156" cy="1419" rx="5.7" ry="2.1" fill="#a0a0a0" opacity="0.7"/>
<ellipse cx="176" cy="1434" rx="7.4" ry="4.1" fill="#2e2e2e" opacity="0.69"/>
<ellipse cx="173" cy="1420" rx="2.6" ry="3.2" fill="#a0a0a0" opacity="0.7"/>
<ellipse cx="174" cy="1422" rx="4.7" ry="3.9" fill="#a0a0a0" opacity="0.7"/>
<ellipse cx="192" cy="1434" rx="8.3" ry="6.3" fill="#2e2e2e" opacity="0.75"/>
<ellipse cx="191" cy="1422" rx="5.9" ry="3.3" fill="#a0a0a0" opacity="0.7"/>
<ellipse cx="186" cy="1422" rx="2.6" ry="2.3" fill="#a0a0a0" opacity="0.7"/>
<ellipse cx="203" cy="1432" rx="7.7" ry="6.3" fill="#2e2e2e" opacity="0.63"/>
<ellipse cx="199" cy="1424" rx="4.9" ry="3.9" fill="#a0a0a0" opacity="0.7"/>
<ellipse cx="200" cy="1421" rx="2.8" ry="3.9" fill="#a0a0a0" opacity="0.7"/>
<ellipse cx="218" cy="1429" rx="4.5" ry="4.9" fill="#2e2e2e" opacity="0.89"/>
<ellipse cx="211" cy="1425" rx="3.7" ry="3.3" fill="#a0a0a0" opacity="0.7"/>
<ellipse cx="225" cy="1430" rx="6.7" ry="6.4" fill="#2e2e2e" opacity="0.67"/>
<ellipse cx="218" cy="1426" rx="5.3" ry="3.9" fill="#a0a0a0" opacity="0.7"/>
<ellipse cx="237" cy="1435" rx="6.3" ry="5.1" fill="#2e2e2e" opacity="0.89"/>
<ellipse cx="237" cy="1424" rx="3.4" ry="2.3" fill="#a0a0a0" opacity="0.7"/>
<ellipse cx="249" cy="1434" rx="7.4" ry="4.3" fill="#2e2e2e" opacity="0.65"/>
<ellipse cx="244" cy="1426" rx="5.5" ry="3.1" fill="#a0a0a0" opacity="0.7"/>
<ellipse cx="260" cy="1435" rx="6.6" ry="3.9" fill="#2e2e2e" opacity="0.67"/>
<ellipse cx="266" cy="1426" rx="3.4" ry="3.0" fill="#a0a0a0" opacity="0.7"/>
<ellipse cx="264" cy="1425" rx="5.4" ry="3.2" fill="#a0a0a0" opacity="0.7"/>
<ellipse cx="272" cy="1432" rx="7.0" ry="5.3" fill="#2e2e2e" opacity="0.84"/>
<ellipse cx="269" cy="1426" rx="5.8" ry="3.3" fill="#a0a0a0" opacity="0.7"/>
<ellipse cx="273" cy="1423" rx="4.2" ry="2.9" fill="#a0a0a0" opacity="0.7"/>
<ellipse cx="286" cy="1440" rx="5.8" ry="3.9" fill="#2e2e2e" opacity="0.67"/>
<ellipse cx="285" cy="1431" rx="4.9" ry="2.3" fill="#a0a0a0" opacity="0.7"/>
<ellipse cx="286" cy="1424" rx="3.3" ry="2.2" fill="#a0a0a0" opacity="0.7"/>
<ellipse cx="298" cy="1439" rx="8.4" ry="6.1" fill="#2e2e2e" opacity="0.61"/>
<ellipse cx="303" cy="1424" rx="4.2" ry="3.6" fill="#a0a0a0" opacity="0.7"/>
<ellipse cx="296" cy="1429" rx="4.8" ry="2.3" fill="#a0a0a0" opacity="0.7"/>
<ellipse cx="315" cy="1437" rx="4.4" ry="4.0" fill="#2e2e2e" opacity="0.66"/>
<ellipse cx="313" cy="1431" rx="5.4" ry="3.5" fill="#a0a0a0" opacity="0.7"/>
<ellipse cx="322" cy="1442" rx="7.3" ry="5.9" fill="#2e2e2e" opacity="0.73"/>
<ellipse cx="328" cy="1431" rx="2.7" ry="3.8" fill="#a0a0a0" opacity="0.7"/>
<ellipse cx="337" cy="1443" rx="6.7" ry="6.4" fill="#2e2e2e" opacity="0.84"/>
<ellipse cx="332" cy="1431" rx="2.5" ry="3.0" fill="#a0a0a0" opacity="0.7"/>
<ellipse cx="347" cy="1437" rx="7.5" ry="6.2" fill="#2e2e2e" opacity="0.77"/>
<ellipse cx="354" cy="1430" rx="3.1" ry="3.3" fill="#a0a0a0" opacity="0.7"/>
<ellipse cx="348" cy="1430" rx="3.1" ry="2.2" fill="#a0a0a0" opacity="0.7"/>
<ellipse cx="362" cy="1441" rx="4.6" ry="4.7" fill="#2e2e2e" opacity="0.84"/>
<ellipse cx="360" cy="1428" rx="3.3" ry="3.9" fill="#a0a0a0" opacity="0.7"/>
<ellipse cx="355" cy="1435" rx="3.7" ry="3.1" fill="#a0a0a0" opacity="0.7"/>
<ellipse cx="371" cy="1439" rx="5.1" ry="4.4" fill="#2e2e2e" opacity="0.78"/>
<ellipse cx="378" cy="1431" rx="4.1" ry="2.1" fill="#a0a0a0" opacity="0.7"/>
<ellipse cx="381" cy="1438" rx="4.4" ry="6.0" fill="#2e2e2e" opacity="0.85"/>
<ellipse cx="378" cy="1432" rx="4.1" ry="2.8" fill="#a0a0a0" opacity="0.7"/>
<ellipse cx="391" cy="1443" rx="5.7" ry="4.6" fill="#2e2e2e" opacity="0.73"/>
<ellipse cx="390" cy="1428" rx="3.1" ry="3.6" fill="#a0a0a0" opacity="0.7"/>
<ellipse cx="390" cy="1431" rx="3.1" ry="2.2" fill="#a0a0a0" opacity="0.7"/>
<ellipse cx="399" cy="1442" rx="7.0" ry="4.4" fill="#2e2e2e" opacity="0.70"/>
<ellipse cx="411" cy="1441" rx="7.1" ry="4.0" fill="#2e2e2e" opacity="0.69"/>
<ellipse cx="415" cy="1434" rx="4.0" ry="3.4" fill="#a0a0a0" opacity="0.7"/>
<ellipse cx="409" cy="1428" rx="2.7" ry="2.3" fill="#a0a0a0" opacity="0.7"/>
<ellipse cx="423" cy="1438" rx="5.5" ry="4.1" fill="#2e2e2e" opacity="0.70"/>
<ellipse cx="434" cy="1443" rx="6.8" ry="3.6" fill="#2e2e2e" opacity="0.84"/>
<ellipse cx="430" cy="1430" rx="3.2" ry="4.0" fill="#a0a0a0" opacity="0.7"/>
<ellipse cx="435" cy="1429" rx="3.9" ry="3.1" fill="#a0a0a0" opacity="0.7"/>
<ellipse cx="448" cy="1438" rx="5.7" ry="4.8" fill="#2e2e2e" opacity="0.75"/>
<ellipse cx="444" cy="1431" rx="5.7" ry="3.9" fill="#a0a0a0" opacity="0.7"/>
<ellipse cx="457" cy="1437" rx="8.8" ry="3.9" fill="#2e2e2e" opacity="0.66"/>
<ellipse cx="454" cy="1428" rx="2.9" ry="3.4" fill="#a0a0a0" opacity="0.7"/>
<ellipse cx="457" cy="1431" rx="5.5" ry="3.9" fill="#a0a0a0" opacity="0.7"/>
<ellipse cx="471" cy="1441" rx="8.3" ry="5.4" fill="#2e2e2e" opacity="0.64"/>
<ellipse cx="465" cy="1430" rx="3.6" ry="3.5" fill="#a0a0a0" opacity="0.7"/>
<ellipse cx="487" cy="1441" rx="8.1" ry="6.1" fill="#2e2e2e" opacity="0.71"/>
<ellipse cx="487" cy="1431" rx="4.6" ry="3.2" fill="#a0a0a0" opacity="0.7"/>
<ellipse cx="487" cy="1428" rx="5.3" ry="3.9" fill="#a0a0a0" opacity="0.7"/>
<ellipse cx="503" cy="1443" rx="5.8" ry="4.3" fill="#2e2e2e" opacity="0.88"/>
<ellipse cx="513" cy="1434" rx="7.7" ry="5.0" fill="#2e2e2e" opacity="0.76"/>
<ellipse cx="516" cy="1426" rx="4.8" ry="2.8" fill="#a0a0a0" opacity="0.7"/>
<ellipse cx="530" cy="1436" rx="6.6" ry="5.6" fill="#2e2e2e" opacity="0.70"/>
<ellipse cx="532" cy="1431" rx="2.9" ry="2.7" fill="#a0a0a0" opacity="0.7"/>
<ellipse cx="544" cy="1438" rx="7.3" ry="5.9" fill="#2e2e2e" opacity="0.82"/>
<ellipse cx="539" cy="1430" rx="5.1" ry="2.6" fill="#a0a0a0" opacity="0.7"/>
<ellipse cx="549" cy="1431" rx="3.4" ry="4.0" fill="#a0a0a0" opacity="0.7"/>
<ellipse cx="560" cy="1434" rx="5.8" ry="5.1" fill="#2e2e2e" opacity="0.73"/>
<ellipse cx="557" cy="1428" rx="5.4" ry="2.8" fill="#a0a0a0" opacity="0.7"/>
<ellipse cx="569" cy="1433" rx="7.4" ry="6.5" fill="#2e2e2e" opacity="0.67"/>
<ellipse cx="565" cy="1430" rx="4.3" ry="2.0" fill="#a0a0a0" opacity="0.7"/>
<ellipse cx="567" cy="1428" rx="3.2" ry="3.6" fill="#a0a0a0" opacity="0.7"/>
<ellipse cx="581" cy="1440" rx="6.9" ry="4.8" fill="#2e2e2e" opacity="0.62"/>
<ellipse cx="586" cy="1430" rx="2.6" ry="2.4" fill="#a0a0a0" opacity="0.7"/>
<ellipse cx="586" cy="1428" rx="4.2" ry="3.3" fill="#a0a0a0" opacity="0.7"/>
<ellipse cx="594" cy="1435" rx="8.4" ry="4.9" fill="#2e2e2e" opacity="0.65"/>
<ellipse cx="588" cy="1426" rx="2.9" ry="3.0" fill="#a0a0a0" opacity="0.7"/>
<ellipse cx="599" cy="1427" rx="5.0" ry="2.3" fill="#a0a0a0" opacity="0.7"/>
<ellipse cx="608" cy="1434" rx="4.1" ry="5.1" fill="#2e2e2e" opacity="0.76"/>
<ellipse cx="615" cy="1428" rx="3.2" ry="3.7" fill="#a0a0a0" opacity="0.7"/>
<ellipse cx="611" cy="1426" rx="5.8" ry="2.2" fill="#a0a0a0" opacity="0.7"/>
<ellipse cx="617" cy="1439" rx="7.7" ry="5.6" fill="#2e2e2e" opacity="0.89"/>
<ellipse cx="613" cy="1426" rx="4.6" ry="3.1" fill="#a0a0a0" opacity="0.7"/>
<ellipse cx="620" cy="1422" rx="3.2" ry="2.6" fill="#a0a0a0" opacity="0.7"/>
<ellipse cx="631" cy="1432" rx="6.7" ry="4.8" fill="#2e2e2e" opacity="0.79"/>
<ellipse cx="627" cy="1428" rx="5.0" ry="2.4" fill="#a0a0a0" opacity="0.7"/>
<ellipse cx="628" cy="1424" rx="5.5" ry="3.6" fill="#a0a0a0" opacity="0.7"/>
<ellipse cx="640" cy="1433" rx="7.3" ry="6.4" fill="#2e2e2e" opacity="0.70"/>
<ellipse cx="638" cy="1427" rx="3.7" ry="2.5" fill="#a0a0a0" opacity="0.7"/>
<ellipse cx="646" cy="1420" rx="2.5" ry="3.4" fill="#a0a0a0" opacity="0.7"/>
</g>
<g filter="url(#speck)">
<polygon points="83,1361.0 88,1361.1 93,1361.3 98,1361.5 103,1361.7 108,1361.8 113,1362.0 118,1362.2 123,1362.4 128,1362.6 133,1362.7 138,1362.9 143,1363.1 148,1363.3 153,1363.4 158,1363.6 163,1363.8 168,1364.0 173,1364.2 178,1364.4 183,1364.6 188,1364.8 193,1365.0 198,1365.2 203,1365.4 208,1365.6 213,1365.8 218,1366.0 223,1366.2 228,1366.4 233,1366.6 238,1366.7 243,1366.9 248,1367.1 253,1367.2 258,1367.4 263,1367.6 268,1367.8 273,1368.0 278,1368.4 283,1368.8 288,1369.3 293,1369.9 298,1370.7 303,1371.7 308,1372.9 313,1374.2 318,1375.7 323,1377.3 328,1378.9 333,1380.6 338,1382.1 343,1383.5 348,1384.7 353,1385.5 358,1385.9 363,1386.0 368,1385.6 373,1384.9 378,1383.8 383,1382.5 388,1381.0 393,1379.5 398,1377.9 403,1376.3 408,1374.9 413,1373.6 418,1372.5 423,1371.6 428,1370.8 433,1370.2 438,1369.8 443,1369.4 448,1369.1 453,1369.0 458,1368.8 463,1368.7 468,1368.6 473,1368.6 478,1368.5 483,1368.4 488,1368.3 493,1368.3 498,1368.2 503,1368.1 508,1368.0 513,1367.8 518,1367.7 523,1367.6 528,1367.4 533,1367.3 538,1367.1 543,1367.0 548,1366.8 553,1366.6 558,1366.5 563,1366.3 568,1366.0 573,1365.8 578,1365.6 583,1365.3 588,1365.0 593,1364.7 598,1364.5 603,1364.2 608,1363.9 613,1363.6 618,1363.3 623,1363.0 628,1362.7 633,1362.4 638,1362.1 642,1361.9 642,1370.1 638,1370.2 633,1370.5 628,1370.8 623,1371.0 618,1371.3 613,1371.6 608,1371.9 603,1372.1 598,1372.4 593,1372.7 588,1372.9 583,1373.2 578,1373.5 573,1373.7 568,1373.9 563,1374.1 558,1374.3 553,1374.5 548,1374.7 543,1374.8 538,1375.0 533,1375.2 528,1375.3 523,1375.5 518,1375.6 513,1375.7 508,1375.8 503,1376.0 498,1376.1 493,1376.1 488,1376.2 483,1376.3 478,1376.4 473,1376.5 468,1376.5 463,1376.6 458,1376.6 453,1376.7 448,1376.7 443,1376.8 438,1376.9 433,1377.0 428,1377.2 423,1377.5 418,1377.9 413,1378.3 408,1378.9 403,1379.7 398,1380.5 393,1381.5 388,1382.5 383,1383.5 378,1384.4 373,1385.2 368,1385.7 363,1386.0 358,1385.9 353,1385.6 348,1385.0 343,1384.1 338,1383.1 333,1382.0 328,1380.9 323,1379.9 318,1378.9 313,1378.1 308,1377.4 303,1376.8 298,1376.4 293,1376.0 288,1375.7 283,1375.4 278,1375.2 273,1375.0 268,1374.9 263,1374.7 258,1374.6 253,1374.4 248,1374.2 243,1374.0 238,1373.8 233,1373.6 228,1373.4 223,1373.2 218,1373.0 213,1372.8 208,1372.6 203,1372.3 198,1372.1 193,1371.9 188,1371.6 183,1371.4 178,1371.2 173,1371.0 168,1370.7 163,1370.5 158,1370.3 153,1370.1 148,1369.9 143,1369.7 138,1369.4 133,1369.2 128,1369.0 123,1368.8 118,1368.6 113,1368.4 108,1368.2 103,1368.0 98,1367.7 93,1367.5 88,1367.3 83,1367.2" fill="#c8c8c8" />
<polygon points="83,1367.2 88,1367.3 93,1367.5 98,1367.7 103,1368.0 108,1368.2 113,1368.4 118,1368.6 123,1368.8 128,1369.0 133,1369.2 138,1369.4 143,1369.7 148,1369.9 153,1370.1 158,1370.3 163,1370.5 168,1370.7 173,1371.0 178,1371.2 183,1371.4 188,1371.6 193,1371.9 198,1372.1 203,1372.3 208,1372.6 213,1372.8 218,1373.0 223,1373.2 228,1373.4 233,1373.6 238,1373.8 243,1374.0 248,1374.2 253,1374.4 258,1374.6 263,1374.7 268,1374.9 273,1375.0 278,1375.2 283,1375.4 288,1375.7 293,1376.0 298,1376.4 303,1376.8 308,1377.4 313,1378.1 318,1378.9 323,1379.9 328,1380.9 333,1382.0 338,1383.1 343,1384.1 348,1385.0 353,1385.6 358,1385.9 363,1386.0 368,1385.7 373,1385.2 378,1384.4 383,1383.5 388,1382.5 393,1381.5 398,1380.5 403,1379.7 408,1378.9 413,1378.3 418,1377.9 423,1377.5 428,1377.2 433,1377.0 438,1376.9 443,1376.8 448,1376.7 453,1376.7 458,1376.6 463,1376.6 468,1376.5 473,1376.5 478,1376.4 483,1376.3 488,1376.2 493,1376.1 498,1376.1 503,1376.0 508,1375.8 513,1375.7 518,1375.6 523,1375.5 528,1375.3 533,1375.2 538,1375.0 543,1374.8 548,1374.7 553,1374.5 558,1374.3 563,1374.1 568,1373.9 573,1373.7 578,1373.5 583,1373.2 588,1372.9 593,1372.7 598,1372.4 603,1372.1 608,1371.9 613,1371.6 618,1371.3 623,1371.0 628,1370.8 633,1370.5 638,1370.2 642,1370.1 642,1379.3 638,1379.5 633,1379.7 628,1380.0 623,1380.2 618,1380.5 613,1380.7 608,1381.0 603,1381.2 598,1381.5 593,1381.7 588,1381.9 583,1382.2 578,1382.4 573,1382.6 568,1382.9 563,1383.1 558,1383.2 553,1383.4 548,1383.6 543,1383.8 538,1383.9 533,1384.1 528,1384.3 523,1384.4 518,1384.5 513,1384.7 508,1384.8 503,1384.9 498,1385.0 493,1385.1 488,1385.2 483,1385.3 478,1385.4 473,1385.4 468,1385.5 463,1385.5 458,1385.5 453,1385.4 448,1385.4 443,1385.2 438,1385.1 433,1384.9 428,1384.6 423,1384.3 418,1384.1 413,1383.9 408,1383.7 403,1383.7 398,1383.7 393,1384.0 388,1384.3 383,1384.8 378,1385.3 373,1385.8 368,1386.1 363,1386.3 358,1386.2 353,1386.0 348,1385.5 343,1385.0 338,1384.4 333,1383.9 328,1383.4 323,1383.0 318,1382.8 313,1382.7 308,1382.7 303,1382.8 298,1382.9 293,1382.9 288,1383.0 283,1383.1 278,1383.1 273,1383.0 268,1382.9 263,1382.8 258,1382.7 253,1382.5 248,1382.3 243,1382.1 238,1381.9 233,1381.7 228,1381.4 223,1381.2 218,1381.0 213,1380.7 208,1380.5 203,1380.2 198,1379.9 193,1379.7 188,1379.4 183,1379.2 178,1378.9 173,1378.6 168,1378.4 163,1378.1 158,1377.9 153,1377.6 148,1377.4 143,1377.1 138,1376.9 133,1376.6 128,1376.4 123,1376.1 118,1375.9 113,1375.6 108,1375.4 103,1375.1 98,1374.9 93,1374.6 88,1374.4 83,1374.2" fill="#8c8c8c" />
<polygon points="83,1374.2 88,1374.4 93,1374.6 98,1374.9 103,1375.1 108,1375.4 113,1375.6 118,1375.9 123,1376.1 128,1376.4 133,1376.6 138,1376.9 143,1377.1 148,1377.4 153,1377.6 158,1377.9 163,1378.1 168,1378.4 173,1378.6 178,1378.9 183,1379.2 188,1379.4 193,1379.7 198,1379.9 203,1380.2 208,1380.5 213,1380.7 218,1381.0 223,1381.2 228,1381.4 233,1381.7 238,1381.9 243,1382.1 248,1382.3 253,1382.5 258,1382.7 263,1382.8 268,1382.9 273,1383.0 278,1383.1 283,1383.1 288,1383.0 293,1382.9 298,1382.9 303,1382.8 308,1382.7 313,1382.7 318,1382.8 323,1383.0 328,1383.4 333,1383.9 338,1384.4 343,1385.0 348,1385.5 353,1386.0 358,1386.2 363,1386.3 368,1386.1 373,1385.8 378,1385.3 383,1384.8 388,1384.3 393,1384.0 398,1383.7 403,1383.7 408,1383.7 413,1383.9 418,1384.1 423,1384.3 428,1384.6 433,1384.9 438,1385.1 443,1385.2 448,1385.4 453,1385.4 458,1385.5 463,1385.5 468,1385.5 473,1385.4 478,1385.4 483,1385.3 488,1385.2 493,1385.1 498,1385.0 503,1384.9 508,1384.8 513,1384.7 518,1384.5 523,1384.4 528,1384.3 533,1384.1 538,1383.9 543,1383.8 548,1383.6 553,1383.4 558,1383.2 563,1383.1 568,1382.9 573,1382.6 578,1382.4 583,1382.2 588,1381.9 593,1381.7 598,1381.5 603,1381.2 608,1381.0 613,1380.7 618,1380.5 623,1380.2 628,1380.0 633,1379.7 638,1379.5 642,1379.3 642,1384.2 638,1384.3 633,1384.5 628,1384.8 623,1385.0 618,1385.2 613,1385.5 608,1385.7 603,1385.9 598,1386.2 593,1386.4 588,1386.6 583,1386.9 578,1387.1 573,1387.3 568,1387.5 563,1387.7 558,1387.9 553,1388.1 548,1388.3 543,1388.4 538,1388.6 533,1388.8 528,1388.9 523,1389.1 518,1389.2 513,1389.3 508,1389.5 503,1389.6 498,1389.7 493,1389.8 488,1389.9 483,1390.0 478,1390.1 473,1390.1 468,1390.1 463,1390.2 458,1390.1 453,1390.1 448,1389.9 443,1389.7 438,1389.5 433,1389.1 428,1388.7 423,1388.3 418,1387.8 413,1387.3 408,1386.8 403,1386.5 398,1386.2 393,1386.2 388,1386.2 383,1386.5 378,1386.8 373,1387.1 368,1387.3 363,1387.4 358,1387.4 353,1387.2 348,1386.8 343,1386.4 338,1386.0 333,1385.7 328,1385.5 323,1385.4 318,1385.5 313,1385.7 308,1386.0 303,1386.3 298,1386.6 293,1386.8 288,1387.0 283,1387.2 278,1387.2 273,1387.2 268,1387.2 263,1387.1 258,1387.0 253,1386.8 248,1386.6 243,1386.4 238,1386.1 233,1385.9 228,1385.6 223,1385.4 218,1385.1 213,1384.8 208,1384.6 203,1384.3 198,1384.0 193,1383.8 188,1383.5 183,1383.2 178,1382.9 173,1382.7 168,1382.4 163,1382.1 158,1381.8 153,1381.6 148,1381.3 143,1381.0 138,1380.7 133,1380.5 128,1380.2 123,1379.9 118,1379.6 113,1379.4 108,1379.1 103,1378.8 98,1378.5 93,1378.3 88,1378.0 83,1377.8" fill="#5a5a5a" />
<polygon points="83,1377.8 88,1378.0 93,1378.3 98,1378.5 103,1378.8 108,1379.1 113,1379.4 118,1379.6 123,1379.9 128,1380.2 133,1380.5 138,1380.7 143,1381.0 148,1381.3 153,1381.6 158,1381.8 163,1382.1 168,1382.4 173,1382.7 178,1382.9 183,1383.2 188,1383.5 193,1383.8 198,1384.0 203,1384.3 208,1384.6 213,1384.8 218,1385.1 223,1385.4 228,1385.6 233,1385.9 238,1386.1 243,1386.4 248,1386.6 253,1386.8 258,1387.0 263,1387.1 268,1387.2 273,1387.2 278,1387.2 283,1387.2 288,1387.0 293,1386.8 298,1386.6 303,1386.3 308,1386.0 313,1385.7 318,1385.5 323,1385.4 328,1385.5 333,1385.7 338,1386.0 343,1386.4 348,1386.8 353,1387.2 358,1387.4 363,1387.4 368,1387.3 373,1387.1 378,1386.8 383,1386.5 388,1386.2 393,1386.2 398,1386.2 403,1386.5 408,1386.8 413,1387.3 418,1387.8 423,1388.3 428,1388.7 433,1389.1 438,1389.5 443,1389.7 448,1389.9 453,1390.1 458,1390.1 463,1390.2 468,1390.1 473,1390.1 478,1390.1 483,1390.0 488,1389.9 493,1389.8 498,1389.7 503,1389.6 508,1389.5 513,1389.3 518,1389.2 523,1389.1 528,1388.9 533,1388.8 538,1388.6 543,1388.4 548,1388.3 553,1388.1 558,1387.9 563,1387.7 568,1387.5 573,1387.3 578,1387.1 583,1386.9 588,1386.6 593,1386.4 598,1386.2 603,1385.9 608,1385.7 613,1385.5 618,1385.2 623,1385.0 628,1384.8 633,1384.5 638,1384.3 642,1384.2 642,1388.6 638,1388.7 633,1389.0 628,1389.2 623,1389.4 618,1389.6 613,1389.8 608,1390.1 603,1390.3 598,1390.5 593,1390.7 588,1391.0 583,1391.2 578,1391.4 573,1391.6 568,1391.8 563,1392.0 558,1392.2 553,1392.4 548,1392.5 543,1392.7 538,1392.9 533,1393.0 528,1393.2 523,1393.4 518,1393.5 513,1393.6 508,1393.8 503,1393.9 498,1394.0 493,1394.1 488,1394.2 483,1394.3 478,1394.4 473,1394.4 468,1394.5 463,1394.5 458,1394.5 453,1394.4 448,1394.2 443,1394.0 438,1393.7 433,1393.3 428,1392.8 423,1392.3 418,1391.7 413,1391.0 408,1390.4 403,1389.9 398,1389.4 393,1389.1 388,1389.0 383,1389.0 378,1389.2 373,1389.3 368,1389.5 363,1389.6 358,1389.5 353,1389.3 348,1389.1 343,1388.8 338,1388.6 333,1388.4 328,1388.4 323,1388.5 318,1388.8 313,1389.1 308,1389.5 303,1390.0 298,1390.4 293,1390.7 288,1391.0 283,1391.1 278,1391.2 273,1391.2 268,1391.2 263,1391.1 258,1390.9 253,1390.7 248,1390.5 243,1390.3 238,1390.0 233,1389.7 228,1389.5 223,1389.2 218,1388.9 213,1388.7 208,1388.4 203,1388.1 198,1387.8 193,1387.5 188,1387.2 183,1386.9 178,1386.6 173,1386.3 168,1386.1 163,1385.8 158,1385.5 153,1385.2 148,1384.9 143,1384.6 138,1384.3 133,1384.0 128,1383.7 123,1383.4 118,1383.1 113,1382.8 108,1382.5 103,1382.3 98,1382.0 93,1381.7 88,1381.4 83,1381.2" fill="#828282" />
<polygon points="83,1381.2 88,1381.4 93,1381.7 98,1382.0 103,1382.3 108,1382.5 113,1382.8 118,1383.1 123,1383.4 128,1383.7 133,1384.0 138,1384.3 143,1384.6 148,1384.9 153,1385.2 158,1385.5 163,1385.8 168,1386.1 173,1386.3 178,1386.6 183,1386.9 188,1387.2 193,1387.5 198,1387.8 203,1388.1 208,1388.4 213,1388.7 218,1388.9 223,1389.2 228,1389.5 233,1389.7 238,1390.0 243,1390.3 248,1390.5 253,1390.7 258,1390.9 263,1391.1 268,1391.2 273,1391.2 278,1391.2 283,1391.1 288,1391.0 293,1390.7 298,1390.4 303,1390.0 308,1389.5 313,1389.1 318,1388.8 323,1388.5 328,1388.4 333,1388.4 338,1388.6 343,1388.8 348,1389.1 353,1389.3 358,1389.5 363,1389.6 368,1389.5 373,1389.3 378,1389.2 383,1389.0 388,1389.0 393,1389.1 398,1389.4 403,1389.9 408,1390.4 413,1391.0 418,1391.7 423,1392.3 428,1392.8 433,1393.3 438,1393.7 443,1394.0 448,1394.2 453,1394.4 458,1394.5 463,1394.5 468,1394.5 473,1394.4 478,1394.4 483,1394.3 488,1394.2 493,1394.1 498,1394.0 503,1393.9 508,1393.8 513,1393.6 518,1393.5 523,1393.4 528,1393.2 533,1393.0 538,1392.9 543,1392.7 548,1392.5 553,1392.4 558,1392.2 563,1392.0 568,1391.8 573,1391.6 578,1391.4 583,1391.2 588,1391.0 593,1390.7 598,1390.5 603,1390.3 608,1390.1 613,1389.8 618,1389.6 623,1389.4 628,1389.2 633,1389.0 638,1388.7 642,1388.6 642,1399.0 638,1399.1 633,1399.3 628,1399.5 623,1399.7 618,1399.9 613,1400.1 608,1400.2 603,1400.4 598,1400.6 593,1400.8 588,1401.0 583,1401.2 578,1401.4 573,1401.6 568,1401.8 563,1402.0 558,1402.2 553,1402.4 548,1402.5 543,1402.7 538,1402.9 533,1403.1 528,1403.2 523,1403.4 518,1403.5 513,1403.7 508,1403.8 503,1403.9 498,1404.1 493,1404.2 488,1404.3 483,1404.4 478,1404.6 473,1404.7 468,1404.8 463,1404.9 458,1405.1 453,1405.2 448,1405.3 443,1405.4 438,1405.5 433,1405.6 428,1405.7 423,1405.8 418,1405.8 413,1405.9 408,1405.9 403,1406.0 398,1406.0 393,1406.0 388,1406.0 383,1406.0 378,1406.0 373,1405.9 368,1405.8 363,1405.8 358,1405.7 353,1405.5 348,1405.4 343,1405.2 338,1405.0 333,1404.8 328,1404.6 323,1404.4 318,1404.1 313,1403.8 308,1403.6 303,1403.3 298,1403.0 293,1402.7 288,1402.4 283,1402.1 278,1401.7 273,1401.4 268,1401.1 263,1400.8 258,1400.4 253,1400.1 248,1399.8 243,1399.4 238,1399.1 233,1398.8 228,1398.5 223,1398.2 218,1397.9 213,1397.6 208,1397.2 203,1396.9 198,1396.6 193,1396.3 188,1396.0 183,1395.6 178,1395.3 173,1395.0 168,1394.6 163,1394.3 158,1394.0 153,1393.6 148,1393.3 143,1393.0 138,1392.6 133,1392.3 128,1391.9 123,1391.6 118,1391.3 113,1390.9 108,1390.6 103,1390.3 98,1389.9 93,1389.6 88,1389.3 83,1389.0" fill="#484848" />
<polygon points="83,1361.0 88,1361.1 93,1361.3 98,1361.5 103,1361.7 108,1361.8 113,1362.0 118,1362.2 123,1362.4 128,1362.6 133,1362.7 138,1362.9 143,1363.1 148,1363.3 153,1363.4 158,1363.6 163,1363.8 168,1364.0 173,1364.2 178,1364.4 183,1364.6 188,1364.8 193,1365.0 198,1365.2 203,1365.4 208,1365.6 213,1365.8 218,1366.0 223,1366.2 228,1366.4 233,1366.6 238,1366.7 243,1366.9 248,1367.1 253,1367.2 258,1367.4 263,1367.6 268,1367.8 273,1368.0 278,1368.4 283,1368.8 288,1369.3 293,1369.9 298,1370.7 303,1371.7 308,1372.9 313,1374.2 318,1375.7 323,1377.3 328,1378.9 333,1380.6 338,1382.1 343,1383.5 348,1384.7 353,1385.5 358,1385.9 363,1386.0 368,1385.6 373,1384.9 378,1383.8 383,1382.5 388,1381.0 393,1379.5 398,1377.9 403,1376.3 408,1374.9 413,1373.6 418,1372.5 423,1371.6 428,1370.8 433,1370.2 438,1369.8 443,1369.4 448,1369.1 453,1369.0 458,1368.8 463,1368.7 468,1368.6 473,1368.6 478,1368.5 483,1368.4 488,1368.3 493,1368.3 498,1368.2 503,1368.1 508,1368.0 513,1367.8 518,1367.7 523,1367.6 528,1367.4 533,1367.3 538,1367.1 543,1367.0 548,1366.8 553,1366.6 558,1366.5 563,1366.3 568,1366.0 573,1365.8 578,1365.6 583,1365.3 588,1365.0 593,1364.7 598,1364.5 603,1364.2 608,1363.9 613,1363.6 618,1363.3 623,1363.0 628,1362.7 633,1362.4 638,1362.1 642,1361.9 642,1368.9 638,1369.1 633,1369.4 628,1369.7 623,1370.0 618,1370.3 613,1370.5 608,1370.6 603,1370.7 598,1370.8 593,1370.9 588,1370.9 583,1371.0 578,1371.1 573,1371.1 568,1371.2 563,1371.2 558,1371.2 553,1371.1 548,1371.1 543,1371.1 538,1371.1 533,1371.0 528,1371.0 523,1370.9 518,1370.8 513,1370.7 508,1370.7 503,1370.6 498,1370.5 493,1370.4 488,1370.3 483,1370.1 478,1370.0 473,1369.9 468,1369.7 463,1369.6 458,1369.5 453,1369.5 448,1369.5 443,1369.5 438,1369.8 433,1370.2 428,1370.8 423,1371.6 418,1372.5 413,1373.6 408,1374.9 403,1376.3 398,1377.9 393,1379.5 388,1381.0 383,1382.5 378,1383.8 373,1384.9 368,1385.6 363,1386.0 358,1385.9 353,1385.5 348,1384.7 343,1383.5 338,1382.1 333,1380.6 328,1378.9 323,1377.3 318,1375.7 313,1374.2 308,1372.9 303,1371.7 298,1370.7 293,1369.9 288,1369.3 283,1368.8 278,1368.4 273,1368.0 268,1367.8 263,1367.6 258,1367.4 253,1367.2 248,1367.1 243,1366.9 238,1366.7 233,1366.6 228,1366.4 223,1366.2 218,1366.0 213,1365.8 208,1365.6 203,1365.4 198,1365.2 193,1365.0 188,1364.8 183,1364.6 178,1364.4 173,1364.2 168,1364.0 163,1363.8 158,1363.6 153,1363.4 148,1363.3 143,1363.1 138,1362.9 133,1362.7 128,1362.6 123,1362.4 118,1362.2 113,1362.0 108,1361.8 103,1361.7 98,1361.5 93,1361.3 88,1361.1 83,1361.0" fill="#dedede" />
<polygon points="83,1389.0 88,1389.3 93,1389.6 98,1389.9 103,1390.3 108,1390.6 113,1390.9 118,1391.3 123,1391.6 128,1391.9 133,1392.3 138,1392.6 143,1393.0 148,1393.3 153,1393.6 158,1394.0 163,1394.3 168,1394.6 173,1395.0 178,1395.3 183,1395.6 188,1396.0 193,1396.3 198,1396.6 203,1396.9 208,1397.2 213,1397.6 218,1397.9 223,1398.2 228,1398.5 233,1398.8 238,1399.1 243,1399.4 248,1399.8 253,1400.1 258,1400.4 263,1400.8 268,1401.1 273,1401.4 278,1401.7 283,1402.1 288,1402.4 293,1402.7 298,1403.0 303,1403.3 308,1403.6 313,1403.8 318,1404.1 323,1404.4 328,1404.6 333,1404.8 338,1405.0 343,1405.2 348,1405.4 353,1405.5 358,1405.7 363,1405.8 368,1405.8 373,1405.9 378,1406.0 383,1406.0 388,1406.0 393,1406.0 398,1406.0 403,1406.0 408,1405.9 413,1405.9 418,1405.8 423,1405.8 428,1405.7 433,1405.6 438,1405.5 443,1405.4 448,1405.3 453,1405.2 458,1405.1 463,1404.9 468,1404.8 473,1404.7 478,1404.6 483,1404.4 488,1404.3 493,1404.2 498,1404.1 503,1403.9 508,1403.8 513,1403.7 518,1403.5 523,1403.4 528,1403.2 533,1403.1 538,1402.9 543,1402.7 548,1402.5 553,1402.4 558,1402.2 563,1402.0 568,1401.8 573,1401.6 578,1401.4 583,1401.2 588,1401.0 593,1400.8 598,1400.6 603,1400.4 608,1400.2 613,1400.1 618,1399.9 623,1399.7 628,1399.5 633,1399.3 638,1399.1 642,1399.0 642,1404.0 638,1404.1 633,1404.3 628,1404.5 623,1404.7 618,1404.9 613,1405.1 608,1405.2 603,1405.4 598,1405.6 593,1405.8 588,1406.0 583,1406.2 578,1406.4 573,1406.6 568,1406.8 563,1407.0 558,1407.2 553,1407.4 548,1407.5 543,1407.7 538,1407.9 533,1408.1 528,1408.2 523,1408.4 518,1408.5 513,1408.7 508,1408.8 503,1408.9 498,1409.1 493,1409.2 488,1409.3 483,1409.4 478,1409.6 473,1409.7 468,1409.8 463,1409.9 458,1410.1 453,1410.2 448,1410.3 443,1410.4 438,1410.5 433,1410.6 428,1410.7 423,1410.8 418,1410.8 413,1410.9 408,1410.9 403,1411.0 398,1411.0 393,1411.0 388,1411.0 383,1411.0 378,1411.0 373,1410.9 368,1410.8 363,1410.8 358,1410.7 353,1410.5 348,1410.4 343,1410.2 338,1410.0 333,1409.8 328,1409.6 323,1409.4 318,1409.1 313,1408.8 308,1408.6 303,1408.3 298,1408.0 293,1407.7 288,1407.4 283,1407.1 278,1406.7 273,1406.4 268,1406.1 263,1405.8 258,1405.4 253,1405.1 248,1404.8 243,1404.4 238,1404.1 233,1403.8 228,1403.5 223,1403.2 218,1402.9 213,1402.6 208,1402.2 203,1401.9 198,1401.6 193,1401.3 188,1401.0 183,1400.6 178,1400.3 173,1400.0 168,1399.6 163,1399.3 158,1399.0 153,1398.6 148,1398.3 143,1398.0 138,1397.6 133,1397.3 128,1396.9 123,1396.6 118,1396.3 113,1395.9 108,1395.6 103,1395.3 98,1394.9 93,1394.6 88,1394.3 83,1394.0" fill="#e8e8e8" />
<polygon points="83,1394.0 88,1394.3 93,1394.6 98,1394.9 103,1395.3 108,1395.6 113,1395.9 118,1396.3 123,1396.6 128,1396.9 133,1397.3 138,1397.6 143,1398.0 148,1398.3 153,1398.6 158,1399.0 163,1399.3 168,1399.6 173,1400.0 178,1400.3 183,1400.6 188,1401.0 193,1401.3 198,1401.6 203,1401.9 208,1402.2 213,1402.6 218,1402.9 223,1403.2 228,1403.5 233,1403.8 238,1404.1 243,1404.4 248,1404.8 253,1405.1 258,1405.4 263,1405.8 268,1406.1 273,1406.4 278,1406.7 283,1407.1 288,1407.4 293,1407.7 298,1408.0 303,1408.3 308,1408.6 313,1408.8 318,1409.1 323,1409.4 328,1409.6 333,1409.8 338,1410.0 343,1410.2 348,1410.4 353,1410.5 358,1410.7 363,1410.8 368,1410.8 373,1410.9 378,1411.0 383,1411.0 388,1411.0 393,1411.0 398,1411.0 403,1411.0 408,1410.9 413,1410.9 418,1410.8 423,1410.8 428,1410.7 433,1410.6 438,1410.5 443,1410.4 448,1410.3 453,1410.2 458,1410.1 463,1409.9 468,1409.8 473,1409.7 478,1409.6 483,1409.4 488,1409.3 493,1409.2 498,1409.1 503,1408.9 508,1408.8 513,1408.7 518,1408.5 523,1408.4 528,1408.2 533,1408.1 538,1407.9 543,1407.7 548,1407.5 553,1407.4 558,1407.2 563,1407.0 568,1406.8 573,1406.6 578,1406.4 583,1406.2 588,1406.0 593,1405.8 598,1405.6 603,1405.4 608,1405.2 613,1405.1 618,1404.9 623,1404.7 628,1404.5 633,1404.3 638,1404.1 642,1404.0 642,1405.5 638,1405.6 633,1405.8 628,1406.0 623,1406.2 618,1406.4 613,1406.6 608,1406.7 603,1406.9 598,1407.1 593,1407.3 588,1407.5 583,1407.7 578,1407.9 573,1408.1 568,1408.3 563,1408.5 558,1408.7 553,1408.9 548,1409.0 543,1409.2 538,1409.4 533,1409.6 528,1409.7 523,1409.9 518,1410.0 513,1410.2 508,1410.3 503,1410.4 498,1410.6 493,1410.7 488,1410.8 483,1410.9 478,1411.1 473,1411.2 468,1411.3 463,1411.4 458,1411.6 453,1411.7 448,1411.8 443,1411.9 438,1412.0 433,1412.1 428,1412.2 423,1412.3 418,1412.3 413,1412.4 408,1412.4 403,1412.5 398,1412.5 393,1412.5 388,1412.5 383,1412.5 378,1412.5 373,1412.4 368,1412.3 363,1412.3 358,1412.2 353,1412.0 348,1411.9 343,1411.7 338,1411.5 333,1411.3 328,1411.1 323,1410.9 318,1410.6 313,1410.3 308,1410.1 303,1409.8 298,1409.5 293,1409.2 288,1408.9 283,1408.6 278,1408.2 273,1407.9 268,1407.6 263,1407.3 258,1406.9 253,1406.6 248,1406.3 243,1405.9 238,1405.6 233,1405.3 228,1405.0 223,1404.7 218,1404.4 213,1404.1 208,1403.7 203,1403.4 198,1403.1 193,1402.8 188,1402.5 183,1402.1 178,1401.8 173,1401.5 168,1401.1 163,1400.8 158,1400.5 153,1400.1 148,1399.8 143,1399.5 138,1399.1 133,1398.8 128,1398.4 123,1398.1 118,1397.8 113,1397.4 108,1397.1 103,1396.8 98,1396.4 93,1396.1 88,1395.8 83,1395.5" fill="#b0b0b0" />
<polygon points="83,1395.5 88,1395.8 93,1396.1 98,1396.4 103,1396.8 108,1397.1 113,1397.4 118,1397.8 123,1398.1 128,1398.4 133,1398.8 138,1399.1 143,1399.5 148,1399.8 153,1400.1 158,1400.5 163,1400.8 168,1401.1 173,1401.5 178,1401.8 183,1402.1 188,1402.5 193,1402.8 198,1403.1 203,1403.4 208,1403.7 213,1404.1 218,1404.4 223,1404.7 228,1405.0 233,1405.3 238,1405.6 243,1405.9 248,1406.3 253,1406.6 258,1406.9 263,1407.3 268,1407.6 273,1407.9 278,1408.2 283,1408.6 288,1408.9 293,1409.2 298,1409.5 303,1409.8 308,1410.1 313,1410.3 318,1410.6 323,1410.9 328,1411.1 333,1411.3 338,1411.5 343,1411.7 348,1411.9 353,1412.0 358,1412.2 363,1412.3 368,1412.3 373,1412.4 378,1412.5 383,1412.5 388,1412.5 393,1412.5 398,1412.5 403,1412.5 408,1412.4 413,1412.4 418,1412.3 423,1412.3 428,1412.2 433,1412.1 438,1412.0 443,1411.9 448,1411.8 453,1411.7 458,1411.6 463,1411.4 468,1411.3 473,1411.2 478,1411.1 483,1410.9 488,1410.8 493,1410.7 498,1410.6 503,1410.4 508,1410.3 513,1410.2 518,1410.0 523,1409.9 528,1409.7 533,1409.6 538,1409.4 543,1409.2 548,1409.0 553,1408.9 558,1408.7 563,1408.5 568,1408.3 573,1408.1 578,1407.9 583,1407.7 588,1407.5 593,1407.3 598,1407.1 603,1406.9 608,1406.7 613,1406.6 618,1406.4 623,1406.2 628,1406.0 633,1405.8 638,1405.6 642,1405.5 642,1410.5 638,1410.6 633,1410.8 628,1411.0 623,1411.2 618,1411.4 613,1411.6 608,1411.7 603,1411.9 598,1412.1 593,1412.3 588,1412.5 583,1412.7 578,1412.9 573,1413.1 568,1413.3 563,1413.5 558,1413.7 553,1413.9 548,1414.0 543,1414.2 538,1414.4 533,1414.6 528,1414.7 523,1414.9 518,1415.0 513,1415.2 508,1415.3 503,1415.4 498,1415.6 493,1415.7 488,1415.8 483,1415.9 478,1416.1 473,1416.2 468,1416.3 463,1416.4 458,1416.6 453,1416.7 448,1416.8 443,1416.9 438,1417.0 433,1417.1 428,1417.2 423,1417.3 418,1417.3 413,1417.4 408,1417.4 403,1417.5 398,1417.5 393,1417.5 388,1417.5 383,1417.5 378,1417.5 373,1417.4 368,1417.3 363,1417.3 358,1417.2 353,1417.0 348,1416.9 343,1416.7 338,1416.5 333,1416.3 328,1416.1 323,1415.9 318,1415.6 313,1415.3 308,1415.1 303,1414.8 298,1414.5 293,1414.2 288,1413.9 283,1413.6 278,1413.2 273,1412.9 268,1412.6 263,1412.3 258,1411.9 253,1411.6 248,1411.3 243,1410.9 238,1410.6 233,1410.3 228,1410.0 223,1409.7 218,1409.4 213,1409.1 208,1408.7 203,1408.4 198,1408.1 193,1407.8 188,1407.5 183,1407.1 178,1406.8 173,1406.5 168,1406.1 163,1405.8 158,1405.5 153,1405.1 148,1404.8 143,1404.5 138,1404.1 133,1403.8 128,1403.4 123,1403.1 118,1402.8 113,1402.4 108,1402.1 103,1401.8 98,1401.4 93,1401.1 88,1400.8 83,1400.5" fill="#f4f4f4" />
<polygon points="83,1400.5 88,1400.8 93,1401.1 98,1401.4 103,1401.8 108,1402.1 113,1402.4 118,1402.8 123,1403.1 128,1403.4 133,1403.8 138,1404.1 143,1404.5 148,1404.8 153,1405.1 158,1405.5 163,1405.8 168,1406.1 173,1406.5 178,1406.8 183,1407.1 188,1407.5 193,1407.8 198,1408.1 203,1408.4 208,1408.7 213,1409.1 218,1409.4 223,1409.7 228,1410.0 233,1410.3 238,1410.6 243,1410.9 248,1411.3 253,1411.6 258,1411.9 263,1412.3 268,1412.6 273,1412.9 278,1413.2 283,1413.6 288,1413.9 293,1414.2 298,1414.5 303,1414.8 308,1415.1 313,1415.3 318,1415.6 323,1415.9 328,1416.1 333,1416.3 338,1416.5 343,1416.7 348,1416.9 353,1417.0 358,1417.2 363,1417.3 368,1417.3 373,1417.4 378,1417.5 383,1417.5 388,1417.5 393,1417.5 398,1417.5 403,1417.5 408,1417.4 413,1417.4 418,1417.3 423,1417.3 428,1417.2 433,1417.1 438,1417.0 443,1416.9 448,1416.8 453,1416.7 458,1416.6 463,1416.4 468,1416.3 473,1416.2 478,1416.1 483,1415.9 488,1415.8 493,1415.7 498,1415.6 503,1415.4 508,1415.3 513,1415.2 518,1415.0 523,1414.9 528,1414.7 533,1414.6 538,1414.4 543,1414.2 548,1414.0 553,1413.9 558,1413.7 563,1413.5 568,1413.3 573,1413.1 578,1412.9 583,1412.7 588,1412.5 593,1412.3 598,1412.1 603,1411.9 608,1411.7 613,1411.6 618,1411.4 623,1411.2 628,1411.0 633,1410.8 638,1410.6 642,1410.5 642,1412.0 638,1412.1 633,1412.3 628,1412.5 623,1412.7 618,1412.9 613,1413.1 608,1413.2 603,1413.4 598,1413.6 593,1413.8 588,1414.0 583,1414.2 578,1414.4 573,1414.6 568,1414.8 563,1415.0 558,1415.2 553,1415.4 548,1415.5 543,1415.7 538,1415.9 533,1416.1 528,1416.2 523,1416.4 518,1416.5 513,1416.7 508,1416.8 503,1416.9 498,1417.1 493,1417.2 488,1417.3 483,1417.4 478,1417.6 473,1417.7 468,1417.8 463,1417.9 458,1418.1 453,1418.2 448,1418.3 443,1418.4 438,1418.5 433,1418.6 428,1418.7 423,1418.8 418,1418.8 413,1418.9 408,1418.9 403,1419.0 398,1419.0 393,1419.0 388,1419.0 383,1419.0 378,1419.0 373,1418.9 368,1418.8 363,1418.8 358,1418.7 353,1418.5 348,1418.4 343,1418.2 338,1418.0 333,1417.8 328,1417.6 323,1417.4 318,1417.1 313,1416.8 308,1416.6 303,1416.3 298,1416.0 293,1415.7 288,1415.4 283,1415.1 278,1414.7 273,1414.4 268,1414.1 263,1413.8 258,1413.4 253,1413.1 248,1412.8 243,1412.4 238,1412.1 233,1411.8 228,1411.5 223,1411.2 218,1410.9 213,1410.6 208,1410.2 203,1409.9 198,1409.6 193,1409.3 188,1409.0 183,1408.6 178,1408.3 173,1408.0 168,1407.6 163,1407.3 158,1407.0 153,1406.6 148,1406.3 143,1406.0 138,1405.6 133,1405.3 128,1404.9 123,1404.6 118,1404.3 113,1403.9 108,1403.6 103,1403.3 98,1402.9 93,1402.6 88,1402.3 83,1402.0" fill="#8a8a8a" />
<polygon points="83,1402.0 88,1402.3 93,1402.6 98,1402.9 103,1403.3 108,1403.6 113,1403.9 118,1404.3 123,1404.6 128,1404.9 133,1405.3 138,1405.6 143,1406.0 148,1406.3 153,1406.6 158,1407.0 163,1407.3 168,1407.6 173,1408.0 178,1408.3 183,1408.6 188,1409.0 193,1409.3 198,1409.6 203,1409.9 208,1410.2 213,1410.6 218,1410.9 223,1411.2 228,1411.5 233,1411.8 238,1412.1 243,1412.4 248,1412.8 253,1413.1 258,1413.4 263,1413.8 268,1414.1 273,1414.4 278,1414.7 283,1415.1 288,1415.4 293,1415.7 298,1416.0 303,1416.3 308,1416.6 313,1416.8 318,1417.1 323,1417.4 328,1417.6 333,1417.8 338,1418.0 343,1418.2 348,1418.4 353,1418.5 358,1418.7 363,1418.8 368,1418.8 373,1418.9 378,1419.0 383,1419.0 388,1419.0 393,1419.0 398,1419.0 403,1419.0 408,1418.9 413,1418.9 418,1418.8 423,1418.8 428,1418.7 433,1418.6 438,1418.5 443,1418.4 448,1418.3 453,1418.2 458,1418.1 463,1417.9 468,1417.8 473,1417.7 478,1417.6 483,1417.4 488,1417.3 493,1417.2 498,1417.1 503,1416.9 508,1416.8 513,1416.7 518,1416.5 523,1416.4 528,1416.2 533,1416.1 538,1415.9 543,1415.7 548,1415.5 553,1415.4 558,1415.2 563,1415.0 568,1414.8 573,1414.6 578,1414.4 583,1414.2 588,1414.0 593,1413.8 598,1413.6 603,1413.4 608,1413.2 613,1413.1 618,1412.9 623,1412.7 628,1412.5 633,1412.3 638,1412.1 642,1412.0 642,1418.0 638,1418.1 633,1418.3 628,1418.5 623,1418.7 618,1418.9 613,1419.1 608,1419.2 603,1419.4 598,1419.6 593,1419.8 588,1420.0 583,1420.2 578,1420.4 573,1420.6 568,1420.8 563,1421.0 558,1421.2 553,1421.4 548,1421.5 543,1421.7 538,1421.9 533,1422.1 528,1422.2 523,1422.4 518,1422.5 513,1422.7 508,1422.8 503,1422.9 498,1423.1 493,1423.2 488,1423.3 483,1423.4 478,1423.6 473,1423.7 468,1423.8 463,1423.9 458,1424.1 453,1424.2 448,1424.3 443,1424.4 438,1424.5 433,1424.6 428,1424.7 423,1424.8 418,1424.8 413,1424.9 408,1424.9 403,1425.0 398,1425.0 393,1425.0 388,1425.0 383,1425.0 378,1425.0 373,1424.9 368,1424.8 363,1424.8 358,1424.7 353,1424.5 348,1424.4 343,1424.2 338,1424.0 333,1423.8 328,1423.6 323,1423.4 318,1423.1 313,1422.8 308,1422.6 303,1422.3 298,1422.0 293,1421.7 288,1421.4 283,1421.1 278,1420.7 273,1420.4 268,1420.1 263,1419.8 258,1419.4 253,1419.1 248,1418.8 243,1418.4 238,1418.1 233,1417.8 228,1417.5 223,1417.2 218,1416.9 213,1416.6 208,1416.2 203,1415.9 198,1415.6 193,1415.3 188,1415.0 183,1414.6 178,1414.3 173,1414.0 168,1413.6 163,1413.3 158,1413.0 153,1412.6 148,1412.3 143,1412.0 138,1411.6 133,1411.3 128,1410.9 123,1410.6 118,1410.3 113,1409.9 108,1409.6 103,1409.3 98,1408.9 93,1408.6 88,1408.3 83,1408.0" fill="#c2c2c2" />
</g>
<ellipse cx="360.5" cy="1386.80287097447" rx="4.5" ry="1.4" fill="#fff" filter="url(#ob)"/>
<polygon points="83,1282.5 88,1282.5 93,1282.5 98,1282.5 103,1282.5 108,1282.5 113,1282.5 118,1282.5 123,1282.5 128,1282.5 133,1282.5 138,1282.5 143,1282.5 148,1282.5 153,1282.5 158,1282.5 163,1282.5 168,1282.5 173,1282.5 178,1282.5 183,1282.5 188,1282.5 193,1282.5 198,1282.5 203,1282.5 208,1282.5 213,1282.5 218,1282.5 223,1282.5 228,1282.5 233,1282.5 238,1282.5 243,1282.5 248,1282.5 253,1282.5 258,1282.5 263,1282.5 268,1282.5 273,1282.5 278,1282.5 283,1282.5 288,1282.5 293,1282.5 298,1282.5 303,1282.5 308,1282.5 313,1282.5 318,1282.5 323,1282.5 328,1282.5 333,1282.5 338,1282.5 343,1282.5 348,1282.5 353,1282.5 358,1282.5 363,1282.5 368,1282.5 373,1282.5 378,1282.5 383,1282.5 388,1282.5 393,1282.5 398,1282.5 403,1282.5 408,1282.5 413,1282.5 418,1282.5 423,1282.5 428,1282.5 433,1282.5 438,1282.5 443,1282.5 448,1282.5 453,1282.5 458,1282.5 463,1282.5 468,1282.5 473,1282.5 478,1282.5 483,1282.5 488,1282.5 493,1282.5 498,1282.5 503,1282.5 508,1282.5 513,1282.5 518,1282.5 523,1282.5 528,1282.5 533,1282.5 538,1282.5 543,1282.5 548,1282.5 553,1282.5 558,1282.5 563,1282.5 568,1282.5 573,1282.5 578,1282.5 583,1282.5 588,1282.5 593,1282.5 598,1282.5 603,1282.5 608,1282.5 613,1282.5 618,1282.5 623,1282.5 628,1282.5 633,1282.5 638,1282.5 642,1282.5 642,1288.4 638,1288.0 633,1287.4 628,1286.7 623,1286.1 618,1285.5 613,1285.0 608,1284.8 603,1284.7 598,1285.1 593,1285.9 588,1287.1 583,1288.5 578,1289.8 573,1291.0 568,1291.8 563,1292.1 558,1292.0 553,1291.7 548,1291.3 543,1290.7 538,1290.1 533,1289.5 528,1288.9 523,1288.5 518,1288.2 513,1288.0 508,1287.8 503,1287.6 498,1287.5 493,1287.4 488,1287.4 483,1287.4 478,1287.5 473,1287.6 468,1288.0 463,1288.4 458,1288.9 453,1289.5 448,1290.0 443,1290.4 438,1290.6 433,1290.6 428,1290.3 423,1289.8 418,1289.0 413,1288.1 408,1287.1 403,1286.2 398,1285.5 393,1285.0 388,1284.8 383,1285.0 378,1285.5 373,1286.3 368,1287.2 363,1288.3 358,1289.4 353,1290.4 348,1291.2 343,1291.9 338,1292.4 333,1292.7 328,1292.9 323,1293.0 318,1293.1 313,1293.2 308,1293.3 303,1293.5 298,1293.7 293,1294.2 288,1294.7 283,1295.3 278,1295.9 273,1296.5 268,1297.0 263,1297.3 258,1297.4 253,1297.3 248,1297.1 243,1296.8 238,1296.6 233,1296.4 228,1296.4 223,1296.4 218,1296.3 213,1296.3 208,1296.3 203,1296.4 198,1296.5 193,1296.8 188,1297.1 183,1297.8 178,1298.9 173,1300.3 168,1301.8 163,1303.2 158,1304.4 153,1305.1 148,1305.4 143,1304.9 138,1304.1 133,1303.1 128,1302.3 123,1301.7 118,1301.8 113,1302.2 108,1302.8 103,1303.6 98,1304.5 93,1305.4 88,1306.2 83,1307.0" fill="#000" filter="url(#ob15)"/>
</g>
<rect x="81.05" y="1280.75" width="562.8000000000001" height="283.0999999999999" fill="none" stroke="#e6a21e" stroke-width="3.5"/>
<g clip-path="url(#co3)">
<g filter="url(#vstreak)">
<rect x="659.5" y="1282.5" width="539.0" height="279.5999999999999" fill="#222"/>
<polygon points="660,1437.1 664,1437.4 670,1437.6 674,1437.9 680,1438.2 684,1438.5 690,1438.8 694,1439.1 700,1439.4 704,1439.7 710,1440.0 714,1440.3 720,1440.6 724,1440.8 730,1441.1 734,1441.4 740,1441.7 744,1442.0 750,1442.3 754,1442.6 760,1442.9 764,1443.1 770,1443.4 774,1443.7 780,1443.9 784,1444.2 790,1444.5 794,1444.7 800,1445.0 804,1445.2 810,1445.5 814,1445.7 820,1446.0 824,1446.2 830,1446.5 834,1446.7 840,1447.0 844,1447.3 850,1447.5 854,1447.8 860,1448.0 864,1448.3 870,1448.5 874,1448.8 880,1449.0 884,1449.2 890,1449.4 894,1449.6 900,1449.8 904,1450.0 910,1450.2 914,1450.4 920,1450.5 924,1450.6 930,1450.7 934,1450.8 940,1450.9 944,1451.0 950,1451.0 954,1451.0 960,1451.0 964,1451.0 970,1451.0 974,1450.9 980,1450.9 984,1450.8 990,1450.7 994,1450.6 1000,1450.4 1004,1450.3 1010,1450.1 1014,1450.0 1020,1449.8 1024,1449.6 1030,1449.4 1034,1449.2 1040,1449.0 1044,1448.8 1050,1448.5 1054,1448.3 1060,1448.0 1064,1447.8 1070,1447.5 1074,1447.3 1080,1447.0 1084,1446.7 1090,1446.4 1094,1446.1 1100,1445.7 1104,1445.3 1110,1444.9 1114,1444.5 1120,1444.1 1124,1443.7 1130,1443.3 1134,1442.8 1140,1442.4 1144,1441.9 1150,1441.5 1154,1441.0 1160,1440.5 1164,1440.1 1170,1439.6 1174,1439.2 1180,1438.7 1184,1438.3 1190,1437.8 1194,1437.4 1198,1437.1 1198,1572.1 1194,1572.1 1190,1572.1 1184,1572.1 1180,1572.1 1174,1572.1 1170,1572.1 1164,1572.1 1160,1572.1 1154,1572.1 1150,1572.1 1144,1572.1 1140,1572.1 1134,1572.1 1130,1572.1 1124,1572.1 1120,1572.1 1114,1572.1 1110,1572.1 1104,1572.1 1100,1572.1 1094,1572.1 1090,1572.1 1084,1572.1 1080,1572.1 1074,1572.1 1070,1572.1 1064,1572.1 1060,1572.1 1054,1572.1 1050,1572.1 1044,1572.1 1040,1572.1 1034,1572.1 1030,1572.1 1024,1572.1 1020,1572.1 1014,1572.1 1010,1572.1 1004,1572.1 1000,1572.1 994,1572.1 990,1572.1 984,1572.1 980,1572.1 974,1572.1 970,1572.1 964,1572.1 960,1572.1 954,1572.1 950,1572.1 944,1572.1 940,1572.1 934,1572.1 930,1572.1 924,1572.1 920,1572.1 914,1572.1 910,1572.1 904,1572.1 900,1572.1 894,1572.1 890,1572.1 884,1572.1 880,1572.1 874,1572.1 870,1572.1 864,1572.1 860,1572.1 854,1572.1 850,1572.1 844,1572.1 840,1572.1 834,1572.1 830,1572.1 824,1572.1 820,1572.1 814,1572.1 810,1572.1 804,1572.1 800,1572.1 794,1572.1 790,1572.1 784,1572.1 780,1572.1 774,1572.1 770,1572.1 764,1572.1 760,1572.1 754,1572.1 750,1572.1 744,1572.1 740,1572.1 734,1572.1 730,1572.1 724,1572.1 720,1572.1 714,1572.1 710,1572.1 704,1572.1 700,1572.1 694,1572.1 690,1572.1 684,1572.1 680,1572.1 674,1572.1 670,1572.1 664,1572.1 660,1572.1" fill="url(#chfade2)" filter="url(#ob4)"/>
</g>
<g filter="url(#ob4)">
<polygon points="660,1433.1 664,1433.4 670,1433.6 674,1433.9 680,1434.2 684,1434.5 690,1434.8 694,1435.1 700,1435.4 704,1435.7 710,1436.0 714,1436.3 720,1436.6 724,1436.8 730,1437.1 734,1437.4 740,1437.7 744,1438.0 750,1438.3 754,1438.6 760,1438.9 764,1439.1 770,1439.4 774,1439.7 780,1439.9 784,1440.2 790,1440.5 794,1440.7 800,1441.0 804,1441.2 810,1441.5 814,1441.7 820,1442.0 824,1442.2 830,1442.5 834,1442.7 840,1443.0 844,1443.3 850,1443.5 854,1443.8 860,1444.0 864,1444.3 870,1444.5 874,1444.8 880,1445.0 884,1445.2 890,1445.4 894,1445.6 900,1445.8 904,1446.0 910,1446.2 914,1446.4 920,1446.5 924,1446.6 930,1446.7 934,1446.8 940,1446.9 944,1447.0 950,1447.0 954,1447.0 960,1447.0 964,1447.0 970,1447.0 974,1446.9 980,1446.9 984,1446.8 990,1446.7 994,1446.6 1000,1446.4 1004,1446.3 1010,1446.1 1014,1446.0 1020,1445.8 1024,1445.6 1030,1445.4 1034,1445.2 1040,1445.0 1044,1444.8 1050,1444.5 1054,1444.3 1060,1444.0 1064,1443.8 1070,1443.5 1074,1443.3 1080,1443.0 1084,1442.7 1090,1442.4 1094,1442.1 1100,1441.7 1104,1441.3 1110,1440.9 1114,1440.5 1120,1440.1 1124,1439.7 1130,1439.3 1134,1438.8 1140,1438.4 1144,1437.9 1150,1437.5 1154,1437.0 1160,1436.5 1164,1436.1 1170,1435.6 1174,1435.2 1180,1434.7 1184,1434.3 1190,1433.8 1194,1433.4 1198,1433.1 1198,1467.1 1194,1467.4 1190,1467.8 1184,1468.3 1180,1468.7 1174,1469.2 1170,1469.6 1164,1470.1 1160,1470.5 1154,1471.0 1150,1471.5 1144,1471.9 1140,1472.4 1134,1472.8 1130,1473.3 1124,1473.7 1120,1474.1 1114,1474.5 1110,1474.9 1104,1475.3 1100,1475.7 1094,1476.1 1090,1476.4 1084,1476.7 1080,1477.0 1074,1477.3 1070,1477.5 1064,1477.8 1060,1478.0 1054,1478.3 1050,1478.5 1044,1478.8 1040,1479.0 1034,1479.2 1030,1479.4 1024,1479.6 1020,1479.8 1014,1480.0 1010,1480.1 1004,1480.3 1000,1480.4 994,1480.6 990,1480.7 984,1480.8 980,1480.9 974,1480.9 970,1481.0 964,1481.0 960,1481.0 954,1481.0 950,1481.0 944,1481.0 940,1480.9 934,1480.8 930,1480.7 924,1480.6 920,1480.5 914,1480.4 910,1480.2 904,1480.0 900,1479.8 894,1479.6 890,1479.4 884,1479.2 880,1479.0 874,1478.8 870,1478.5 864,1478.3 860,1478.0 854,1477.8 850,1477.5 844,1477.3 840,1477.0 834,1476.7 830,1476.5 824,1476.2 820,1476.0 814,1475.7 810,1475.5 804,1475.2 800,1475.0 794,1474.7 790,1474.5 784,1474.2 780,1473.9 774,1473.7 770,1473.4 764,1473.1 760,1472.9 754,1472.6 750,1472.3 744,1472.0 740,1471.7 734,1471.4 730,1471.1 724,1470.8 720,1470.6 714,1470.3 710,1470.0 704,1469.7 700,1469.4 694,1469.1 690,1468.8 684,1468.5 680,1468.2 674,1467.9 670,1467.6 664,1467.4 660,1467.1" fill="#626262" />
</g>
<g filter="url(#ob15)">
<ellipse cx="656" cy="1452" rx="8.6" ry="3.9" fill="#2e2e2e" opacity="0.74"/>
<ellipse cx="655" cy="1443" rx="3.8" ry="3.8" fill="#a0a0a0" opacity="0.7"/>
<ellipse cx="674" cy="1457" rx="7.6" ry="3.7" fill="#2e2e2e" opacity="0.76"/>
<ellipse cx="674" cy="1443" rx="5.8" ry="2.5" fill="#a0a0a0" opacity="0.7"/>
<ellipse cx="681" cy="1441" rx="3.5" ry="2.9" fill="#a0a0a0" opacity="0.7"/>
<ellipse cx="690" cy="1451" rx="5.9" ry="3.5" fill="#2e2e2e" opacity="0.67"/>
<ellipse cx="695" cy="1446" rx="3.0" ry="2.5" fill="#a0a0a0" opacity="0.7"/>
<ellipse cx="701" cy="1458" rx="6.2" ry="5.2" fill="#2e2e2e" opacity="0.67"/>
<ellipse cx="694" cy="1444" rx="3.3" ry="2.7" fill="#a0a0a0" opacity="0.7"/>
<ellipse cx="700" cy="1448" rx="3.8" ry="2.0" fill="#a0a0a0" opacity="0.7"/>
<ellipse cx="714" cy="1453" rx="8.6" ry="6.0" fill="#2e2e2e" opacity="0.71"/>
<ellipse cx="708" cy="1445" rx="3.3" ry="2.9" fill="#a0a0a0" opacity="0.7"/>
<ellipse cx="727" cy="1454" rx="8.8" ry="5.0" fill="#2e2e2e" opacity="0.69"/>
<ellipse cx="731" cy="1448" rx="5.3" ry="3.9" fill="#a0a0a0" opacity="0.7"/>
<ellipse cx="726" cy="1445" rx="3.0" ry="2.7" fill="#a0a0a0" opacity="0.7"/>
<ellipse cx="743" cy="1453" rx="8.3" ry="5.2" fill="#2e2e2e" opacity="0.76"/>
<ellipse cx="747" cy="1450" rx="4.6" ry="3.3" fill="#a0a0a0" opacity="0.7"/>
<ellipse cx="740" cy="1449" rx="5.2" ry="3.1" fill="#a0a0a0" opacity="0.7"/>
<ellipse cx="761" cy="1454" rx="8.1" ry="5.6" fill="#2e2e2e" opacity="0.89"/>
<ellipse cx="757" cy="1445" rx="3.1" ry="3.4" fill="#a0a0a0" opacity="0.7"/>
<ellipse cx="756" cy="1446" rx="5.1" ry="2.6" fill="#a0a0a0" opacity="0.7"/>
<ellipse cx="774" cy="1454" rx="8.0" ry="4.3" fill="#2e2e2e" opacity="0.76"/>
<ellipse cx="767" cy="1450" rx="3.1" ry="3.7" fill="#a0a0a0" opacity="0.7"/>
<ellipse cx="771" cy="1447" rx="2.8" ry="2.1" fill="#a0a0a0" opacity="0.7"/>
<ellipse cx="788" cy="1455" rx="6.5" ry="4.0" fill="#2e2e2e" opacity="0.73"/>
<ellipse cx="790" cy="1453" rx="3.5" ry="2.7" fill="#a0a0a0" opacity="0.7"/>
<ellipse cx="800" cy="1456" rx="5.2" ry="3.6" fill="#2e2e2e" opacity="0.87"/>
<ellipse cx="805" cy="1447" rx="5.1" ry="2.5" fill="#a0a0a0" opacity="0.7"/>
<ellipse cx="803" cy="1454" rx="5.9" ry="3.6" fill="#a0a0a0" opacity="0.7"/>
<ellipse cx="808" cy="1458" rx="7.2" ry="5.7" fill="#2e2e2e" opacity="0.77"/>
<ellipse cx="810" cy="1452" rx="4.9" ry="2.4" fill="#a0a0a0" opacity="0.7"/>
<ellipse cx="804" cy="1450" rx="2.7" ry="3.5" fill="#a0a0a0" opacity="0.7"/>
<ellipse cx="822" cy="1465" rx="7.5" ry="5.0" fill="#2e2e2e" opacity="0.74"/>
<ellipse cx="827" cy="1452" rx="4.4" ry="2.9" fill="#a0a0a0" opacity="0.7"/>
<ellipse cx="819" cy="1450" rx="5.3" ry="2.8" fill="#a0a0a0" opacity="0.7"/>
<ellipse cx="834" cy="1460" rx="4.7" ry="6.0" fill="#2e2e2e" opacity="0.72"/>
<ellipse cx="837" cy="1451" rx="3.6" ry="2.7" fill="#a0a0a0" opacity="0.7"/>
<ellipse cx="833" cy="1450" rx="3.5" ry="3.6" fill="#a0a0a0" opacity="0.7"/>
<ellipse cx="845" cy="1459" rx="6.6" ry="4.0" fill="#2e2e2e" opacity="0.70"/>
<ellipse cx="855" cy="1464" rx="4.5" ry="6.2" fill="#2e2e2e" opacity="0.75"/>
<ellipse cx="855" cy="1450" rx="5.7" ry="2.1" fill="#a0a0a0" opacity="0.7"/>
<ellipse cx="848" cy="1449" rx="3.2" ry="2.3" fill="#a0a0a0" opacity="0.7"/>
<ellipse cx="864" cy="1466" rx="6.8" ry="5.4" fill="#2e2e2e" opacity="0.78"/>
<ellipse cx="861" cy="1450" rx="4.0" ry="3.6" fill="#a0a0a0" opacity="0.7"/>
<ellipse cx="877" cy="1465" rx="5.1" ry="6.0" fill="#2e2e2e" opacity="0.75"/>
<ellipse cx="882" cy="1453" rx="4.5" ry="2.6" fill="#a0a0a0" opacity="0.7"/>
<ellipse cx="885" cy="1460" rx="7.7" ry="6.1" fill="#2e2e2e" opacity="0.67"/>
<ellipse cx="900" cy="1469" rx="8.8" ry="5.2" fill="#2e2e2e" opacity="0.76"/>
<ellipse cx="905" cy="1459" rx="3.1" ry="2.3" fill="#a0a0a0" opacity="0.7"/>
<ellipse cx="895" cy="1452" rx="4.2" ry="4.0" fill="#a0a0a0" opacity="0.7"/>
<ellipse cx="918" cy="1463" rx="5.5" ry="4.4" fill="#2e2e2e" opacity="0.86"/>
<ellipse cx="912" cy="1459" rx="5.5" ry="3.1" fill="#a0a0a0" opacity="0.7"/>
<ellipse cx="913" cy="1455" rx="3.7" ry="3.6" fill="#a0a0a0" opacity="0.7"/>
<ellipse cx="926" cy="1469" rx="8.2" ry="6.3" fill="#2e2e2e" opacity="0.85"/>
<ellipse cx="929" cy="1455" rx="2.6" ry="2.2" fill="#a0a0a0" opacity="0.7"/>
<ellipse cx="931" cy="1456" rx="3.2" ry="2.1" fill="#a0a0a0" opacity="0.7"/>
<ellipse cx="942" cy="1469" rx="5.8" ry="3.6" fill="#2e2e2e" opacity="0.74"/>
<ellipse cx="936" cy="1460" rx="4.7" ry="2.1" fill="#a0a0a0" opacity="0.7"/>
<ellipse cx="935" cy="1454" rx="4.6" ry="3.8" fill="#a0a0a0" opacity="0.7"/>
<ellipse cx="952" cy="1464" rx="4.2" ry="6.0" fill="#2e2e2e" opacity="0.85"/>
<ellipse cx="953" cy="1453" rx="5.0" ry="2.5" fill="#a0a0a0" opacity="0.7"/>
<ellipse cx="953" cy="1458" rx="5.6" ry="2.3" fill="#a0a0a0" opacity="0.7"/>
<ellipse cx="961" cy="1463" rx="5.0" ry="3.6" fill="#2e2e2e" opacity="0.79"/>
<ellipse cx="963" cy="1454" rx="5.9" ry="3.3" fill="#a0a0a0" opacity="0.7"/>
<ellipse cx="955" cy="1456" rx="5.4" ry="3.7" fill="#a0a0a0" opacity="0.7"/>
<ellipse cx="969" cy="1469" rx="8.3" ry="4.4" fill="#2e2e2e" opacity="0.73"/>
<ellipse cx="972" cy="1459" rx="4.5" ry="2.7" fill="#a0a0a0" opacity="0.7"/>
<ellipse cx="986" cy="1469" rx="6.3" ry="5.9" fill="#2e2e2e" opacity="0.84"/>
<ellipse cx="983" cy="1456" rx="2.7" ry="2.9" fill="#a0a0a0" opacity="0.7"/>
<ellipse cx="999" cy="1468" rx="7.0" ry="5.9" fill="#2e2e2e" opacity="0.78"/>
<ellipse cx="1004" cy="1458" rx="3.7" ry="2.8" fill="#a0a0a0" opacity="0.7"/>
<ellipse cx="993" cy="1453" rx="4.1" ry="2.7" fill="#a0a0a0" opacity="0.7"/>
<ellipse cx="1011" cy="1468" rx="4.5" ry="4.5" fill="#2e2e2e" opacity="0.83"/>
<ellipse cx="1006" cy="1453" rx="5.3" ry="3.6" fill="#a0a0a0" opacity="0.7"/>
<ellipse cx="1006" cy="1456" rx="3.1" ry="3.3" fill="#a0a0a0" opacity="0.7"/>
<ellipse cx="1018" cy="1461" rx="5.4" ry="3.7" fill="#2e2e2e" opacity="0.77"/>
<ellipse cx="1013" cy="1456" rx="5.0" ry="2.6" fill="#a0a0a0" opacity="0.7"/>
<ellipse cx="1015" cy="1455" rx="4.2" ry="2.7" fill="#a0a0a0" opacity="0.7"/>
<ellipse cx="1026" cy="1467" rx="6.1" ry="6.0" fill="#2e2e2e" opacity="0.84"/>
<ellipse cx="1021" cy="1451" rx="4.5" ry="3.7" fill="#a0a0a0" opacity="0.7"/>
<ellipse cx="1040" cy="1461" rx="8.4" ry="5.4" fill="#2e2e2e" opacity="0.71"/>
<ellipse cx="1038" cy="1453" rx="4.9" ry="3.7" fill="#a0a0a0" opacity="0.7"/>
<ellipse cx="1053" cy="1460" rx="8.8" ry="4.1" fill="#2e2e2e" opacity="0.69"/>
<ellipse cx="1057" cy="1451" rx="2.8" ry="4.0" fill="#a0a0a0" opacity="0.7"/>
<ellipse cx="1054" cy="1453" rx="3.5" ry="2.3" fill="#a0a0a0" opacity="0.7"/>
<ellipse cx="1068" cy="1466" rx="5.0" ry="6.4" fill="#2e2e2e" opacity="0.80"/>
<ellipse cx="1070" cy="1453" rx="3.9" ry="3.2" fill="#a0a0a0" opacity="0.7"/>
<ellipse cx="1074" cy="1456" rx="4.3" ry="2.4" fill="#a0a0a0" opacity="0.7"/>
<ellipse cx="1079" cy="1460" rx="4.1" ry="6.3" fill="#2e2e2e" opacity="0.80"/>
<ellipse cx="1072" cy="1449" rx="5.9" ry="2.3" fill="#a0a0a0" opacity="0.7"/>
<ellipse cx="1076" cy="1452" rx="3.5" ry="3.3" fill="#a0a0a0" opacity="0.7"/>
<ellipse cx="1086" cy="1462" rx="4.8" ry="5.4" fill="#2e2e2e" opacity="0.89"/>
<ellipse cx="1079" cy="1455" rx="2.9" ry="2.1" fill="#a0a0a0" opacity="0.7"/>
<ellipse cx="1094" cy="1462" rx="5.7" ry="4.3" fill="#2e2e2e" opacity="0.66"/>
<ellipse cx="1100" cy="1455" rx="4.2" ry="3.7" fill="#a0a0a0" opacity="0.7"/>
<ellipse cx="1106" cy="1461" rx="8.5" ry="6.1" fill="#2e2e2e" opacity="0.65"/>
<ellipse cx="1111" cy="1452" rx="2.9" ry="3.8" fill="#a0a0a0" opacity="0.7"/>
<ellipse cx="1105" cy="1450" rx="4.6" ry="3.3" fill="#a0a0a0" opacity="0.7"/>
<ellipse cx="1122" cy="1458" rx="6.0" ry="5.0" fill="#2e2e2e" opacity="0.70"/>
<ellipse cx="1120" cy="1448" rx="2.9" ry="2.8" fill="#a0a0a0" opacity="0.7"/>
<ellipse cx="1123" cy="1448" rx="4.8" ry="3.7" fill="#a0a0a0" opacity="0.7"/>
<ellipse cx="1135" cy="1455" rx="8.4" ry="6.3" fill="#2e2e2e" opacity="0.80"/>
<ellipse cx="1141" cy="1444" rx="3.1" ry="2.7" fill="#a0a0a0" opacity="0.7"/>
<ellipse cx="1153" cy="1456" rx="5.9" ry="6.5" fill="#2e2e2e" opacity="0.82"/>
<ellipse cx="1151" cy="1450" rx="5.3" ry="2.6" fill="#a0a0a0" opacity="0.7"/>
<ellipse cx="1147" cy="1447" rx="3.7" ry="2.2" fill="#a0a0a0" opacity="0.7"/>
<ellipse cx="1163" cy="1451" rx="5.1" ry="5.6" fill="#2e2e2e" opacity="0.90"/>
<ellipse cx="1166" cy="1445" rx="5.8" ry="3.0" fill="#a0a0a0" opacity="0.7"/>
<ellipse cx="1170" cy="1458" rx="5.6" ry="6.2" fill="#2e2e2e" opacity="0.62"/>
<ellipse cx="1174" cy="1446" rx="2.6" ry="2.0" fill="#a0a0a0" opacity="0.7"/>
<ellipse cx="1181" cy="1454" rx="8.1" ry="4.1" fill="#2e2e2e" opacity="0.74"/>
<ellipse cx="1187" cy="1446" rx="5.4" ry="2.6" fill="#a0a0a0" opacity="0.7"/>
<ellipse cx="1194" cy="1450" rx="8.0" ry="4.7" fill="#2e2e2e" opacity="0.80"/>
<ellipse cx="1191" cy="1439" rx="6.0" ry="3.8" fill="#a0a0a0" opacity="0.7"/>
<ellipse cx="1189" cy="1441" rx="3.2" ry="2.6" fill="#a0a0a0" opacity="0.7"/>
</g>
<g filter="url(#speck)">
<polygon points="660,1380.3 664,1380.5 670,1380.8 674,1381.1 680,1381.3 684,1381.6 690,1381.8 694,1382.1 700,1382.3 704,1382.6 710,1382.9 714,1383.1 720,1383.4 724,1383.6 730,1383.9 734,1384.2 740,1384.4 744,1384.7 750,1384.9 754,1385.2 760,1385.5 764,1385.8 770,1386.1 774,1386.4 780,1386.7 784,1387.0 790,1387.3 794,1387.5 800,1387.8 804,1388.1 810,1388.3 814,1388.5 820,1388.7 824,1388.9 830,1389.0 834,1389.2 840,1389.4 844,1389.6 850,1389.8 854,1390.1 860,1390.5 864,1390.9 870,1391.5 874,1392.1 880,1392.9 884,1393.8 890,1394.8 894,1396.0 900,1397.2 904,1398.5 910,1399.8 914,1401.2 920,1402.4 924,1403.6 930,1404.7 934,1405.5 940,1406.1 944,1406.4 950,1406.5 954,1406.3 960,1405.8 964,1405.0 970,1404.0 974,1402.9 980,1401.6 984,1400.3 990,1399.0 994,1397.6 1000,1396.3 1004,1395.2 1010,1394.1 1014,1393.1 1020,1392.3 1024,1391.6 1030,1391.0 1034,1390.5 1040,1390.1 1044,1389.8 1050,1389.6 1054,1389.4 1060,1389.3 1064,1389.1 1070,1389.0 1074,1388.9 1080,1388.9 1084,1388.8 1090,1388.7 1094,1388.6 1100,1388.5 1104,1388.4 1110,1388.3 1114,1388.2 1120,1388.1 1124,1388.0 1130,1387.9 1134,1387.7 1140,1387.6 1144,1387.5 1150,1387.4 1154,1387.3 1160,1387.1 1164,1387.0 1170,1386.9 1174,1386.8 1180,1386.6 1184,1386.5 1190,1386.4 1194,1386.3 1198,1386.2 1198,1393.0 1194,1393.1 1190,1393.3 1184,1393.5 1180,1393.7 1174,1393.9 1170,1394.1 1164,1394.3 1160,1394.5 1154,1394.7 1150,1394.9 1144,1395.1 1140,1395.3 1134,1395.5 1130,1395.7 1124,1395.8 1120,1396.0 1114,1396.2 1110,1396.4 1104,1396.5 1100,1396.7 1094,1396.8 1090,1397.0 1084,1397.1 1080,1397.2 1074,1397.4 1070,1397.5 1064,1397.6 1060,1397.7 1054,1397.9 1050,1398.0 1044,1398.2 1040,1398.4 1034,1398.6 1030,1398.9 1024,1399.2 1020,1399.5 1014,1399.9 1010,1400.3 1004,1400.7 1000,1401.2 994,1401.8 990,1402.4 984,1403.1 980,1403.7 974,1404.4 970,1405.0 964,1405.6 960,1406.0 954,1406.4 950,1406.5 944,1406.5 940,1406.2 934,1405.9 930,1405.4 924,1404.8 920,1404.2 914,1403.5 910,1402.8 904,1402.2 900,1401.6 894,1401.0 890,1400.5 884,1400.0 880,1399.6 874,1399.3 870,1398.9 864,1398.6 860,1398.4 854,1398.1 850,1397.9 844,1397.8 840,1397.6 834,1397.4 830,1397.3 824,1397.1 820,1396.9 814,1396.7 810,1396.5 804,1396.2 800,1396.0 794,1395.7 790,1395.5 784,1395.2 780,1394.9 774,1394.6 770,1394.3 764,1394.0 760,1393.7 754,1393.4 750,1393.2 744,1392.9 740,1392.6 734,1392.4 730,1392.1 724,1391.8 720,1391.6 714,1391.3 710,1391.0 704,1390.8 700,1390.5 694,1390.2 690,1390.0 684,1389.7 680,1389.4 674,1389.2 670,1388.9 664,1388.6 660,1388.4" fill="#c8c8c8" />
<polygon points="660,1388.4 664,1388.6 670,1388.9 674,1389.2 680,1389.4 684,1389.7 690,1390.0 694,1390.2 700,1390.5 704,1390.8 710,1391.0 714,1391.3 720,1391.6 724,1391.8 730,1392.1 734,1392.4 740,1392.6 744,1392.9 750,1393.2 754,1393.4 760,1393.7 764,1394.0 770,1394.3 774,1394.6 780,1394.9 784,1395.2 790,1395.5 794,1395.7 800,1396.0 804,1396.2 810,1396.5 814,1396.7 820,1396.9 824,1397.1 830,1397.3 834,1397.4 840,1397.6 844,1397.8 850,1397.9 854,1398.1 860,1398.4 864,1398.6 870,1398.9 874,1399.3 880,1399.6 884,1400.0 890,1400.5 894,1401.0 900,1401.6 904,1402.2 910,1402.8 914,1403.5 920,1404.2 924,1404.8 930,1405.4 934,1405.9 940,1406.2 944,1406.5 950,1406.5 954,1406.4 960,1406.0 964,1405.6 970,1405.0 974,1404.4 980,1403.7 984,1403.1 990,1402.4 994,1401.8 1000,1401.2 1004,1400.7 1010,1400.3 1014,1399.9 1020,1399.5 1024,1399.2 1030,1398.9 1034,1398.6 1040,1398.4 1044,1398.2 1050,1398.0 1054,1397.9 1060,1397.7 1064,1397.6 1070,1397.5 1074,1397.4 1080,1397.2 1084,1397.1 1090,1397.0 1094,1396.8 1100,1396.7 1104,1396.5 1110,1396.4 1114,1396.2 1120,1396.0 1124,1395.8 1130,1395.7 1134,1395.5 1140,1395.3 1144,1395.1 1150,1394.9 1154,1394.7 1160,1394.5 1164,1394.3 1170,1394.1 1174,1393.9 1180,1393.7 1184,1393.5 1190,1393.3 1194,1393.1 1198,1393.0 1198,1400.7 1194,1400.9 1190,1401.2 1184,1401.4 1180,1401.7 1174,1402.0 1170,1402.3 1164,1402.5 1160,1402.8 1154,1403.1 1150,1403.4 1144,1403.7 1140,1404.0 1134,1404.2 1130,1404.5 1124,1404.8 1120,1405.0 1114,1405.3 1110,1405.5 1104,1405.8 1100,1406.0 1094,1406.2 1090,1406.4 1084,1406.6 1080,1406.8 1074,1406.9 1070,1407.1 1064,1407.2 1060,1407.4 1054,1407.5 1050,1407.6 1044,1407.7 1040,1407.8 1034,1407.8 1030,1407.8 1024,1407.8 1020,1407.7 1014,1407.6 1010,1407.4 1004,1407.2 1000,1407.0 994,1406.8 990,1406.6 984,1406.5 980,1406.4 974,1406.4 970,1406.5 964,1406.6 960,1406.7 954,1406.8 950,1406.8 944,1406.8 940,1406.8 934,1406.7 930,1406.5 924,1406.4 920,1406.4 914,1406.4 910,1406.4 904,1406.6 900,1406.7 894,1406.9 890,1407.1 884,1407.2 880,1407.3 874,1407.4 870,1407.5 864,1407.4 860,1407.4 854,1407.3 850,1407.2 844,1407.0 840,1406.9 834,1406.7 830,1406.6 824,1406.4 820,1406.2 814,1406.0 810,1405.7 804,1405.5 800,1405.3 794,1405.0 790,1404.8 784,1404.5 780,1404.2 774,1403.9 770,1403.6 764,1403.4 760,1403.1 754,1402.8 750,1402.5 744,1402.2 740,1402.0 734,1401.7 730,1401.4 724,1401.1 720,1400.9 714,1400.6 710,1400.3 704,1400.0 700,1399.8 694,1399.5 690,1399.2 684,1398.9 680,1398.7 674,1398.4 670,1398.1 664,1397.8 660,1397.6" fill="#8c8c8c" />
<polygon points="660,1397.6 664,1397.8 670,1398.1 674,1398.4 680,1398.7 684,1398.9 690,1399.2 694,1399.5 700,1399.8 704,1400.0 710,1400.3 714,1400.6 720,1400.9 724,1401.1 730,1401.4 734,1401.7 740,1402.0 744,1402.2 750,1402.5 754,1402.8 760,1403.1 764,1403.4 770,1403.6 774,1403.9 780,1404.2 784,1404.5 790,1404.8 794,1405.0 800,1405.3 804,1405.5 810,1405.7 814,1406.0 820,1406.2 824,1406.4 830,1406.6 834,1406.7 840,1406.9 844,1407.0 850,1407.2 854,1407.3 860,1407.4 864,1407.4 870,1407.5 874,1407.4 880,1407.3 884,1407.2 890,1407.1 894,1406.9 900,1406.7 904,1406.6 910,1406.4 914,1406.4 920,1406.4 924,1406.4 930,1406.5 934,1406.7 940,1406.8 944,1406.8 950,1406.8 954,1406.8 960,1406.7 964,1406.6 970,1406.5 974,1406.4 980,1406.4 984,1406.5 990,1406.6 994,1406.8 1000,1407.0 1004,1407.2 1010,1407.4 1014,1407.6 1020,1407.7 1024,1407.8 1030,1407.8 1034,1407.8 1040,1407.8 1044,1407.7 1050,1407.6 1054,1407.5 1060,1407.4 1064,1407.2 1070,1407.1 1074,1406.9 1080,1406.8 1084,1406.6 1090,1406.4 1094,1406.2 1100,1406.0 1104,1405.8 1110,1405.5 1114,1405.3 1120,1405.0 1124,1404.8 1130,1404.5 1134,1404.2 1140,1404.0 1144,1403.7 1150,1403.4 1154,1403.1 1160,1402.8 1164,1402.5 1170,1402.3 1174,1402.0 1180,1401.7 1184,1401.4 1190,1401.2 1194,1400.9 1198,1400.7 1198,1404.7 1194,1404.9 1190,1405.3 1184,1405.6 1180,1405.9 1174,1406.2 1170,1406.5 1164,1406.8 1160,1407.2 1154,1407.5 1150,1407.8 1144,1408.2 1140,1408.5 1134,1408.8 1130,1409.1 1124,1409.4 1120,1409.7 1114,1410.0 1110,1410.3 1104,1410.6 1100,1410.8 1094,1411.1 1090,1411.3 1084,1411.5 1080,1411.7 1074,1411.9 1070,1412.1 1064,1412.2 1060,1412.4 1054,1412.5 1050,1412.6 1044,1412.7 1040,1412.7 1034,1412.7 1030,1412.6 1024,1412.5 1020,1412.2 1014,1411.9 1010,1411.5 1004,1411.1 1000,1410.6 994,1410.1 990,1409.6 984,1409.1 980,1408.8 974,1408.5 970,1408.4 964,1408.3 960,1408.3 954,1408.3 950,1408.3 944,1408.3 940,1408.3 934,1408.3 930,1408.3 924,1408.4 920,1408.6 914,1408.8 910,1409.2 904,1409.6 900,1410.0 894,1410.5 890,1410.9 884,1411.3 880,1411.6 874,1411.9 870,1412.0 864,1412.1 860,1412.1 854,1412.1 850,1412.0 844,1411.9 840,1411.8 834,1411.6 830,1411.4 824,1411.2 820,1411.0 814,1410.8 810,1410.6 804,1410.3 800,1410.1 794,1409.9 790,1409.6 784,1409.3 780,1409.0 774,1408.8 770,1408.5 764,1408.2 760,1407.9 754,1407.6 750,1407.4 744,1407.1 740,1406.8 734,1406.5 730,1406.2 724,1406.0 720,1405.7 714,1405.4 710,1405.1 704,1404.8 700,1404.6 694,1404.3 690,1404.0 684,1403.7 680,1403.5 674,1403.2 670,1402.9 664,1402.6 660,1402.4" fill="#5a5a5a" />
<polygon points="660,1402.4 664,1402.6 670,1402.9 674,1403.2 680,1403.5 684,1403.7 690,1404.0 694,1404.3 700,1404.6 704,1404.8 710,1405.1 714,1405.4 720,1405.7 724,1406.0 730,1406.2 734,1406.5 740,1406.8 744,1407.1 750,1407.4 754,1407.6 760,1407.9 764,1408.2 770,1408.5 774,1408.8 780,1409.0 784,1409.3 790,1409.6 794,1409.9 800,1410.1 804,1410.3 810,1410.6 814,1410.8 820,1411.0 824,1411.2 830,1411.4 834,1411.6 840,1411.8 844,1411.9 850,1412.0 854,1412.1 860,1412.1 864,1412.1 870,1412.0 874,1411.9 880,1411.6 884,1411.3 890,1410.9 894,1410.5 900,1410.0 904,1409.6 910,1409.2 914,1408.8 920,1408.6 924,1408.4 930,1408.3 934,1408.3 940,1408.3 944,1408.3 950,1408.3 954,1408.3 960,1408.3 964,1408.3 970,1408.4 974,1408.5 980,1408.8 984,1409.1 990,1409.6 994,1410.1 1000,1410.6 1004,1411.1 1010,1411.5 1014,1411.9 1020,1412.2 1024,1412.5 1030,1412.6 1034,1412.7 1040,1412.7 1044,1412.7 1050,1412.6 1054,1412.5 1060,1412.4 1064,1412.2 1070,1412.1 1074,1411.9 1080,1411.7 1084,1411.5 1090,1411.3 1094,1411.1 1100,1410.8 1104,1410.6 1110,1410.3 1114,1410.0 1120,1409.7 1124,1409.4 1130,1409.1 1134,1408.8 1140,1408.5 1144,1408.2 1150,1407.8 1154,1407.5 1160,1407.2 1164,1406.8 1170,1406.5 1174,1406.2 1180,1405.9 1184,1405.6 1190,1405.3 1194,1404.9 1198,1404.7 1198,1408.4 1194,1408.7 1190,1409.0 1184,1409.4 1180,1409.7 1174,1410.1 1170,1410.5 1164,1410.8 1160,1411.2 1154,1411.6 1150,1411.9 1144,1412.3 1140,1412.6 1134,1413.0 1130,1413.4 1124,1413.7 1120,1414.0 1114,1414.4 1110,1414.7 1104,1415.0 1100,1415.3 1094,1415.6 1090,1415.8 1084,1416.1 1080,1416.3 1074,1416.5 1070,1416.7 1064,1416.9 1060,1417.0 1054,1417.2 1050,1417.3 1044,1417.4 1040,1417.4 1034,1417.3 1030,1417.2 1024,1417.0 1020,1416.7 1014,1416.3 1010,1415.8 1004,1415.2 1000,1414.5 994,1413.8 990,1413.2 984,1412.6 980,1412.1 974,1411.7 970,1411.3 964,1411.1 960,1411.0 954,1410.9 950,1410.9 944,1410.9 940,1410.9 934,1411.0 930,1411.2 924,1411.4 920,1411.7 914,1412.1 910,1412.6 904,1413.2 900,1413.8 894,1414.4 890,1415.0 884,1415.5 880,1415.9 874,1416.2 870,1416.5 864,1416.6 860,1416.6 854,1416.6 850,1416.5 844,1416.4 840,1416.3 834,1416.1 830,1415.9 824,1415.7 820,1415.5 814,1415.3 810,1415.0 804,1414.8 800,1414.6 794,1414.3 790,1414.1 784,1413.8 780,1413.5 774,1413.2 770,1413.0 764,1412.7 760,1412.4 754,1412.1 750,1411.8 744,1411.6 740,1411.3 734,1411.0 730,1410.7 724,1410.4 720,1410.1 714,1409.9 710,1409.6 704,1409.3 700,1409.0 694,1408.7 690,1408.4 684,1408.2 680,1407.9 674,1407.6 670,1407.3 664,1407.0 660,1406.8" fill="#828282" />
<polygon points="660,1406.8 664,1407.0 670,1407.3 674,1407.6 680,1407.9 684,1408.2 690,1408.4 694,1408.7 700,1409.0 704,1409.3 710,1409.6 714,1409.9 720,1410.1 724,1410.4 730,1410.7 734,1411.0 740,1411.3 744,1411.6 750,1411.8 754,1412.1 760,1412.4 764,1412.7 770,1413.0 774,1413.2 780,1413.5 784,1413.8 790,1414.1 794,1414.3 800,1414.6 804,1414.8 810,1415.0 814,1415.3 820,1415.5 824,1415.7 830,1415.9 834,1416.1 840,1416.3 844,1416.4 850,1416.5 854,1416.6 860,1416.6 864,1416.6 870,1416.5 874,1416.2 880,1415.9 884,1415.5 890,1415.0 894,1414.4 900,1413.8 904,1413.2 910,1412.6 914,1412.1 920,1411.7 924,1411.4 930,1411.2 934,1411.0 940,1410.9 944,1410.9 950,1410.9 954,1410.9 960,1411.0 964,1411.1 970,1411.3 974,1411.7 980,1412.1 984,1412.6 990,1413.2 994,1413.8 1000,1414.5 1004,1415.2 1010,1415.8 1014,1416.3 1020,1416.7 1024,1417.0 1030,1417.2 1034,1417.3 1040,1417.4 1044,1417.4 1050,1417.3 1054,1417.2 1060,1417.0 1064,1416.9 1070,1416.7 1074,1416.5 1080,1416.3 1084,1416.1 1090,1415.8 1094,1415.6 1100,1415.3 1104,1415.0 1110,1414.7 1114,1414.4 1120,1414.0 1124,1413.7 1130,1413.4 1134,1413.0 1140,1412.6 1144,1412.3 1150,1411.9 1154,1411.6 1160,1411.2 1164,1410.8 1170,1410.5 1174,1410.1 1180,1409.7 1184,1409.4 1190,1409.0 1194,1408.7 1198,1408.4 1198,1417.1 1194,1417.4 1190,1417.8 1184,1418.3 1180,1418.7 1174,1419.2 1170,1419.6 1164,1420.1 1160,1420.5 1154,1421.0 1150,1421.5 1144,1421.9 1140,1422.4 1134,1422.8 1130,1423.3 1124,1423.7 1120,1424.1 1114,1424.5 1110,1424.9 1104,1425.3 1100,1425.7 1094,1426.1 1090,1426.4 1084,1426.7 1080,1427.0 1074,1427.3 1070,1427.5 1064,1427.8 1060,1428.0 1054,1428.3 1050,1428.5 1044,1428.8 1040,1429.0 1034,1429.2 1030,1429.4 1024,1429.6 1020,1429.8 1014,1430.0 1010,1430.1 1004,1430.3 1000,1430.4 994,1430.6 990,1430.7 984,1430.8 980,1430.9 974,1430.9 970,1431.0 964,1431.0 960,1431.0 954,1431.0 950,1431.0 944,1431.0 940,1430.9 934,1430.8 930,1430.7 924,1430.6 920,1430.5 914,1430.4 910,1430.2 904,1430.0 900,1429.8 894,1429.6 890,1429.4 884,1429.2 880,1429.0 874,1428.8 870,1428.5 864,1428.3 860,1428.0 854,1427.8 850,1427.5 844,1427.3 840,1427.0 834,1426.7 830,1426.5 824,1426.2 820,1426.0 814,1425.7 810,1425.5 804,1425.2 800,1425.0 794,1424.7 790,1424.5 784,1424.2 780,1423.9 774,1423.7 770,1423.4 764,1423.1 760,1422.9 754,1422.6 750,1422.3 744,1422.0 740,1421.7 734,1421.4 730,1421.1 724,1420.8 720,1420.6 714,1420.3 710,1420.0 704,1419.7 700,1419.4 694,1419.1 690,1418.8 684,1418.5 680,1418.2 674,1417.9 670,1417.6 664,1417.4 660,1417.1" fill="#484848" />
<polygon points="660,1380.3 664,1380.5 670,1380.8 674,1381.1 680,1381.3 684,1381.6 690,1381.8 694,1382.1 700,1382.3 704,1382.6 710,1382.9 714,1383.1 720,1383.4 724,1383.6 730,1383.9 734,1384.2 740,1384.4 744,1384.7 750,1384.9 754,1385.2 760,1385.5 764,1385.8 770,1386.1 774,1386.4 780,1386.7 784,1387.0 790,1387.3 794,1387.5 800,1387.8 804,1388.1 810,1388.3 814,1388.5 820,1388.7 824,1388.9 830,1389.0 834,1389.2 840,1389.4 844,1389.6 850,1389.8 854,1390.1 860,1390.5 864,1390.9 870,1391.5 874,1392.1 880,1392.9 884,1393.8 890,1394.8 894,1396.0 900,1397.2 904,1398.5 910,1399.8 914,1401.2 920,1402.4 924,1403.6 930,1404.7 934,1405.5 940,1406.1 944,1406.4 950,1406.5 954,1406.3 960,1405.8 964,1405.0 970,1404.0 974,1402.9 980,1401.6 984,1400.3 990,1399.0 994,1397.6 1000,1396.3 1004,1395.2 1010,1394.1 1014,1393.1 1020,1392.3 1024,1391.6 1030,1391.0 1034,1390.5 1040,1390.1 1044,1389.8 1050,1389.6 1054,1389.4 1060,1389.3 1064,1389.1 1070,1389.0 1074,1388.9 1080,1388.9 1084,1388.8 1090,1388.7 1094,1388.6 1100,1388.5 1104,1388.4 1110,1388.3 1114,1388.2 1120,1388.1 1124,1388.0 1130,1387.9 1134,1387.7 1140,1387.6 1144,1387.5 1150,1387.4 1154,1387.3 1160,1387.1 1164,1387.0 1170,1386.9 1174,1386.8 1180,1386.6 1184,1386.5 1190,1386.4 1194,1386.3 1198,1386.2 1198,1386.2 1194,1386.3 1190,1386.4 1184,1386.5 1180,1386.6 1174,1386.8 1170,1386.9 1164,1387.0 1160,1387.1 1154,1387.3 1150,1387.4 1144,1387.5 1140,1387.6 1134,1387.7 1130,1387.9 1124,1388.0 1120,1388.1 1114,1388.2 1110,1388.3 1104,1388.4 1100,1388.5 1094,1388.6 1090,1388.7 1084,1388.8 1080,1388.9 1074,1388.9 1070,1389.0 1064,1389.1 1060,1389.3 1054,1389.4 1050,1389.6 1044,1389.8 1040,1390.1 1034,1390.5 1030,1391.0 1024,1391.6 1020,1392.3 1014,1393.1 1010,1394.1 1004,1395.2 1000,1396.3 994,1397.6 990,1399.0 984,1400.3 980,1401.6 974,1402.9 970,1404.0 964,1405.0 960,1405.8 954,1406.3 950,1406.5 944,1406.4 940,1406.1 934,1405.5 930,1404.7 924,1403.6 920,1402.4 914,1401.2 910,1399.8 904,1398.5 900,1397.2 894,1396.0 890,1394.8 884,1393.8 880,1392.9 874,1392.1 870,1391.5 864,1390.9 860,1390.5 854,1390.3 850,1390.2 844,1390.2 840,1390.2 834,1390.2 830,1390.3 824,1390.3 820,1390.3 814,1390.3 810,1390.3 804,1390.3 800,1390.2 794,1390.2 790,1390.1 784,1390.0 780,1389.9 774,1389.8 770,1389.7 764,1389.6 760,1389.5 754,1389.4 750,1389.4 744,1389.3 740,1389.2 734,1389.2 730,1389.1 724,1389.1 720,1389.0 714,1388.9 710,1388.9 704,1388.6 700,1388.3 694,1388.1 690,1387.8 684,1387.6 680,1387.3 674,1387.1 670,1386.8 664,1386.5 660,1386.3" fill="#dedede" />
<polygon points="660,1417.1 664,1417.4 670,1417.6 674,1417.9 680,1418.2 684,1418.5 690,1418.8 694,1419.1 700,1419.4 704,1419.7 710,1420.0 714,1420.3 720,1420.6 724,1420.8 730,1421.1 734,1421.4 740,1421.7 744,1422.0 750,1422.3 754,1422.6 760,1422.9 764,1423.1 770,1423.4 774,1423.7 780,1423.9 784,1424.2 790,1424.5 794,1424.7 800,1425.0 804,1425.2 810,1425.5 814,1425.7 820,1426.0 824,1426.2 830,1426.5 834,1426.7 840,1427.0 844,1427.3 850,1427.5 854,1427.8 860,1428.0 864,1428.3 870,1428.5 874,1428.8 880,1429.0 884,1429.2 890,1429.4 894,1429.6 900,1429.8 904,1430.0 910,1430.2 914,1430.4 920,1430.5 924,1430.6 930,1430.7 934,1430.8 940,1430.9 944,1431.0 950,1431.0 954,1431.0 960,1431.0 964,1431.0 970,1431.0 974,1430.9 980,1430.9 984,1430.8 990,1430.7 994,1430.6 1000,1430.4 1004,1430.3 1010,1430.1 1014,1430.0 1020,1429.8 1024,1429.6 1030,1429.4 1034,1429.2 1040,1429.0 1044,1428.8 1050,1428.5 1054,1428.3 1060,1428.0 1064,1427.8 1070,1427.5 1074,1427.3 1080,1427.0 1084,1426.7 1090,1426.4 1094,1426.1 1100,1425.7 1104,1425.3 1110,1424.9 1114,1424.5 1120,1424.1 1124,1423.7 1130,1423.3 1134,1422.8 1140,1422.4 1144,1421.9 1150,1421.5 1154,1421.0 1160,1420.5 1164,1420.1 1170,1419.6 1174,1419.2 1180,1418.7 1184,1418.3 1190,1417.8 1194,1417.4 1198,1417.1 1198,1422.1 1194,1422.4 1190,1422.8 1184,1423.3 1180,1423.7 1174,1424.2 1170,1424.6 1164,1425.1 1160,1425.5 1154,1426.0 1150,1426.5 1144,1426.9 1140,1427.4 1134,1427.8 1130,1428.3 1124,1428.7 1120,1429.1 1114,1429.5 1110,1429.9 1104,1430.3 1100,1430.7 1094,1431.1 1090,1431.4 1084,1431.7 1080,1432.0 1074,1432.3 1070,1432.5 1064,1432.8 1060,1433.0 1054,1433.3 1050,1433.5 1044,1433.8 1040,1434.0 1034,1434.2 1030,1434.4 1024,1434.6 1020,1434.8 1014,1435.0 1010,1435.1 1004,1435.3 1000,1435.4 994,1435.6 990,1435.7 984,1435.8 980,1435.9 974,1435.9 970,1436.0 964,1436.0 960,1436.0 954,1436.0 950,1436.0 944,1436.0 940,1435.9 934,1435.8 930,1435.7 924,1435.6 920,1435.5 914,1435.4 910,1435.2 904,1435.0 900,1434.8 894,1434.6 890,1434.4 884,1434.2 880,1434.0 874,1433.8 870,1433.5 864,1433.3 860,1433.0 854,1432.8 850,1432.5 844,1432.3 840,1432.0 834,1431.7 830,1431.5 824,1431.2 820,1431.0 814,1430.7 810,1430.5 804,1430.2 800,1430.0 794,1429.7 790,1429.5 784,1429.2 780,1428.9 774,1428.7 770,1428.4 764,1428.1 760,1427.9 754,1427.6 750,1427.3 744,1427.0 740,1426.7 734,1426.4 730,1426.1 724,1425.8 720,1425.6 714,1425.3 710,1425.0 704,1424.7 700,1424.4 694,1424.1 690,1423.8 684,1423.5 680,1423.2 674,1422.9 670,1422.6 664,1422.4 660,1422.1" fill="#e8e8e8" />
<polygon points="660,1422.1 664,1422.4 670,1422.6 674,1422.9 680,1423.2 684,1423.5 690,1423.8 694,1424.1 700,1424.4 704,1424.7 710,1425.0 714,1425.3 720,1425.6 724,1425.8 730,1426.1 734,1426.4 740,1426.7 744,1427.0 750,1427.3 754,1427.6 760,1427.9 764,1428.1 770,1428.4 774,1428.7 780,1428.9 784,1429.2 790,1429.5 794,1429.7 800,1430.0 804,1430.2 810,1430.5 814,1430.7 820,1431.0 824,1431.2 830,1431.5 834,1431.7 840,1432.0 844,1432.3 850,1432.5 854,1432.8 860,1433.0 864,1433.3 870,1433.5 874,1433.8 880,1434.0 884,1434.2 890,1434.4 894,1434.6 900,1434.8 904,1435.0 910,1435.2 914,1435.4 920,1435.5 924,1435.6 930,1435.7 934,1435.8 940,1435.9 944,1436.0 950,1436.0 954,1436.0 960,1436.0 964,1436.0 970,1436.0 974,1435.9 980,1435.9 984,1435.8 990,1435.7 994,1435.6 1000,1435.4 1004,1435.3 1010,1435.1 1014,1435.0 1020,1434.8 1024,1434.6 1030,1434.4 1034,1434.2 1040,1434.0 1044,1433.8 1050,1433.5 1054,1433.3 1060,1433.0 1064,1432.8 1070,1432.5 1074,1432.3 1080,1432.0 1084,1431.7 1090,1431.4 1094,1431.1 1100,1430.7 1104,1430.3 1110,1429.9 1114,1429.5 1120,1429.1 1124,1428.7 1130,1428.3 1134,1427.8 1140,1427.4 1144,1426.9 1150,1426.5 1154,1426.0 1160,1425.5 1164,1425.1 1170,1424.6 1174,1424.2 1180,1423.7 1184,1423.3 1190,1422.8 1194,1422.4 1198,1422.1 1198,1423.6 1194,1423.9 1190,1424.3 1184,1424.8 1180,1425.2 1174,1425.7 1170,1426.1 1164,1426.6 1160,1427.0 1154,1427.5 1150,1428.0 1144,1428.4 1140,1428.9 1134,1429.3 1130,1429.8 1124,1430.2 1120,1430.6 1114,1431.0 1110,1431.4 1104,1431.8 1100,1432.2 1094,1432.6 1090,1432.9 1084,1433.2 1080,1433.5 1074,1433.8 1070,1434.0 1064,1434.3 1060,1434.5 1054,1434.8 1050,1435.0 1044,1435.3 1040,1435.5 1034,1435.7 1030,1435.9 1024,1436.1 1020,1436.3 1014,1436.5 1010,1436.6 1004,1436.8 1000,1436.9 994,1437.1 990,1437.2 984,1437.3 980,1437.4 974,1437.4 970,1437.5 964,1437.5 960,1437.5 954,1437.5 950,1437.5 944,1437.5 940,1437.4 934,1437.3 930,1437.2 924,1437.1 920,1437.0 914,1436.9 910,1436.7 904,1436.5 900,1436.3 894,1436.1 890,1435.9 884,1435.7 880,1435.5 874,1435.3 870,1435.0 864,1434.8 860,1434.5 854,1434.3 850,1434.0 844,1433.8 840,1433.5 834,1433.2 830,1433.0 824,1432.7 820,1432.5 814,1432.2 810,1432.0 804,1431.7 800,1431.5 794,1431.2 790,1431.0 784,1430.7 780,1430.4 774,1430.2 770,1429.9 764,1429.6 760,1429.4 754,1429.1 750,1428.8 744,1428.5 740,1428.2 734,1427.9 730,1427.6 724,1427.3 720,1427.1 714,1426.8 710,1426.5 704,1426.2 700,1425.9 694,1425.6 690,1425.3 684,1425.0 680,1424.7 674,1424.4 670,1424.1 664,1423.9 660,1423.6" fill="#b0b0b0" />
<polygon points="660,1423.6 664,1423.9 670,1424.1 674,1424.4 680,1424.7 684,1425.0 690,1425.3 694,1425.6 700,1425.9 704,1426.2 710,1426.5 714,1426.8 720,1427.1 724,1427.3 730,1427.6 734,1427.9 740,1428.2 744,1428.5 750,1428.8 754,1429.1 760,1429.4 764,1429.6 770,1429.9 774,1430.2 780,1430.4 784,1430.7 790,1431.0 794,1431.2 800,1431.5 804,1431.7 810,1432.0 814,1432.2 820,1432.5 824,1432.7 830,1433.0 834,1433.2 840,1433.5 844,1433.8 850,1434.0 854,1434.3 860,1434.5 864,1434.8 870,1435.0 874,1435.3 880,1435.5 884,1435.7 890,1435.9 894,1436.1 900,1436.3 904,1436.5 910,1436.7 914,1436.9 920,1437.0 924,1437.1 930,1437.2 934,1437.3 940,1437.4 944,1437.5 950,1437.5 954,1437.5 960,1437.5 964,1437.5 970,1437.5 974,1437.4 980,1437.4 984,1437.3 990,1437.2 994,1437.1 1000,1436.9 1004,1436.8 1010,1436.6 1014,1436.5 1020,1436.3 1024,1436.1 1030,1435.9 1034,1435.7 1040,1435.5 1044,1435.3 1050,1435.0 1054,1434.8 1060,1434.5 1064,1434.3 1070,1434.0 1074,1433.8 1080,1433.5 1084,1433.2 1090,1432.9 1094,1432.6 1100,1432.2 1104,1431.8 1110,1431.4 1114,1431.0 1120,1430.6 1124,1430.2 1130,1429.8 1134,1429.3 1140,1428.9 1144,1428.4 1150,1428.0 1154,1427.5 1160,1427.0 1164,1426.6 1170,1426.1 1174,1425.7 1180,1425.2 1184,1424.8 1190,1424.3 1194,1423.9 1198,1423.6 1198,1428.6 1194,1428.9 1190,1429.3 1184,1429.8 1180,1430.2 1174,1430.7 1170,1431.1 1164,1431.6 1160,1432.0 1154,1432.5 1150,1433.0 1144,1433.4 1140,1433.9 1134,1434.3 1130,1434.8 1124,1435.2 1120,1435.6 1114,1436.0 1110,1436.4 1104,1436.8 1100,1437.2 1094,1437.6 1090,1437.9 1084,1438.2 1080,1438.5 1074,1438.8 1070,1439.0 1064,1439.3 1060,1439.5 1054,1439.8 1050,1440.0 1044,1440.3 1040,1440.5 1034,1440.7 1030,1440.9 1024,1441.1 1020,1441.3 1014,1441.5 1010,1441.6 1004,1441.8 1000,1441.9 994,1442.1 990,1442.2 984,1442.3 980,1442.4 974,1442.4 970,1442.5 964,1442.5 960,1442.5 954,1442.5 950,1442.5 944,1442.5 940,1442.4 934,1442.3 930,1442.2 924,1442.1 920,1442.0 914,1441.9 910,1441.7 904,1441.5 900,1441.3 894,1441.1 890,1440.9 884,1440.7 880,1440.5 874,1440.3 870,1440.0 864,1439.8 860,1439.5 854,1439.3 850,1439.0 844,1438.8 840,1438.5 834,1438.2 830,1438.0 824,1437.7 820,1437.5 814,1437.2 810,1437.0 804,1436.7 800,1436.5 794,1436.2 790,1436.0 784,1435.7 780,1435.4 774,1435.2 770,1434.9 764,1434.6 760,1434.4 754,1434.1 750,1433.8 744,1433.5 740,1433.2 734,1432.9 730,1432.6 724,1432.3 720,1432.1 714,1431.8 710,1431.5 704,1431.2 700,1430.9 694,1430.6 690,1430.3 684,1430.0 680,1429.7 674,1429.4 670,1429.1 664,1428.9 660,1428.6" fill="#f4f4f4" />
<polygon points="660,1428.6 664,1428.9 670,1429.1 674,1429.4 680,1429.7 684,1430.0 690,1430.3 694,1430.6 700,1430.9 704,1431.2 710,1431.5 714,1431.8 720,1432.1 724,1432.3 730,1432.6 734,1432.9 740,1433.2 744,1433.5 750,1433.8 754,1434.1 760,1434.4 764,1434.6 770,1434.9 774,1435.2 780,1435.4 784,1435.7 790,1436.0 794,1436.2 800,1436.5 804,1436.7 810,1437.0 814,1437.2 820,1437.5 824,1437.7 830,1438.0 834,1438.2 840,1438.5 844,1438.8 850,1439.0 854,1439.3 860,1439.5 864,1439.8 870,1440.0 874,1440.3 880,1440.5 884,1440.7 890,1440.9 894,1441.1 900,1441.3 904,1441.5 910,1441.7 914,1441.9 920,1442.0 924,1442.1 930,1442.2 934,1442.3 940,1442.4 944,1442.5 950,1442.5 954,1442.5 960,1442.5 964,1442.5 970,1442.5 974,1442.4 980,1442.4 984,1442.3 990,1442.2 994,1442.1 1000,1441.9 1004,1441.8 1010,1441.6 1014,1441.5 1020,1441.3 1024,1441.1 1030,1440.9 1034,1440.7 1040,1440.5 1044,1440.3 1050,1440.0 1054,1439.8 1060,1439.5 1064,1439.3 1070,1439.0 1074,1438.8 1080,1438.5 1084,1438.2 1090,1437.9 1094,1437.6 1100,1437.2 1104,1436.8 1110,1436.4 1114,1436.0 1120,1435.6 1124,1435.2 1130,1434.8 1134,1434.3 1140,1433.9 1144,1433.4 1150,1433.0 1154,1432.5 1160,1432.0 1164,1431.6 1170,1431.1 1174,1430.7 1180,1430.2 1184,1429.8 1190,1429.3 1194,1428.9 1198,1428.6 1198,1430.1 1194,1430.4 1190,1430.8 1184,1431.3 1180,1431.7 1174,1432.2 1170,1432.6 1164,1433.1 1160,1433.5 1154,1434.0 1150,1434.5 1144,1434.9 1140,1435.4 1134,1435.8 1130,1436.3 1124,1436.7 1120,1437.1 1114,1437.5 1110,1437.9 1104,1438.3 1100,1438.7 1094,1439.1 1090,1439.4 1084,1439.7 1080,1440.0 1074,1440.3 1070,1440.5 1064,1440.8 1060,1441.0 1054,1441.3 1050,1441.5 1044,1441.8 1040,1442.0 1034,1442.2 1030,1442.4 1024,1442.6 1020,1442.8 1014,1443.0 1010,1443.1 1004,1443.3 1000,1443.4 994,1443.6 990,1443.7 984,1443.8 980,1443.9 974,1443.9 970,1444.0 964,1444.0 960,1444.0 954,1444.0 950,1444.0 944,1444.0 940,1443.9 934,1443.8 930,1443.7 924,1443.6 920,1443.5 914,1443.4 910,1443.2 904,1443.0 900,1442.8 894,1442.6 890,1442.4 884,1442.2 880,1442.0 874,1441.8 870,1441.5 864,1441.3 860,1441.0 854,1440.8 850,1440.5 844,1440.3 840,1440.0 834,1439.7 830,1439.5 824,1439.2 820,1439.0 814,1438.7 810,1438.5 804,1438.2 800,1438.0 794,1437.7 790,1437.5 784,1437.2 780,1436.9 774,1436.7 770,1436.4 764,1436.1 760,1435.9 754,1435.6 750,1435.3 744,1435.0 740,1434.7 734,1434.4 730,1434.1 724,1433.8 720,1433.6 714,1433.3 710,1433.0 704,1432.7 700,1432.4 694,1432.1 690,1431.8 684,1431.5 680,1431.2 674,1430.9 670,1430.6 664,1430.4 660,1430.1" fill="#8a8a8a" />
<polygon points="660,1430.1 664,1430.4 670,1430.6 674,1430.9 680,1431.2 684,1431.5 690,1431.8 694,1432.1 700,1432.4 704,1432.7 710,1433.0 714,1433.3 720,1433.6 724,1433.8 730,1434.1 734,1434.4 740,1434.7 744,1435.0 750,1435.3 754,1435.6 760,1435.9 764,1436.1 770,1436.4 774,1436.7 780,1436.9 784,1437.2 790,1437.5 794,1437.7 800,1438.0 804,1438.2 810,1438.5 814,1438.7 820,1439.0 824,1439.2 830,1439.5 834,1439.7 840,1440.0 844,1440.3 850,1440.5 854,1440.8 860,1441.0 864,1441.3 870,1441.5 874,1441.8 880,1442.0 884,1442.2 890,1442.4 894,1442.6 900,1442.8 904,1443.0 910,1443.2 914,1443.4 920,1443.5 924,1443.6 930,1443.7 934,1443.8 940,1443.9 944,1444.0 950,1444.0 954,1444.0 960,1444.0 964,1444.0 970,1444.0 974,1443.9 980,1443.9 984,1443.8 990,1443.7 994,1443.6 1000,1443.4 1004,1443.3 1010,1443.1 1014,1443.0 1020,1442.8 1024,1442.6 1030,1442.4 1034,1442.2 1040,1442.0 1044,1441.8 1050,1441.5 1054,1441.3 1060,1441.0 1064,1440.8 1070,1440.5 1074,1440.3 1080,1440.0 1084,1439.7 1090,1439.4 1094,1439.1 1100,1438.7 1104,1438.3 1110,1437.9 1114,1437.5 1120,1437.1 1124,1436.7 1130,1436.3 1134,1435.8 1140,1435.4 1144,1434.9 1150,1434.5 1154,1434.0 1160,1433.5 1164,1433.1 1170,1432.6 1174,1432.2 1180,1431.7 1184,1431.3 1190,1430.8 1194,1430.4 1198,1430.1 1198,1436.1 1194,1436.4 1190,1436.8 1184,1437.3 1180,1437.7 1174,1438.2 1170,1438.6 1164,1439.1 1160,1439.5 1154,1440.0 1150,1440.5 1144,1440.9 1140,1441.4 1134,1441.8 1130,1442.3 1124,1442.7 1120,1443.1 1114,1443.5 1110,1443.9 1104,1444.3 1100,1444.7 1094,1445.1 1090,1445.4 1084,1445.7 1080,1446.0 1074,1446.3 1070,1446.5 1064,1446.8 1060,1447.0 1054,1447.3 1050,1447.5 1044,1447.8 1040,1448.0 1034,1448.2 1030,1448.4 1024,1448.6 1020,1448.8 1014,1449.0 1010,1449.1 1004,1449.3 1000,1449.4 994,1449.6 990,1449.7 984,1449.8 980,1449.9 974,1449.9 970,1450.0 964,1450.0 960,1450.0 954,1450.0 950,1450.0 944,1450.0 940,1449.9 934,1449.8 930,1449.7 924,1449.6 920,1449.5 914,1449.4 910,1449.2 904,1449.0 900,1448.8 894,1448.6 890,1448.4 884,1448.2 880,1448.0 874,1447.8 870,1447.5 864,1447.3 860,1447.0 854,1446.8 850,1446.5 844,1446.3 840,1446.0 834,1445.7 830,1445.5 824,1445.2 820,1445.0 814,1444.7 810,1444.5 804,1444.2 800,1444.0 794,1443.7 790,1443.5 784,1443.2 780,1442.9 774,1442.7 770,1442.4 764,1442.1 760,1441.9 754,1441.6 750,1441.3 744,1441.0 740,1440.7 734,1440.4 730,1440.1 724,1439.8 720,1439.6 714,1439.3 710,1439.0 704,1438.7 700,1438.4 694,1438.1 690,1437.8 684,1437.5 680,1437.2 674,1436.9 670,1436.6 664,1436.4 660,1436.1" fill="#c2c2c2" />
</g>
<ellipse cx="948" cy="1407.3" rx="4.5" ry="1.4" fill="#fff" filter="url(#ob)"/>
<polygon points="660,1282.5 664,1282.5 670,1282.5 674,1282.5 680,1282.5 684,1282.5 690,1282.5 694,1282.5 700,1282.5 704,1282.5 710,1282.5 714,1282.5 720,1282.5 724,1282.5 730,1282.5 734,1282.5 740,1282.5 744,1282.5 750,1282.5 754,1282.5 760,1282.5 764,1282.5 770,1282.5 774,1282.5 780,1282.5 784,1282.5 790,1282.5 794,1282.5 800,1282.5 804,1282.5 810,1282.5 814,1282.5 820,1282.5 824,1282.5 830,1282.5 834,1282.5 840,1282.5 844,1282.5 850,1282.5 854,1282.5 860,1282.5 864,1282.5 870,1282.5 874,1282.5 880,1282.5 884,1282.5 890,1282.5 894,1282.5 900,1282.5 904,1282.5 910,1282.5 914,1282.5 920,1282.5 924,1282.5 930,1282.5 934,1282.5 940,1282.5 944,1282.5 950,1282.5 954,1282.5 960,1282.5 964,1282.5 970,1282.5 974,1282.5 980,1282.5 984,1282.5 990,1282.5 994,1282.5 1000,1282.5 1004,1282.5 1010,1282.5 1014,1282.5 1020,1282.5 1024,1282.5 1030,1282.5 1034,1282.5 1040,1282.5 1044,1282.5 1050,1282.5 1054,1282.5 1060,1282.5 1064,1282.5 1070,1282.5 1074,1282.5 1080,1282.5 1084,1282.5 1090,1282.5 1094,1282.5 1100,1282.5 1104,1282.5 1110,1282.5 1114,1282.5 1120,1282.5 1124,1282.5 1130,1282.5 1134,1282.5 1140,1282.5 1144,1282.5 1150,1282.5 1154,1282.5 1160,1282.5 1164,1282.5 1170,1282.5 1174,1282.5 1180,1282.5 1184,1282.5 1190,1282.5 1194,1282.5 1198,1282.5 1198,1305.5 1194,1306.0 1190,1306.6 1184,1307.2 1180,1307.9 1174,1308.5 1170,1309.1 1164,1310.1 1160,1311.2 1154,1311.9 1150,1312.0 1144,1311.7 1140,1311.1 1134,1310.4 1130,1309.5 1124,1308.3 1120,1307.0 1114,1305.6 1110,1303.5 1104,1300.8 1100,1297.9 1094,1295.0 1090,1292.3 1084,1290.2 1080,1289.1 1074,1288.2 1070,1287.4 1064,1286.6 1060,1286.0 1054,1285.4 1050,1285.0 1044,1284.7 1040,1284.5 1034,1284.5 1030,1284.6 1024,1285.3 1020,1286.3 1014,1287.6 1010,1289.0 1004,1290.4 1000,1291.8 994,1292.8 990,1293.8 984,1294.8 980,1295.9 974,1297.0 970,1298.0 964,1299.0 960,1299.8 954,1300.5 950,1300.9 944,1301.0 940,1300.6 934,1299.7 930,1298.3 924,1296.8 920,1295.1 914,1293.6 910,1292.3 904,1291.3 900,1290.2 894,1289.1 890,1288.0 884,1287.0 880,1286.1 874,1285.3 870,1284.7 864,1284.4 860,1284.3 854,1284.2 850,1284.1 844,1284.1 840,1284.1 834,1284.1 830,1284.2 824,1284.3 820,1284.4 814,1284.5 810,1284.7 804,1284.9 800,1285.1 794,1285.3 790,1285.5 784,1285.7 780,1286.0 774,1287.0 770,1288.4 764,1289.9 760,1291.2 754,1292.2 750,1292.4 744,1291.9 740,1290.9 734,1289.6 730,1288.1 724,1286.6 720,1285.3 714,1284.5 710,1284.1 704,1283.8 700,1283.6 694,1283.4 690,1283.3 684,1283.2 680,1283.2 674,1283.1 670,1283.0 664,1282.9 660,1282.8" fill="#000" filter="url(#ob15)"/>
<polygon points="660,1551.4 664,1552.2 670,1553.0 674,1553.9 680,1554.9 684,1556.0 690,1557.2 694,1558.6 700,1559.8 704,1560.8 710,1561.2 714,1561.4 720,1561.6 724,1561.8 730,1562.0 734,1562.1 740,1562.3 744,1562.4 750,1562.4 754,1562.5 760,1562.5 764,1562.4 770,1562.3 774,1562.2 780,1562.0 784,1561.4 790,1560.5 794,1559.3 800,1558.0 804,1556.8 810,1555.6 814,1554.8 820,1554.2 824,1553.6 830,1553.1 834,1552.7 840,1552.4 844,1552.3 850,1552.3 854,1552.7 860,1553.5 864,1554.8 870,1556.4 874,1558.1 880,1559.7 884,1561.2 890,1563.8 894,1566.2 900,1567.9 904,1568.1 910,1568.1 914,1568.2 920,1568.2 924,1568.2 930,1568.3 934,1568.3 940,1568.3 944,1568.4 950,1568.4 954,1568.4 960,1568.4 964,1568.5 970,1568.5 974,1568.5 980,1568.5 984,1568.5 990,1568.5 994,1568.5 1000,1568.5 1004,1568.5 1010,1568.5 1014,1568.5 1020,1568.5 1024,1568.5 1030,1568.5 1034,1568.5 1040,1568.5 1044,1568.5 1050,1568.4 1054,1568.4 1060,1568.4 1064,1568.4 1070,1568.4 1074,1568.4 1080,1568.3 1084,1568.3 1090,1568.3 1094,1568.3 1100,1568.3 1104,1568.2 1110,1568.2 1114,1568.2 1120,1568.2 1124,1568.2 1130,1568.1 1134,1568.1 1140,1568.1 1144,1568.1 1150,1568.1 1154,1568.1 1160,1568.1 1164,1568.0 1170,1568.0 1174,1568.0 1180,1568.0 1184,1568.0 1190,1568.0 1194,1568.0 1198,1568.0 1198,1562.1 1194,1562.1 1190,1562.1 1184,1562.1 1180,1562.1 1174,1562.1 1170,1562.1 1164,1562.1 1160,1562.1 1154,1562.1 1150,1562.1 1144,1562.1 1140,1562.1 1134,1562.1 1130,1562.1 1124,1562.1 1120,1562.1 1114,1562.1 1110,1562.1 1104,1562.1 1100,1562.1 1094,1562.1 1090,1562.1 1084,1562.1 1080,1562.1 1074,1562.1 1070,1562.1 1064,1562.1 1060,1562.1 1054,1562.1 1050,1562.1 1044,1562.1 1040,1562.1 1034,1562.1 1030,1562.1 1024,1562.1 1020,1562.1 1014,1562.1 1010,1562.1 1004,1562.1 1000,1562.1 994,1562.1 990,1562.1 984,1562.1 980,1562.1 974,1562.1 970,1562.1 964,1562.1 960,1562.1 954,1562.1 950,1562.1 944,1562.1 940,1562.1 934,1562.1 930,1562.1 924,1562.1 920,1562.1 914,1562.1 910,1562.1 904,1562.1 900,1562.1 894,1562.1 890,1562.1 884,1562.1 880,1562.1 874,1562.1 870,1562.1 864,1562.1 860,1562.1 854,1562.1 850,1562.1 844,1562.1 840,1562.1 834,1562.1 830,1562.1 824,1562.1 820,1562.1 814,1562.1 810,1562.1 804,1562.1 800,1562.1 794,1562.1 790,1562.1 784,1562.1 780,1562.1 774,1562.1 770,1562.1 764,1562.1 760,1562.1 754,1562.1 750,1562.1 744,1562.1 740,1562.1 734,1562.1 730,1562.1 724,1562.1 720,1562.1 714,1562.1 710,1562.1 704,1562.1 700,1562.1 694,1562.1 690,1562.1 684,1562.1 680,1562.1 674,1562.1 670,1562.1 664,1562.1 660,1562.1" fill="#000" filter="url(#ob15)"/>
</g>
<rect x="657.75" y="1280.75" width="542.5" height="283.0999999999999" fill="none" stroke="#e6a21e" stroke-width="3.5"/>
<rect x="532" y="1147.5" width="69.5" height="74.5" fill="none" stroke="#8a8a8a" stroke-width="1.6"/>
<rect x="565.15" y="1152.0" width="3.2" height="59.5" fill="#8c8c8c"/>
<polygon points="561.75,1208.5 571.75,1208.5 568.25,1217.0 565.25,1217.0" fill="#8c8c8c"/>
<text x="558.75" y="1175.7" font-size="20.5" text-anchor="middle" font-weight="normal" fill="#f2ce2a" >128</text>
<text x="566.75" y="1139.5" font-size="21" text-anchor="middle" font-weight="bold" fill="#e01818" >S</text>
<text x="566.75" y="1244.0" font-size="21" text-anchor="middle" font-weight="normal" fill="#f6ecd4" >I</text>
<text x="516" y="1191.7" font-size="21" text-anchor="middle" font-weight="normal" fill="#d4782a" >T</text>
<text x="618.0" y="1191.7" font-size="21" text-anchor="middle" font-weight="normal" fill="#ecd82a" >N</text>
<rect x="1091" y="1147.5" width="69.5" height="74.5" fill="none" stroke="#8a8a8a" stroke-width="1.6"/>
<rect x="1124.15" y="1152.0" width="3.2" height="59.5" fill="#8c8c8c"/>
<polygon points="1120.75,1208.5 1130.75,1208.5 1127.25,1217.0 1124.25,1217.0" fill="#8c8c8c"/>
<text x="1117.75" y="1175.7" font-size="20.5" text-anchor="middle" font-weight="normal" fill="#f2ce2a" >128</text>
<text x="1125.75" y="1139.5" font-size="21" text-anchor="middle" font-weight="bold" fill="#e01818" >S</text>
<text x="1125.75" y="1244.0" font-size="21" text-anchor="middle" font-weight="normal" fill="#f6ecd4" >I</text>
<text x="1075" y="1191.7" font-size="21" text-anchor="middle" font-weight="normal" fill="#d4782a" >N</text>
<text x="1177.0" y="1191.7" font-size="21" text-anchor="middle" font-weight="normal" fill="#ecd82a" >T</text>
<rect x="532" y="1450.7" width="69.5" height="74.5" fill="none" stroke="#8a8a8a" stroke-width="1.6"/>
<rect x="535" y="1487.5" width="58.5" height="3.2" fill="#8c8c8c"/>
<polygon points="592.5,1485.2 599.0,1489.1000000000001 592.5,1493.0" fill="#8c8c8c"/>
<text x="558.75" y="1478.2" font-size="20" text-anchor="middle" font-weight="normal" fill="#f2ce2a" >256</text>
<text x="566.75" y="1442.7" font-size="21" text-anchor="middle" font-weight="bold" fill="#e01818" >S</text>
<text x="566.75" y="1547.2" font-size="21" text-anchor="middle" font-weight="normal" fill="#f6ecd4" >I</text>
<text x="516" y="1494.9" font-size="21" text-anchor="middle" font-weight="normal" fill="#d4782a" >T</text>
<text x="618.0" y="1494.9" font-size="21" text-anchor="middle" font-weight="normal" fill="#ecd82a" >N</text>
<rect x="1091" y="1450.7" width="69.5" height="74.5" fill="none" stroke="#8a8a8a" stroke-width="1.6"/>
<rect x="1094" y="1487.5" width="58.5" height="3.2" fill="#8c8c8c"/>
<polygon points="1151.5,1485.2 1158.0,1489.1000000000001 1151.5,1493.0" fill="#8c8c8c"/>
<text x="1117.75" y="1478.2" font-size="20" text-anchor="middle" font-weight="normal" fill="#f2ce2a" >256</text>
<text x="1125.75" y="1442.7" font-size="21" text-anchor="middle" font-weight="bold" fill="#e01818" >S</text>
<text x="1125.75" y="1547.2" font-size="21" text-anchor="middle" font-weight="normal" fill="#f6ecd4" >I</text>
<text x="1075" y="1494.9" font-size="21" text-anchor="middle" font-weight="normal" fill="#d4782a" >N</text>
<text x="1177.0" y="1494.9" font-size="21" text-anchor="middle" font-weight="normal" fill="#ecd82a" >T</text>
<rect x="90.6" y="1220.7" width="132.6" height="33.8" fill="#fff"/>
<rect x="202.5" y="1224" width="1.2" height="27" fill="#888"/>
<rect x="203.7" y="1221" width="19.5" height="33.2" fill="#f6f6f6"/>
<polygon points="207.6,1232.6 219.6,1232.6 213.6,1241.8" fill="#4cc23c"/>
<text x="95.5" y="1243.9" font-size="23.3" text-anchor="start" font-weight="normal" fill="#000" >Grayscale</text>
<text x="642" y="1583.7" font-size="19.8" text-anchor="end" font-weight="normal" fill="#000" >OD Time:2024-01-05 13:30:17</text>
<text x="1197" y="1583.7" font-size="19.8" text-anchor="end" font-weight="normal" fill="#000" >OS Time:2024-01-05 13:30:52</text>
<path d="M216,1598.5 H1199.5 a5,5 0 0 1 5,5 V1727 a5,5 0 0 1 -5,5 H82 a5,5 0 0 1 -5,-5 V1604 a5,5 0 0 1 5,-5" fill="none" stroke="#111" stroke-width="2"/>
<text x="84.8" y="1606" font-size="29.6" text-anchor="start" font-weight="normal" fill="#1414e6" >Comments</text>
<text x="877.3" y="1720.7" font-size="19.8" text-anchor="start" font-weight="normal" fill="#2020d0" >Doctor's Signature：</text>
<rect x="1049" y="1724" width="149" height="1.5" fill="#222"/>
<rect x="648" y="1724" width="219" height="1.5" fill="#222"/>
<rect x="668" y="1700" width="199" height="24" fill="#fff" stroke="#eee" stroke-width="1"/>
<rect x="846" y="1703" width="1" height="20" fill="#999"/>
<polygon points="851,1707 863,1707 857,1717" fill="#4cc23c"/>
<rect x="75" y="1743" width="1131" height="3.2" fill="#f0845a"/>
<text x="74.8" y="1773" font-size="19.8" text-anchor="start" font-weight="normal" fill="#000" >Ophthalmic OCT</text>
<text x="315" y="1773" font-size="19.8" text-anchor="start" font-weight="normal" fill="#000" >Software Version：V1.3.0</text>
<text x="671" y="1773" font-size="19.8" text-anchor="start" font-weight="normal" fill="#000" >Database Version：V1</text>
<text x="914" y="1773" font-size="19.8" text-anchor="start" font-weight="normal" fill="#000" >Report Time： 2024-01-05 15:04:27</text>
</svg></body></html>
